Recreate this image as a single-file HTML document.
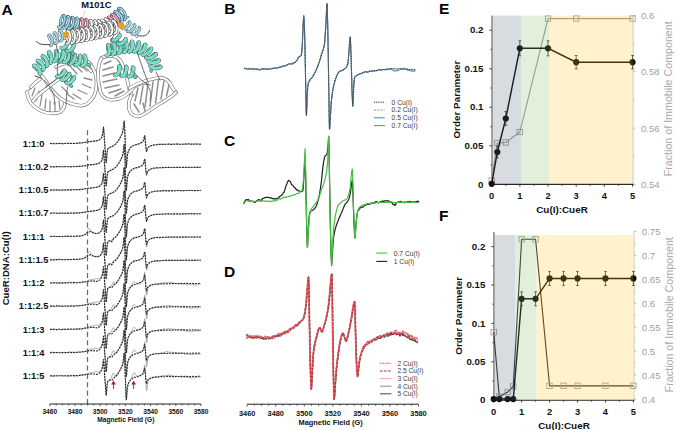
<!DOCTYPE html>
<html><head><meta charset="utf-8"><style>
html,body{margin:0;padding:0;background:#fff;width:676px;height:430px;overflow:hidden}
svg{display:block;font-family:"Liberation Sans", sans-serif}
</style></head><body>
<svg width="676" height="430" viewBox="0 0 676 430">
<rect width="676" height="430" fill="#fff"/>
<line x1="32.0" y1="96.0" x2="35.0" y2="88.0" stroke="#8e8e8e" stroke-width="1.30" stroke-linecap="round"/>
<line x1="36.0" y1="101.0" x2="39.0" y2="91.0" stroke="#8e8e8e" stroke-width="1.30" stroke-linecap="round"/>
<line x1="40.0" y1="106.0" x2="42.0" y2="95.0" stroke="#8e8e8e" stroke-width="1.30" stroke-linecap="round"/>
<line x1="45.0" y1="109.0" x2="46.0" y2="99.0" stroke="#8e8e8e" stroke-width="1.30" stroke-linecap="round"/>
<line x1="50.0" y1="111.0" x2="50.0" y2="101.0" stroke="#8e8e8e" stroke-width="1.30" stroke-linecap="round"/>
<line x1="55.0" y1="111.0" x2="55.0" y2="102.0" stroke="#8e8e8e" stroke-width="1.30" stroke-linecap="round"/>
<line x1="60.0" y1="109.0" x2="59.0" y2="101.0" stroke="#8e8e8e" stroke-width="1.30" stroke-linecap="round"/>
<line x1="29.0" y1="90.0" x2="35.0" y2="84.0" stroke="#8e8e8e" stroke-width="1.30" stroke-linecap="round"/>
<line x1="70.0" y1="66.0" x2="77.0" y2="74.0" stroke="#8e8e8e" stroke-width="1.30" stroke-linecap="round"/>
<line x1="75.0" y1="65.0" x2="82.0" y2="72.0" stroke="#8e8e8e" stroke-width="1.30" stroke-linecap="round"/>
<line x1="80.0" y1="64.0" x2="87.0" y2="71.0" stroke="#8e8e8e" stroke-width="1.30" stroke-linecap="round"/>
<line x1="85.0" y1="66.0" x2="91.0" y2="72.0" stroke="#8e8e8e" stroke-width="1.30" stroke-linecap="round"/>
<line x1="66.0" y1="71.0" x2="73.0" y2="78.0" stroke="#8e8e8e" stroke-width="1.30" stroke-linecap="round"/>
<line x1="84.0" y1="78.0" x2="92.0" y2="80.0" stroke="#8e8e8e" stroke-width="1.30" stroke-linecap="round"/>
<line x1="82.0" y1="84.0" x2="91.0" y2="88.0" stroke="#8e8e8e" stroke-width="1.30" stroke-linecap="round"/>
<line x1="78.0" y1="90.0" x2="87.0" y2="94.0" stroke="#8e8e8e" stroke-width="1.30" stroke-linecap="round"/>
<line x1="73.0" y1="94.0" x2="81.0" y2="99.0" stroke="#8e8e8e" stroke-width="1.30" stroke-linecap="round"/>
<line x1="67.0" y1="94.0" x2="74.0" y2="99.0" stroke="#8e8e8e" stroke-width="1.30" stroke-linecap="round"/>
<line x1="62.0" y1="87.0" x2="68.0" y2="93.0" stroke="#8e8e8e" stroke-width="1.30" stroke-linecap="round"/>
<path d="M26.8 92 C28 100 33 107 39.7 110.2 C45 113 53 114 59.3 112.5 C63 111 64.5 108 65.4 102" fill="none" stroke="#7c7c7c" stroke-width="3.60" stroke-linecap="round" stroke-linejoin="round"/><path d="M26.8 92 C28 100 33 107 39.7 110.2 C45 113 53 114 59.3 112.5 C63 111 64.5 108 65.4 102" fill="none" stroke="#ffffff" stroke-width="2.20" stroke-linecap="round" stroke-linejoin="round"/>
<path d="M35 67 C39 72 42 76 45 80 C50 88 55 94 60 98 C66 102 73 105 80.5 105.7 C86 106 91 101 94.1 95.8 C97 90 97 80 95.6 74.7 C94.5 70 91 64 88.1 61.8" fill="none" stroke="#7c7c7c" stroke-width="3.60" stroke-linecap="round" stroke-linejoin="round"/><path d="M35 67 C39 72 42 76 45 80 C50 88 55 94 60 98 C66 102 73 105 80.5 105.7 C86 106 91 101 94.1 95.8 C97 90 97 80 95.6 74.7 C94.5 70 91 64 88.1 61.8" fill="none" stroke="#ffffff" stroke-width="2.20" stroke-linecap="round" stroke-linejoin="round"/>
<path d="M33 101 C36 97 39 94 42 92 C47 88 53 83 58 80 C62 78 66 76.5 70 75.5" fill="none" stroke="#7c7c7c" stroke-width="3.60" stroke-linecap="round" stroke-linejoin="round"/><path d="M33 101 C36 97 39 94 42 92 C47 88 53 83 58 80 C62 78 66 76.5 70 75.5" fill="none" stroke="#ffffff" stroke-width="2.20" stroke-linecap="round" stroke-linejoin="round"/>
<path d="M31 87 C34 84 37 81 40 79" fill="none" stroke="#7c7c7c" stroke-width="3.60" stroke-linecap="round" stroke-linejoin="round"/><path d="M31 87 C34 84 37 81 40 79" fill="none" stroke="#ffffff" stroke-width="2.20" stroke-linecap="round" stroke-linejoin="round"/>
<path d="M56 67 C63 63 70 62 77 63 C83 64 88 67 91 71" fill="none" stroke="#7c7c7c" stroke-width="3.60" stroke-linecap="round" stroke-linejoin="round"/><path d="M56 67 C63 63 70 62 77 63 C83 64 88 67 91 71" fill="none" stroke="#ffffff" stroke-width="2.20" stroke-linecap="round" stroke-linejoin="round"/>
<path d="M35 76 L41 78" fill="none" stroke="#333" stroke-width="0.90" stroke-linecap="round"/>
<path d="M45.7 87.5 C50 84 56 80 59.3 76.2" fill="none" stroke="#444" stroke-width="0.80" stroke-linecap="round"/>
<path d="M44 80 C52 88 56 96 54 104" fill="none" stroke="#555" stroke-width="0.80" stroke-linecap="round"/>
<path d="M66 104 C67 98 66 92 68 86" fill="none" stroke="#555" stroke-width="0.80" stroke-linecap="round"/>
<line x1="104.0" y1="64.0" x2="111.0" y2="61.0" stroke="#8e8e8e" stroke-width="1.50" stroke-linecap="round"/>
<line x1="103.0" y1="70.0" x2="113.0" y2="67.0" stroke="#8e8e8e" stroke-width="1.50" stroke-linecap="round"/>
<line x1="103.0" y1="76.0" x2="115.0" y2="73.0" stroke="#8e8e8e" stroke-width="1.50" stroke-linecap="round"/>
<line x1="103.0" y1="82.0" x2="117.0" y2="79.0" stroke="#8e8e8e" stroke-width="1.50" stroke-linecap="round"/>
<line x1="105.0" y1="88.0" x2="119.0" y2="85.0" stroke="#8e8e8e" stroke-width="1.50" stroke-linecap="round"/>
<line x1="109.0" y1="93.0" x2="121.0" y2="89.0" stroke="#8e8e8e" stroke-width="1.50" stroke-linecap="round"/>
<line x1="115.0" y1="96.0" x2="124.0" y2="91.0" stroke="#8e8e8e" stroke-width="1.50" stroke-linecap="round"/>
<line x1="118.0" y1="60.0" x2="122.0" y2="66.0" stroke="#8e8e8e" stroke-width="1.50" stroke-linecap="round"/>
<line x1="138.0" y1="88.0" x2="135.0" y2="101.0" stroke="#8e8e8e" stroke-width="1.50" stroke-linecap="round"/>
<line x1="143.0" y1="86.0" x2="140.0" y2="104.0" stroke="#8e8e8e" stroke-width="1.50" stroke-linecap="round"/>
<line x1="148.0" y1="84.0" x2="145.0" y2="107.0" stroke="#8e8e8e" stroke-width="1.50" stroke-linecap="round"/>
<line x1="153.0" y1="82.0" x2="150.0" y2="106.0" stroke="#8e8e8e" stroke-width="1.50" stroke-linecap="round"/>
<line x1="158.5" y1="80.0" x2="155.5" y2="103.0" stroke="#8e8e8e" stroke-width="1.50" stroke-linecap="round"/>
<line x1="164.0" y1="81.0" x2="161.0" y2="99.0" stroke="#8e8e8e" stroke-width="1.50" stroke-linecap="round"/>
<line x1="169.0" y1="85.0" x2="166.5" y2="96.0" stroke="#8e8e8e" stroke-width="1.50" stroke-linecap="round"/>
<line x1="134.0" y1="104.0" x2="139.0" y2="112.0" stroke="#8e8e8e" stroke-width="1.50" stroke-linecap="round"/>
<line x1="143.0" y1="103.0" x2="145.0" y2="111.0" stroke="#8e8e8e" stroke-width="1.50" stroke-linecap="round"/>
<path d="M101.5 57.8 C108 55 116 55 120 60 C125 67 127 78 129 88 C130 92 131 94 132 95" fill="none" stroke="#7c7c7c" stroke-width="3.60" stroke-linecap="round" stroke-linejoin="round"/><path d="M101.5 57.8 C108 55 116 55 120 60 C125 67 127 78 129 88 C130 92 131 94 132 95" fill="none" stroke="#ffffff" stroke-width="2.20" stroke-linecap="round" stroke-linejoin="round"/>
<path d="M101.5 58 C97 66 97 80 100.5 92 C103 99 110 101 118 99 C126 97 131 91 134 87 C138 84 142 83 145 83" fill="none" stroke="#7c7c7c" stroke-width="3.60" stroke-linecap="round" stroke-linejoin="round"/><path d="M101.5 58 C97 66 97 80 100.5 92 C103 99 110 101 118 99 C126 97 131 91 134 87 C138 84 142 83 145 83" fill="none" stroke="#ffffff" stroke-width="2.20" stroke-linecap="round" stroke-linejoin="round"/>
<path d="M129.8 88 C136 84 146 80 159 77.7 C165 77 169 80 172.7 88 C174 91 176 92 176 92.4" fill="none" stroke="#7c7c7c" stroke-width="3.60" stroke-linecap="round" stroke-linejoin="round"/><path d="M129.8 88 C136 84 146 80 159 77.7 C165 77 169 80 172.7 88 C174 91 176 92 176 92.4" fill="none" stroke="#ffffff" stroke-width="2.20" stroke-linecap="round" stroke-linejoin="round"/>
<path d="M176 92.4 C172 97 165 101 156 106 C149 111 144 115 139 116.4 C133 117 129 113 128.7 106 C128.5 101 130 98 131 96" fill="none" stroke="#7c7c7c" stroke-width="3.60" stroke-linecap="round" stroke-linejoin="round"/><path d="M176 92.4 C172 97 165 101 156 106 C149 111 144 115 139 116.4 C133 117 129 113 128.7 106 C128.5 101 130 98 131 96" fill="none" stroke="#ffffff" stroke-width="2.20" stroke-linecap="round" stroke-linejoin="round"/>
<path d="M146 84 C150 88 152 94 150 100" fill="none" stroke="#555" stroke-width="0.80" stroke-linecap="round"/>
<polyline points="33.8,65.6 33.8,66.2 34.5,67.1 35.7,68.2 37.4,69.2 39.2,69.9 41.0,70.3 42.5,70.1 43.4,69.5" fill="none" stroke="#505050" stroke-width="3.23" stroke-linecap="round"/>
<polyline points="33.8,65.6 33.8,66.2 34.5,67.1 35.7,68.2 37.4,69.2 39.2,69.9 41.0,70.3 42.5,70.1 43.4,69.5" fill="none" stroke="#62cdb6" stroke-width="2.33" stroke-linecap="round"/>
<polyline points="37.7,60.8 37.7,61.4 38.3,62.4 39.5,63.5 41.0,64.6 42.8,65.5 44.5,66.0 46.0,66.1 47.0,65.6" fill="none" stroke="#505050" stroke-width="3.23" stroke-linecap="round"/>
<polyline points="37.7,60.8 37.7,61.4 38.3,62.4 39.5,63.5 41.0,64.6 42.8,65.5 44.5,66.0 46.0,66.1 47.0,65.6" fill="none" stroke="#62cdb6" stroke-width="2.33" stroke-linecap="round"/>
<polyline points="42.6,56.2 42.4,56.8 42.8,57.9 43.8,59.2 45.2,60.5 46.8,61.7 48.4,62.5 49.7,62.9 50.7,62.7" fill="none" stroke="#505050" stroke-width="3.23" stroke-linecap="round"/>
<polyline points="42.6,56.2 42.4,56.8 42.8,57.9 43.8,59.2 45.2,60.5 46.8,61.7 48.4,62.5 49.7,62.9 50.7,62.7" fill="none" stroke="#62cdb6" stroke-width="2.33" stroke-linecap="round"/>
<polyline points="48.9,52.4 48.5,53.0 48.6,54.2 49.1,55.7 50.1,57.4 51.3,58.9 52.5,60.2 53.5,61.1 54.3,61.3" fill="none" stroke="#505050" stroke-width="3.23" stroke-linecap="round"/>
<polyline points="48.9,52.4 48.5,53.0 48.6,54.2 49.1,55.7 50.1,57.4 51.3,58.9 52.5,60.2 53.5,61.1 54.3,61.3" fill="none" stroke="#62cdb6" stroke-width="2.33" stroke-linecap="round"/>
<polyline points="56.4,51.1 55.8,51.5 55.5,52.6 55.5,54.2 55.8,56.1 56.3,58.0 57.1,59.6 57.9,60.8 58.8,61.2" fill="none" stroke="#505050" stroke-width="3.23" stroke-linecap="round"/>
<polyline points="56.4,51.1 55.8,51.5 55.5,52.6 55.5,54.2 55.8,56.1 56.3,58.0 57.1,59.6 57.9,60.8 58.8,61.2" fill="none" stroke="#62cdb6" stroke-width="2.33" stroke-linecap="round"/>
<polyline points="63.1,51.7 62.6,52.0 62.1,53.0 61.7,54.6 61.6,56.6 61.8,58.5 62.2,60.3 63.0,61.5 63.9,62.1" fill="none" stroke="#505050" stroke-width="3.23" stroke-linecap="round"/>
<polyline points="63.1,51.7 62.6,52.0 62.1,53.0 61.7,54.6 61.6,56.6 61.8,58.5 62.2,60.3 63.0,61.5 63.9,62.1" fill="none" stroke="#62cdb6" stroke-width="2.33" stroke-linecap="round"/>
<polyline points="69.2,53.1 68.7,53.4 68.1,54.4 67.6,55.9 67.3,57.8 67.3,59.8 67.7,61.6 68.4,62.9 69.5,63.6" fill="none" stroke="#505050" stroke-width="3.23" stroke-linecap="round"/>
<polyline points="69.2,53.1 68.7,53.4 68.1,54.4 67.6,55.9 67.3,57.8 67.3,59.8 67.7,61.6 68.4,62.9 69.5,63.6" fill="none" stroke="#62cdb6" stroke-width="2.33" stroke-linecap="round"/>
<polyline points="74.8,54.6 74.3,54.9 73.7,55.8 73.2,57.4 73.0,59.3 73.0,61.3 73.5,63.1 74.3,64.4 75.5,65.0" fill="none" stroke="#505050" stroke-width="3.23" stroke-linecap="round"/>
<polyline points="74.8,54.6 74.3,54.9 73.7,55.8 73.2,57.4 73.0,59.3 73.0,61.3 73.5,63.1 74.3,64.4 75.5,65.0" fill="none" stroke="#62cdb6" stroke-width="2.33" stroke-linecap="round"/>
<polyline points="80.0,55.6 79.5,56.0 79.1,57.0 78.8,58.6 78.7,60.5 79.0,62.5 79.7,64.2 80.8,65.4 82.1,65.8" fill="none" stroke="#505050" stroke-width="3.23" stroke-linecap="round"/>
<polyline points="80.0,55.6 79.5,56.0 79.1,57.0 78.8,58.6 78.7,60.5 79.0,62.5 79.7,64.2 80.8,65.4 82.1,65.8" fill="none" stroke="#62cdb6" stroke-width="2.33" stroke-linecap="round"/>
<polyline points="84.5,55.7 84.2,56.1 84.1,57.2 84.2,58.9 84.5,60.7 85.3,62.6 86.5,64.0 88.0,64.8 89.6,64.8" fill="none" stroke="#505050" stroke-width="3.23" stroke-linecap="round"/>
<polyline points="84.5,55.7 84.2,56.1 84.1,57.2 84.2,58.9 84.5,60.7 85.3,62.6 86.5,64.0 88.0,64.8 89.6,64.8" fill="none" stroke="#62cdb6" stroke-width="2.33" stroke-linecap="round"/>
<polyline points="40.0,74.0 40.4,72.8 40.1,71.3 39.3,69.7 38.1,68.2 36.8,66.8 35.4,65.9 34.4,65.5 33.8,65.6" fill="none" stroke="#505050" stroke-width="4.00" stroke-linecap="round"/>
<polyline points="40.0,74.0 40.4,72.8 40.1,71.3 39.3,69.7 38.1,68.2 36.8,66.8 35.4,65.9 34.4,65.5 33.8,65.6" fill="none" stroke="#72e2cb" stroke-width="3.10" stroke-linecap="round"/>
<polyline points="43.4,69.5 43.8,68.4 43.6,67.0 42.9,65.3 41.9,63.7 40.6,62.2 39.4,61.2 38.3,60.7 37.7,60.8" fill="none" stroke="#505050" stroke-width="4.00" stroke-linecap="round"/>
<polyline points="43.4,69.5 43.8,68.4 43.6,67.0 42.9,65.3 41.9,63.7 40.6,62.2 39.4,61.2 38.3,60.7 37.7,60.8" fill="none" stroke="#72e2cb" stroke-width="3.10" stroke-linecap="round"/>
<polyline points="47.0,65.6 47.4,64.7 47.4,63.2 46.9,61.5 46.2,59.7 45.2,58.0 44.1,56.8 43.2,56.2 42.6,56.2" fill="none" stroke="#505050" stroke-width="4.00" stroke-linecap="round"/>
<polyline points="47.0,65.6 47.4,64.7 47.4,63.2 46.9,61.5 46.2,59.7 45.2,58.0 44.1,56.8 43.2,56.2 42.6,56.2" fill="none" stroke="#72e2cb" stroke-width="3.10" stroke-linecap="round"/>
<polyline points="50.7,62.7 51.2,61.9 51.5,60.6 51.5,58.9 51.3,56.9 50.9,55.0 50.3,53.5 49.6,52.6 48.9,52.4" fill="none" stroke="#505050" stroke-width="4.00" stroke-linecap="round"/>
<polyline points="50.7,62.7 51.2,61.9 51.5,60.6 51.5,58.9 51.3,56.9 50.9,55.0 50.3,53.5 49.6,52.6 48.9,52.4" fill="none" stroke="#72e2cb" stroke-width="3.10" stroke-linecap="round"/>
<polyline points="54.3,61.3 55.1,60.8 55.9,59.6 56.5,58.0 57.1,56.1 57.3,54.2 57.2,52.6 56.9,51.5 56.4,51.1" fill="none" stroke="#505050" stroke-width="4.00" stroke-linecap="round"/>
<polyline points="54.3,61.3 55.1,60.8 55.9,59.6 56.5,58.0 57.1,56.1 57.3,54.2 57.2,52.6 56.9,51.5 56.4,51.1" fill="none" stroke="#72e2cb" stroke-width="3.10" stroke-linecap="round"/>
<polyline points="58.8,61.2 59.9,61.0 60.9,60.0 62.0,58.6 62.9,56.8 63.4,55.0 63.7,53.3 63.5,52.2 63.1,51.7" fill="none" stroke="#505050" stroke-width="4.00" stroke-linecap="round"/>
<polyline points="58.8,61.2 59.9,61.0 60.9,60.0 62.0,58.6 62.9,56.8 63.4,55.0 63.7,53.3 63.5,52.2 63.1,51.7" fill="none" stroke="#72e2cb" stroke-width="3.10" stroke-linecap="round"/>
<polyline points="63.9,62.1 65.1,62.0 66.4,61.2 67.6,59.9 68.5,58.1 69.2,56.3 69.6,54.8 69.5,53.6 69.2,53.1" fill="none" stroke="#505050" stroke-width="4.00" stroke-linecap="round"/>
<polyline points="63.9,62.1 65.1,62.0 66.4,61.2 67.6,59.9 68.5,58.1 69.2,56.3 69.6,54.8 69.5,53.6 69.2,53.1" fill="none" stroke="#72e2cb" stroke-width="3.10" stroke-linecap="round"/>
<polyline points="69.5,63.6 70.7,63.5 72.0,62.7 73.2,61.3 74.2,59.6 74.8,57.8 75.1,56.2 75.1,55.1 74.8,54.6" fill="none" stroke="#505050" stroke-width="4.00" stroke-linecap="round"/>
<polyline points="69.5,63.6 70.7,63.5 72.0,62.7 73.2,61.3 74.2,59.6 74.8,57.8 75.1,56.2 75.1,55.1 74.8,54.6" fill="none" stroke="#72e2cb" stroke-width="3.10" stroke-linecap="round"/>
<polyline points="75.5,65.0 76.8,64.9 78.1,64.0 79.2,62.5 80.0,60.7 80.4,58.8 80.4,57.2 80.3,56.1 80.0,55.6" fill="none" stroke="#505050" stroke-width="4.00" stroke-linecap="round"/>
<polyline points="75.5,65.0 76.8,64.9 78.1,64.0 79.2,62.5 80.0,60.7 80.4,58.8 80.4,57.2 80.3,56.1 80.0,55.6" fill="none" stroke="#72e2cb" stroke-width="3.10" stroke-linecap="round"/>
<polyline points="82.1,65.8 83.6,65.4 84.8,64.3 85.5,62.5 85.8,60.6 85.6,58.7 85.3,57.1 84.9,56.0 84.5,55.7" fill="none" stroke="#505050" stroke-width="4.00" stroke-linecap="round"/>
<polyline points="82.1,65.8 83.6,65.4 84.8,64.3 85.5,62.5 85.8,60.6 85.6,58.7 85.3,57.1 84.9,56.0 84.5,55.7" fill="none" stroke="#72e2cb" stroke-width="3.10" stroke-linecap="round"/>
<polyline points="67.7,42.5 67.4,42.7 66.9,43.4 66.4,44.6 66.0,46.0 65.9,47.6 66.0,49.1 66.5,50.3 67.3,51.0" fill="none" stroke="#505050" stroke-width="3.23" stroke-linecap="round"/>
<polyline points="67.7,42.5 67.4,42.7 66.9,43.4 66.4,44.6 66.0,46.0 65.9,47.6 66.0,49.1 66.5,50.3 67.3,51.0" fill="none" stroke="#62cdb6" stroke-width="2.33" stroke-linecap="round"/>
<polyline points="73.7,45.5 73.4,45.7 72.9,46.4 72.4,47.6 72.0,49.0 71.9,50.6 72.0,52.1 72.5,53.3 73.3,54.0" fill="none" stroke="#505050" stroke-width="3.23" stroke-linecap="round"/>
<polyline points="73.7,45.5 73.4,45.7 72.9,46.4 72.4,47.6 72.0,49.0 71.9,50.6 72.0,52.1 72.5,53.3 73.3,54.0" fill="none" stroke="#62cdb6" stroke-width="2.33" stroke-linecap="round"/>
<polyline points="61.3,48.0 62.3,48.2 63.6,47.9 64.8,47.1 66.0,46.0 66.9,44.8 67.5,43.7 67.8,42.9 67.7,42.5" fill="none" stroke="#505050" stroke-width="4.00" stroke-linecap="round"/>
<polyline points="61.3,48.0 62.3,48.2 63.6,47.9 64.8,47.1 66.0,46.0 66.9,44.8 67.5,43.7 67.8,42.9 67.7,42.5" fill="none" stroke="#72e2cb" stroke-width="3.10" stroke-linecap="round"/>
<polyline points="67.3,51.0 68.3,51.2 69.6,50.9 70.8,50.1 72.0,49.0 72.9,47.8 73.5,46.7 73.8,45.9 73.7,45.5" fill="none" stroke="#505050" stroke-width="4.00" stroke-linecap="round"/>
<polyline points="67.3,51.0 68.3,51.2 69.6,50.9 70.8,50.1 72.0,49.0 72.9,47.8 73.5,46.7 73.8,45.9 73.7,45.5" fill="none" stroke="#72e2cb" stroke-width="3.10" stroke-linecap="round"/>
<polyline points="64.5,70.5 64.0,70.5 63.2,71.2 62.4,72.4 61.6,73.9 61.0,75.6 60.8,77.3 61.1,78.6 61.8,79.5" fill="none" stroke="#505050" stroke-width="3.23" stroke-linecap="round"/>
<polyline points="64.5,70.5 64.0,70.5 63.2,71.2 62.4,72.4 61.6,73.9 61.0,75.6 60.8,77.3 61.1,78.6 61.8,79.5" fill="none" stroke="#62cdb6" stroke-width="2.33" stroke-linecap="round"/>
<polyline points="69.3,73.8 68.8,73.9 68.1,74.5 67.2,75.7 66.4,77.3 65.8,79.0 65.7,80.6 65.9,82.0 66.6,82.9" fill="none" stroke="#505050" stroke-width="3.23" stroke-linecap="round"/>
<polyline points="69.3,73.8 68.8,73.9 68.1,74.5 67.2,75.7 66.4,77.3 65.8,79.0 65.7,80.6 65.9,82.0 66.6,82.9" fill="none" stroke="#62cdb6" stroke-width="2.33" stroke-linecap="round"/>
<polyline points="74.1,77.1 73.7,77.2 72.9,77.9 72.0,79.0 71.2,80.6 70.7,82.3 70.5,83.9 70.7,85.3 71.4,86.2" fill="none" stroke="#505050" stroke-width="3.23" stroke-linecap="round"/>
<polyline points="74.1,77.1 73.7,77.2 72.9,77.9 72.0,79.0 71.2,80.6 70.7,82.3 70.5,83.9 70.7,85.3 71.4,86.2" fill="none" stroke="#62cdb6" stroke-width="2.33" stroke-linecap="round"/>
<polyline points="56.9,76.2 58.0,76.5 59.4,76.3 60.9,75.5 62.3,74.4 63.4,73.1 64.2,71.9 64.6,70.9 64.5,70.5" fill="none" stroke="#505050" stroke-width="4.00" stroke-linecap="round"/>
<polyline points="56.9,76.2 58.0,76.5 59.4,76.3 60.9,75.5 62.3,74.4 63.4,73.1 64.2,71.9 64.6,70.9 64.5,70.5" fill="none" stroke="#72e2cb" stroke-width="3.10" stroke-linecap="round"/>
<polyline points="61.8,79.5 62.9,79.9 64.2,79.6 65.7,78.9 67.1,77.7 68.3,76.4 69.1,75.2 69.4,74.3 69.3,73.8" fill="none" stroke="#505050" stroke-width="4.00" stroke-linecap="round"/>
<polyline points="61.8,79.5 62.9,79.9 64.2,79.6 65.7,78.9 67.1,77.7 68.3,76.4 69.1,75.2 69.4,74.3 69.3,73.8" fill="none" stroke="#72e2cb" stroke-width="3.10" stroke-linecap="round"/>
<polyline points="66.6,82.9 67.7,83.2 69.1,83.0 70.5,82.2 71.9,81.1 73.1,79.8 73.9,78.6 74.2,77.6 74.1,77.1" fill="none" stroke="#505050" stroke-width="4.00" stroke-linecap="round"/>
<polyline points="66.6,82.9 67.7,83.2 69.1,83.0 70.5,82.2 71.9,81.1 73.1,79.8 73.9,78.6 74.2,77.6 74.1,77.1" fill="none" stroke="#72e2cb" stroke-width="3.10" stroke-linecap="round"/>
<path d="M58 75 C56 68 58 62 60 58" fill="none" stroke="#454545" stroke-width="0.80" stroke-linecap="round"/>
<path d="M70 52 C72 56 70 62 68 66" fill="none" stroke="#454545" stroke-width="0.80" stroke-linecap="round"/>
<polyline points="108.1,45.2 107.7,45.6 107.6,46.7 107.8,48.3 108.2,50.2 109.1,52.0 110.2,53.5 111.4,54.4 112.7,54.5" fill="none" stroke="#505050" stroke-width="3.23" stroke-linecap="round"/>
<polyline points="108.1,45.2 107.7,45.6 107.6,46.7 107.8,48.3 108.2,50.2 109.1,52.0 110.2,53.5 111.4,54.4 112.7,54.5" fill="none" stroke="#62cdb6" stroke-width="2.33" stroke-linecap="round"/>
<polyline points="113.6,44.1 113.2,44.6 113.1,45.7 113.4,47.3 114.0,49.2 114.9,50.9 116.0,52.3 117.3,53.2 118.5,53.3" fill="none" stroke="#505050" stroke-width="3.23" stroke-linecap="round"/>
<polyline points="113.6,44.1 113.2,44.6 113.1,45.7 113.4,47.3 114.0,49.2 114.9,50.9 116.0,52.3 117.3,53.2 118.5,53.3" fill="none" stroke="#62cdb6" stroke-width="2.33" stroke-linecap="round"/>
<polyline points="119.3,42.9 118.9,43.4 118.8,44.5 119.1,46.1 119.7,48.0 120.5,49.7 121.6,51.2 122.8,52.0 124.0,52.2" fill="none" stroke="#505050" stroke-width="3.23" stroke-linecap="round"/>
<polyline points="119.3,42.9 118.9,43.4 118.8,44.5 119.1,46.1 119.7,48.0 120.5,49.7 121.6,51.2 122.8,52.0 124.0,52.2" fill="none" stroke="#62cdb6" stroke-width="2.33" stroke-linecap="round"/>
<polyline points="125.4,41.9 125.0,42.3 124.8,43.5 124.9,45.1 125.4,47.0 126.1,48.8 127.1,50.3 128.2,51.3 129.2,51.6" fill="none" stroke="#505050" stroke-width="3.23" stroke-linecap="round"/>
<polyline points="125.4,41.9 125.0,42.3 124.8,43.5 124.9,45.1 125.4,47.0 126.1,48.8 127.1,50.3 128.2,51.3 129.2,51.6" fill="none" stroke="#62cdb6" stroke-width="2.33" stroke-linecap="round"/>
<polyline points="131.9,41.5 131.4,41.9 131.0,43.0 130.9,44.6 131.2,46.5 131.7,48.4 132.4,50.1 133.3,51.2 134.2,51.6" fill="none" stroke="#505050" stroke-width="3.23" stroke-linecap="round"/>
<polyline points="131.9,41.5 131.4,41.9 131.0,43.0 130.9,44.6 131.2,46.5 131.7,48.4 132.4,50.1 133.3,51.2 134.2,51.6" fill="none" stroke="#62cdb6" stroke-width="2.33" stroke-linecap="round"/>
<polyline points="138.7,42.3 138.1,42.5 137.5,43.5 137.1,45.1 137.0,47.0 137.1,49.0 137.4,50.7 137.9,52.0 138.7,52.7" fill="none" stroke="#505050" stroke-width="3.23" stroke-linecap="round"/>
<polyline points="138.7,42.3 138.1,42.5 137.5,43.5 137.1,45.1 137.0,47.0 137.1,49.0 137.4,50.7 137.9,52.0 138.7,52.7" fill="none" stroke="#62cdb6" stroke-width="2.33" stroke-linecap="round"/>
<polyline points="145.3,44.7 144.7,44.8 143.9,45.6 143.1,47.0 142.5,48.8 142.1,50.8 142.0,52.5 142.2,53.9 142.7,54.7" fill="none" stroke="#505050" stroke-width="3.23" stroke-linecap="round"/>
<polyline points="145.3,44.7 144.7,44.8 143.9,45.6 143.1,47.0 142.5,48.8 142.1,50.8 142.0,52.5 142.2,53.9 142.7,54.7" fill="none" stroke="#62cdb6" stroke-width="2.33" stroke-linecap="round"/>
<polyline points="151.2,48.6 150.5,48.6 149.5,49.1 148.4,50.3 147.4,51.9 146.5,53.7 145.9,55.4 145.8,56.8 146.1,57.7" fill="none" stroke="#505050" stroke-width="3.23" stroke-linecap="round"/>
<polyline points="151.2,48.6 150.5,48.6 149.5,49.1 148.4,50.3 147.4,51.9 146.5,53.7 145.9,55.4 145.8,56.8 146.1,57.7" fill="none" stroke="#62cdb6" stroke-width="2.33" stroke-linecap="round"/>
<polyline points="155.8,54.1 155.2,53.8 154.1,54.1 152.7,55.0 151.3,56.2 149.9,57.7 148.9,59.2 148.4,60.5 148.5,61.5" fill="none" stroke="#505050" stroke-width="3.23" stroke-linecap="round"/>
<polyline points="155.8,54.1 155.2,53.8 154.1,54.1 152.7,55.0 151.3,56.2 149.9,57.7 148.9,59.2 148.4,60.5 148.5,61.5" fill="none" stroke="#62cdb6" stroke-width="2.33" stroke-linecap="round"/>
<polyline points="158.9,60.3 158.3,59.9 157.2,60.0 155.6,60.5 153.9,61.4 152.3,62.5 151.0,63.8 150.3,65.0 150.2,66.0" fill="none" stroke="#505050" stroke-width="3.23" stroke-linecap="round"/>
<polyline points="158.9,60.3 158.3,59.9 157.2,60.0 155.6,60.5 153.9,61.4 152.3,62.5 151.0,63.8 150.3,65.0 150.2,66.0" fill="none" stroke="#62cdb6" stroke-width="2.33" stroke-linecap="round"/>
<polyline points="160.6,66.8 160.1,66.3 159.0,66.2 157.3,66.4 155.5,67.0 153.7,67.8 152.2,68.8 151.3,69.9 151.0,71.0" fill="none" stroke="#505050" stroke-width="3.23" stroke-linecap="round"/>
<polyline points="160.6,66.8 160.1,66.3 159.0,66.2 157.3,66.4 155.5,67.0 153.7,67.8 152.2,68.8 151.3,69.9 151.0,71.0" fill="none" stroke="#62cdb6" stroke-width="2.33" stroke-linecap="round"/>
<polyline points="106.5,55.5 107.8,54.9 108.7,53.7 109.3,52.0 109.5,50.0 109.4,48.1 109.0,46.5 108.6,45.5 108.1,45.2" fill="none" stroke="#505050" stroke-width="4.00" stroke-linecap="round"/>
<polyline points="106.5,55.5 107.8,54.9 108.7,53.7 109.3,52.0 109.5,50.0 109.4,48.1 109.0,46.5 108.6,45.5 108.1,45.2" fill="none" stroke="#72e2cb" stroke-width="3.10" stroke-linecap="round"/>
<polyline points="112.7,54.5 113.8,53.9 114.6,52.6 115.1,50.9 115.2,48.9 115.0,47.0 114.6,45.4 114.1,44.4 113.6,44.1" fill="none" stroke="#505050" stroke-width="4.00" stroke-linecap="round"/>
<polyline points="112.7,54.5 113.8,53.9 114.6,52.6 115.1,50.9 115.2,48.9 115.0,47.0 114.6,45.4 114.1,44.4 113.6,44.1" fill="none" stroke="#72e2cb" stroke-width="3.10" stroke-linecap="round"/>
<polyline points="118.5,53.3 119.5,52.7 120.3,51.4 120.8,49.7 120.9,47.7 120.8,45.8 120.4,44.2 119.8,43.2 119.3,42.9" fill="none" stroke="#505050" stroke-width="4.00" stroke-linecap="round"/>
<polyline points="118.5,53.3 119.5,52.7 120.3,51.4 120.8,49.7 120.9,47.7 120.8,45.8 120.4,44.2 119.8,43.2 119.3,42.9" fill="none" stroke="#72e2cb" stroke-width="3.10" stroke-linecap="round"/>
<polyline points="124.0,52.2 125.0,51.7 125.8,50.5 126.4,48.8 126.7,46.8 126.7,44.9 126.4,43.3 125.9,42.2 125.4,41.9" fill="none" stroke="#505050" stroke-width="4.00" stroke-linecap="round"/>
<polyline points="124.0,52.2 125.0,51.7 125.8,50.5 126.4,48.8 126.7,46.8 126.7,44.9 126.4,43.3 125.9,42.2 125.4,41.9" fill="none" stroke="#72e2cb" stroke-width="3.10" stroke-linecap="round"/>
<polyline points="129.2,51.6 130.3,51.1 131.2,50.0 131.9,48.4 132.5,46.5 132.7,44.6 132.7,43.0 132.4,41.9 131.9,41.5" fill="none" stroke="#505050" stroke-width="4.00" stroke-linecap="round"/>
<polyline points="129.2,51.6 130.3,51.1 131.2,50.0 131.9,48.4 132.5,46.5 132.7,44.6 132.7,43.0 132.4,41.9 131.9,41.5" fill="none" stroke="#72e2cb" stroke-width="3.10" stroke-linecap="round"/>
<polyline points="134.2,51.6 135.2,51.4 136.2,50.5 137.3,49.0 138.2,47.3 138.9,45.5 139.2,43.9 139.1,42.8 138.7,42.3" fill="none" stroke="#505050" stroke-width="4.00" stroke-linecap="round"/>
<polyline points="134.2,51.6 135.2,51.4 136.2,50.5 137.3,49.0 138.2,47.3 138.9,45.5 139.2,43.9 139.1,42.8 138.7,42.3" fill="none" stroke="#72e2cb" stroke-width="3.10" stroke-linecap="round"/>
<polyline points="138.7,52.7 139.7,52.6 140.9,52.0 142.3,50.9 143.6,49.4 144.7,47.8 145.4,46.4 145.6,45.2 145.3,44.7" fill="none" stroke="#505050" stroke-width="4.00" stroke-linecap="round"/>
<polyline points="138.7,52.7 139.7,52.6 140.9,52.0 142.3,50.9 143.6,49.4 144.7,47.8 145.4,46.4 145.6,45.2 145.3,44.7" fill="none" stroke="#72e2cb" stroke-width="3.10" stroke-linecap="round"/>
<polyline points="142.7,54.7 143.7,55.0 145.1,54.6 146.7,53.9 148.3,52.8 149.8,51.6 150.8,50.3 151.3,49.3 151.2,48.6" fill="none" stroke="#505050" stroke-width="4.00" stroke-linecap="round"/>
<polyline points="142.7,54.7 143.7,55.0 145.1,54.6 146.7,53.9 148.3,52.8 149.8,51.6 150.8,50.3 151.3,49.3 151.2,48.6" fill="none" stroke="#72e2cb" stroke-width="3.10" stroke-linecap="round"/>
<polyline points="146.1,57.7 146.9,58.1 148.3,58.2 150.1,57.9 152.0,57.3 153.7,56.5 155.0,55.6 155.8,54.7 155.8,54.1" fill="none" stroke="#505050" stroke-width="4.00" stroke-linecap="round"/>
<polyline points="146.1,57.7 146.9,58.1 148.3,58.2 150.1,57.9 152.0,57.3 153.7,56.5 155.0,55.6 155.8,54.7 155.8,54.1" fill="none" stroke="#72e2cb" stroke-width="3.10" stroke-linecap="round"/>
<polyline points="148.5,61.5 149.3,62.2 150.6,62.6 152.4,62.8 154.4,62.6 156.3,62.2 157.8,61.6 158.7,60.9 158.9,60.3" fill="none" stroke="#505050" stroke-width="4.00" stroke-linecap="round"/>
<polyline points="148.5,61.5 149.3,62.2 150.6,62.6 152.4,62.8 154.4,62.6 156.3,62.2 157.8,61.6 158.7,60.9 158.9,60.3" fill="none" stroke="#72e2cb" stroke-width="3.10" stroke-linecap="round"/>
<polyline points="150.2,66.0 150.8,66.9 152.0,67.6 153.8,68.1 155.7,68.3 157.6,68.2 159.2,67.8 160.3,67.3 160.6,66.8" fill="none" stroke="#505050" stroke-width="4.00" stroke-linecap="round"/>
<polyline points="150.2,66.0 150.8,66.9 152.0,67.6 153.8,68.1 155.7,68.3 157.6,68.2 159.2,67.8 160.3,67.3 160.6,66.8" fill="none" stroke="#72e2cb" stroke-width="3.10" stroke-linecap="round"/>
<polyline points="119.7,35.2 119.4,35.3 118.8,36.0 118.2,37.1 117.6,38.6 117.2,40.2 117.2,41.7 117.5,43.0 118.3,43.8" fill="none" stroke="#505050" stroke-width="3.23" stroke-linecap="round"/>
<polyline points="119.7,35.2 119.4,35.3 118.8,36.0 118.2,37.1 117.6,38.6 117.2,40.2 117.2,41.7 117.5,43.0 118.3,43.8" fill="none" stroke="#62cdb6" stroke-width="2.33" stroke-linecap="round"/>
<polyline points="125.7,39.2 125.4,39.3 124.8,40.0 124.2,41.1 123.6,42.6 123.2,44.2 123.2,45.7 123.5,47.0 124.3,47.8" fill="none" stroke="#505050" stroke-width="3.23" stroke-linecap="round"/>
<polyline points="125.7,39.2 125.4,39.3 124.8,40.0 124.2,41.1 123.6,42.6 123.2,44.2 123.2,45.7 123.5,47.0 124.3,47.8" fill="none" stroke="#62cdb6" stroke-width="2.33" stroke-linecap="round"/>
<polyline points="112.3,39.8 113.4,40.2 114.7,40.0 116.1,39.4 117.4,38.4 118.5,37.3 119.3,36.3 119.7,35.5 119.7,35.2" fill="none" stroke="#505050" stroke-width="4.00" stroke-linecap="round"/>
<polyline points="112.3,39.8 113.4,40.2 114.7,40.0 116.1,39.4 117.4,38.4 118.5,37.3 119.3,36.3 119.7,35.5 119.7,35.2" fill="none" stroke="#72e2cb" stroke-width="3.10" stroke-linecap="round"/>
<polyline points="118.3,43.8 119.4,44.2 120.7,44.0 122.1,43.4 123.4,42.4 124.5,41.3 125.3,40.3 125.7,39.5 125.7,39.2" fill="none" stroke="#505050" stroke-width="4.00" stroke-linecap="round"/>
<polyline points="118.3,43.8 119.4,44.2 120.7,44.0 122.1,43.4 123.4,42.4 124.5,41.3 125.3,40.3 125.7,39.5 125.7,39.2" fill="none" stroke="#72e2cb" stroke-width="3.10" stroke-linecap="round"/>
<polyline points="119.4,66.1 119.0,66.4 118.7,67.4 118.5,68.9 118.6,70.8 119.0,72.7 119.7,74.3 120.7,75.5 121.9,75.9" fill="none" stroke="#505050" stroke-width="3.23" stroke-linecap="round"/>
<polyline points="119.4,66.1 119.0,66.4 118.7,67.4 118.5,68.9 118.6,70.8 119.0,72.7 119.7,74.3 120.7,75.5 121.9,75.9" fill="none" stroke="#62cdb6" stroke-width="2.33" stroke-linecap="round"/>
<polyline points="126.2,66.7 125.8,67.1 125.5,68.1 125.4,69.6 125.5,71.5 125.9,73.4 126.6,75.0 127.5,76.1 128.7,76.6" fill="none" stroke="#505050" stroke-width="3.23" stroke-linecap="round"/>
<polyline points="126.2,66.7 125.8,67.1 125.5,68.1 125.4,69.6 125.5,71.5 125.9,73.4 126.6,75.0 127.5,76.1 128.7,76.6" fill="none" stroke="#62cdb6" stroke-width="2.33" stroke-linecap="round"/>
<polyline points="133.0,67.4 132.7,67.7 132.3,68.7 132.2,70.3 132.3,72.1 132.7,74.0 133.4,75.7 134.4,76.8 135.5,77.3" fill="none" stroke="#505050" stroke-width="3.23" stroke-linecap="round"/>
<polyline points="133.0,67.4 132.7,67.7 132.3,68.7 132.2,70.3 132.3,72.1 132.7,74.0 133.4,75.7 134.4,76.8 135.5,77.3" fill="none" stroke="#62cdb6" stroke-width="2.33" stroke-linecap="round"/>
<polyline points="115.0,75.3 116.3,75.0 117.4,74.1 118.5,72.6 119.2,70.9 119.7,69.1 119.8,67.5 119.7,66.5 119.4,66.1" fill="none" stroke="#505050" stroke-width="4.00" stroke-linecap="round"/>
<polyline points="115.0,75.3 116.3,75.0 117.4,74.1 118.5,72.6 119.2,70.9 119.7,69.1 119.8,67.5 119.7,66.5 119.4,66.1" fill="none" stroke="#72e2cb" stroke-width="3.10" stroke-linecap="round"/>
<polyline points="121.9,75.9 123.1,75.7 124.3,74.8 125.3,73.3 126.0,71.5 126.5,69.7 126.6,68.2 126.5,67.1 126.2,66.7" fill="none" stroke="#505050" stroke-width="4.00" stroke-linecap="round"/>
<polyline points="121.9,75.9 123.1,75.7 124.3,74.8 125.3,73.3 126.0,71.5 126.5,69.7 126.6,68.2 126.5,67.1 126.2,66.7" fill="none" stroke="#72e2cb" stroke-width="3.10" stroke-linecap="round"/>
<polyline points="128.7,76.6 129.9,76.4 131.1,75.4 132.1,74.0 132.9,72.2 133.3,70.4 133.5,68.8 133.4,67.8 133.0,67.4" fill="none" stroke="#505050" stroke-width="4.00" stroke-linecap="round"/>
<polyline points="128.7,76.6 129.9,76.4 131.1,75.4 132.1,74.0 132.9,72.2 133.3,70.4 133.5,68.8 133.4,67.8 133.0,67.4" fill="none" stroke="#72e2cb" stroke-width="3.10" stroke-linecap="round"/>
<path d="M134 72 C140 80 146 84 150 85" fill="none" stroke="#454545" stroke-width="0.80" stroke-linecap="round"/>
<path d="M137 52 C140 60 143 70 148 82" fill="none" stroke="#454545" stroke-width="0.80" stroke-linecap="round"/>
<path d="M114 35 C110 40 110 46 112 50" fill="none" stroke="#454545" stroke-width="0.80" stroke-linecap="round"/>
<path d="M156 72 L160 80" fill="none" stroke="#454545" stroke-width="0.80" stroke-linecap="round"/>
<path d="M36.3 41.4 C39 44 42 45.3 49.6 44.4" fill="none" stroke="#454545" stroke-width="1.00" stroke-linecap="round"/>
<path d="M137 35 C142 37.5 148 36 149.5 30.5" fill="none" stroke="#454545" stroke-width="1.00" stroke-linecap="round"/>
<path d="M56 44 C57 47 57 50 58 53" fill="none" stroke="#454545" stroke-width="0.80" stroke-linecap="round"/>
<polyline points="49.0,35.3 48.6,35.9 48.7,37.0 49.2,38.6 50.1,40.3 51.4,41.8 52.9,42.9 54.4,43.4 55.7,43.2" fill="none" stroke="#4a4a4a" stroke-width="2.12" stroke-linecap="round"/>
<polyline points="49.0,35.3 48.6,35.9 48.7,37.0 49.2,38.6 50.1,40.3 51.4,41.8 52.9,42.9 54.4,43.4 55.7,43.2" fill="none" stroke="#ffffff" stroke-width="1.32" stroke-linecap="round"/>
<polyline points="54.2,32.9 53.8,33.5 53.8,34.7 54.3,36.3 55.3,37.9 56.5,39.5 58.0,40.6 59.5,41.1 60.9,40.9" fill="none" stroke="#4a4a4a" stroke-width="2.12" stroke-linecap="round"/>
<polyline points="54.2,32.9 53.8,33.5 53.8,34.7 54.3,36.3 55.3,37.9 56.5,39.5 58.0,40.6 59.5,41.1 60.9,40.9" fill="none" stroke="#ffffff" stroke-width="1.32" stroke-linecap="round"/>
<polyline points="59.4,30.6 59.0,31.2 59.0,32.4 59.5,33.9 60.4,35.6 61.7,37.1 63.2,38.2 64.7,38.7 66.1,38.6" fill="none" stroke="#4a4a4a" stroke-width="2.12" stroke-linecap="round"/>
<polyline points="59.4,30.6 59.0,31.2 59.0,32.4 59.5,33.9 60.4,35.6 61.7,37.1 63.2,38.2 64.7,38.7 66.1,38.6" fill="none" stroke="#ffffff" stroke-width="1.32" stroke-linecap="round"/>
<polyline points="50.6,45.6 51.6,44.7 52.2,43.2 52.4,41.4 52.1,39.4 51.4,37.6 50.6,36.2 49.7,35.4 49.0,35.3" fill="none" stroke="#4a4a4a" stroke-width="3.00" stroke-linecap="round"/>
<polyline points="50.6,45.6 51.6,44.7 52.2,43.2 52.4,41.4 52.1,39.4 51.4,37.6 50.6,36.2 49.7,35.4 49.0,35.3" fill="none" stroke="#95d8ee" stroke-width="2.20" stroke-linecap="round"/>
<polyline points="55.7,43.2 56.8,42.3 57.4,40.9 57.5,39.0 57.2,37.1 56.6,35.2 55.8,33.8 54.9,33.0 54.2,32.9" fill="none" stroke="#4a4a4a" stroke-width="3.00" stroke-linecap="round"/>
<polyline points="55.7,43.2 56.8,42.3 57.4,40.9 57.5,39.0 57.2,37.1 56.6,35.2 55.8,33.8 54.9,33.0 54.2,32.9" fill="none" stroke="#95d8ee" stroke-width="2.20" stroke-linecap="round"/>
<polyline points="60.9,40.9 61.9,40.0 62.5,38.5 62.7,36.7 62.4,34.7 61.8,32.9 60.9,31.5 60.1,30.7 59.4,30.6" fill="none" stroke="#4a4a4a" stroke-width="3.00" stroke-linecap="round"/>
<polyline points="60.9,40.9 61.9,40.0 62.5,38.5 62.7,36.7 62.4,34.7 61.8,32.9 60.9,31.5 60.1,30.7 59.4,30.6" fill="none" stroke="#95d8ee" stroke-width="2.20" stroke-linecap="round"/>
<polyline points="129.7,21.9 129.1,22.0 128.3,22.6 127.4,23.9 126.6,25.5 126.2,27.2 126.2,29.0 126.6,30.4 127.5,31.3" fill="none" stroke="#4a4a4a" stroke-width="2.12" stroke-linecap="round"/>
<polyline points="129.7,21.9 129.1,22.0 128.3,22.6 127.4,23.9 126.6,25.5 126.2,27.2 126.2,29.0 126.6,30.4 127.5,31.3" fill="none" stroke="#ffffff" stroke-width="1.32" stroke-linecap="round"/>
<polyline points="134.6,24.8 133.9,24.8 133.1,25.5 132.2,26.7 131.5,28.3 131.0,30.1 131.0,31.8 131.5,33.2 132.3,34.1" fill="none" stroke="#4a4a4a" stroke-width="2.12" stroke-linecap="round"/>
<polyline points="134.6,24.8 133.9,24.8 133.1,25.5 132.2,26.7 131.5,28.3 131.0,30.1 131.0,31.8 131.5,33.2 132.3,34.1" fill="none" stroke="#ffffff" stroke-width="1.32" stroke-linecap="round"/>
<polyline points="139.4,27.6 138.8,27.6 137.9,28.3 137.0,29.5 136.3,31.1 135.9,32.9 135.8,34.6 136.3,36.0 137.2,37.0" fill="none" stroke="#4a4a4a" stroke-width="2.12" stroke-linecap="round"/>
<polyline points="139.4,27.6 138.8,27.6 137.9,28.3 137.0,29.5 136.3,31.1 135.9,32.9 135.8,34.6 136.3,36.0 137.2,37.0" fill="none" stroke="#ffffff" stroke-width="1.32" stroke-linecap="round"/>
<polyline points="122.7,28.5 123.9,28.8 125.4,28.5 126.8,27.6 128.2,26.4 129.2,24.9 129.9,23.6 130.0,22.5 129.7,21.9" fill="none" stroke="#4a4a4a" stroke-width="3.00" stroke-linecap="round"/>
<polyline points="122.7,28.5 123.9,28.8 125.4,28.5 126.8,27.6 128.2,26.4 129.2,24.9 129.9,23.6 130.0,22.5 129.7,21.9" fill="none" stroke="#95d8ee" stroke-width="2.20" stroke-linecap="round"/>
<polyline points="127.5,31.3 128.7,31.6 130.2,31.3 131.7,30.5 133.0,29.2 134.1,27.8 134.7,26.4 134.9,25.4 134.6,24.8" fill="none" stroke="#4a4a4a" stroke-width="3.00" stroke-linecap="round"/>
<polyline points="127.5,31.3 128.7,31.6 130.2,31.3 131.7,30.5 133.0,29.2 134.1,27.8 134.7,26.4 134.9,25.4 134.6,24.8" fill="none" stroke="#95d8ee" stroke-width="2.20" stroke-linecap="round"/>
<polyline points="132.3,34.1 133.6,34.5 135.0,34.1 136.5,33.3 137.9,32.0 138.9,30.6 139.5,29.2 139.7,28.2 139.4,27.6" fill="none" stroke="#4a4a4a" stroke-width="3.00" stroke-linecap="round"/>
<polyline points="132.3,34.1 133.6,34.5 135.0,34.1 136.5,33.3 137.9,32.0 138.9,30.6 139.5,29.2 139.7,28.2 139.4,27.6" fill="none" stroke="#95d8ee" stroke-width="2.20" stroke-linecap="round"/>
<polyline points="63.7,15.5 62.7,15.8 61.8,16.9 60.9,18.8 60.4,21.1 60.3,23.5 60.8,25.7 61.8,27.3 63.2,28.1" fill="none" stroke="#2a2a2a" stroke-width="2.40" stroke-linecap="round"/>
<polyline points="63.7,15.5 62.7,15.8 61.8,16.9 60.9,18.8 60.4,21.1 60.3,23.5 60.8,25.7 61.8,27.3 63.2,28.1" fill="none" stroke="#95d8ee" stroke-width="1.60" stroke-linecap="round"/>
<polyline points="68.0,16.5 67.1,16.8 66.1,17.9 65.3,19.8 64.9,22.1 64.9,24.6 65.5,26.7 66.5,28.3 67.9,29.1" fill="none" stroke="#2a2a2a" stroke-width="2.40" stroke-linecap="round"/>
<polyline points="68.0,16.5 67.1,16.8 66.1,17.9 65.3,19.8 64.9,22.1 64.9,24.6 65.5,26.7 66.5,28.3 67.9,29.1" fill="none" stroke="#95d8ee" stroke-width="1.60" stroke-linecap="round"/>
<polyline points="72.4,17.3 71.5,17.6 70.6,18.8 69.8,20.7 69.5,23.0 69.5,25.5 70.2,27.6 71.2,29.2 72.6,29.9" fill="none" stroke="#2a2a2a" stroke-width="2.40" stroke-linecap="round"/>
<polyline points="72.4,17.3 71.5,17.6 70.6,18.8 69.8,20.7 69.5,23.0 69.5,25.5 70.2,27.6 71.2,29.2 72.6,29.9" fill="none" stroke="#95d8ee" stroke-width="1.60" stroke-linecap="round"/>
<polyline points="76.9,18.0 76.0,18.4 75.1,19.6 74.4,21.5 74.0,23.8 74.2,26.3 74.8,28.4 75.9,29.9 77.2,30.7" fill="none" stroke="#2a2a2a" stroke-width="2.40" stroke-linecap="round"/>
<polyline points="76.9,18.0 76.0,18.4 75.1,19.6 74.4,21.5 74.0,23.8 74.2,26.3 74.8,28.4 75.9,29.9 77.2,30.7" fill="none" stroke="#95d8ee" stroke-width="1.60" stroke-linecap="round"/>
<polyline points="81.5,18.8 80.6,19.1 79.6,20.3 78.9,22.2 78.6,24.6 78.7,27.0 79.4,29.2 80.4,30.7 81.8,31.4" fill="none" stroke="#2a2a2a" stroke-width="2.40" stroke-linecap="round"/>
<polyline points="81.5,18.8 80.6,19.1 79.6,20.3 78.9,22.2 78.6,24.6 78.7,27.0 79.4,29.2 80.4,30.7 81.8,31.4" fill="none" stroke="#eea2b5" stroke-width="1.60" stroke-linecap="round"/>
<polyline points="86.2,19.6 85.2,19.9 84.3,21.1 83.5,23.0 83.2,25.4 83.3,27.8 83.9,29.9 84.9,31.5 86.3,32.2" fill="none" stroke="#2a2a2a" stroke-width="2.40" stroke-linecap="round"/>
<polyline points="86.2,19.6 85.2,19.9 84.3,21.1 83.5,23.0 83.2,25.4 83.3,27.8 83.9,29.9 84.9,31.5 86.3,32.2" fill="none" stroke="#eea2b5" stroke-width="1.60" stroke-linecap="round"/>
<polyline points="90.6,20.3 89.7,20.7 88.8,21.9 88.1,23.8 87.8,26.2 87.9,28.6 88.6,30.7 89.7,32.3 91.3,32.9" fill="none" stroke="#2a2a2a" stroke-width="2.40" stroke-linecap="round"/>
<polyline points="90.6,20.3 89.7,20.7 88.8,21.9 88.1,23.8 87.8,26.2 87.9,28.6 88.6,30.7 89.7,32.3 91.3,32.9" fill="none" stroke="#ffffff" stroke-width="1.60" stroke-linecap="round"/>
<polyline points="94.7,20.8 93.9,21.2 93.1,22.5 92.6,24.4 92.4,26.8 92.7,29.2 93.5,31.3 94.9,32.7 96.7,33.2" fill="none" stroke="#2a2a2a" stroke-width="2.40" stroke-linecap="round"/>
<polyline points="94.7,20.8 93.9,21.2 93.1,22.5 92.6,24.4 92.4,26.8 92.7,29.2 93.5,31.3 94.9,32.7 96.7,33.2" fill="none" stroke="#ffffff" stroke-width="1.60" stroke-linecap="round"/>
<polyline points="98.4,20.8 97.7,21.3 97.2,22.6 96.9,24.7 97.0,27.0 97.6,29.4 98.8,31.3 100.5,32.5 102.3,32.7" fill="none" stroke="#2a2a2a" stroke-width="2.40" stroke-linecap="round"/>
<polyline points="98.4,20.8 97.7,21.3 97.2,22.6 96.9,24.7 97.0,27.0 97.6,29.4 98.8,31.3 100.5,32.5 102.3,32.7" fill="none" stroke="#ffffff" stroke-width="1.60" stroke-linecap="round"/>
<polyline points="101.9,20.1 101.4,20.8 101.1,22.2 101.1,24.2 101.6,26.6 102.6,28.8 104.1,30.5 106.0,31.4 107.8,31.3" fill="none" stroke="#2a2a2a" stroke-width="2.40" stroke-linecap="round"/>
<polyline points="101.9,20.1 101.4,20.8 101.1,22.2 101.1,24.2 101.6,26.6 102.6,28.8 104.1,30.5 106.0,31.4 107.8,31.3" fill="none" stroke="#ffffff" stroke-width="1.60" stroke-linecap="round"/>
<polyline points="105.2,19.0 104.8,19.7 104.8,21.1 105.2,23.1 106.1,25.3 107.5,27.3 109.3,28.8 111.3,29.3 113.1,28.8" fill="none" stroke="#2a2a2a" stroke-width="2.40" stroke-linecap="round"/>
<polyline points="105.2,19.0 104.8,19.7 104.8,21.1 105.2,23.1 106.1,25.3 107.5,27.3 109.3,28.8 111.3,29.3 113.1,28.8" fill="none" stroke="#ffffff" stroke-width="1.60" stroke-linecap="round"/>
<polyline points="108.3,17.1 108.0,17.9 108.2,19.4 109.0,21.3 110.2,23.3 112.0,25.0 113.9,26.1 115.9,26.4 117.5,25.7" fill="none" stroke="#2a2a2a" stroke-width="2.40" stroke-linecap="round"/>
<polyline points="108.3,17.1 108.0,17.9 108.2,19.4 109.0,21.3 110.2,23.3 112.0,25.0 113.9,26.1 115.9,26.4 117.5,25.7" fill="none" stroke="#eea2b5" stroke-width="1.60" stroke-linecap="round"/>
<polyline points="111.6,14.6 111.2,15.5 111.6,17.0 112.5,18.8 114.0,20.6 115.9,22.1 118.0,23.1 119.9,23.2 121.4,22.6" fill="none" stroke="#2a2a2a" stroke-width="2.40" stroke-linecap="round"/>
<polyline points="111.6,14.6 111.2,15.5 111.6,17.0 112.5,18.8 114.0,20.6 115.9,22.1 118.0,23.1 119.9,23.2 121.4,22.6" fill="none" stroke="#eea2b5" stroke-width="1.60" stroke-linecap="round"/>
<polyline points="115.0,11.7 114.6,12.6 115.0,14.1 116.0,15.9 117.6,17.6 119.6,19.1 121.6,20.0 123.4,20.1 124.8,19.6" fill="none" stroke="#2a2a2a" stroke-width="2.40" stroke-linecap="round"/>
<polyline points="115.0,11.7 114.6,12.6 115.0,14.1 116.0,15.9 117.6,17.6 119.6,19.1 121.6,20.0 123.4,20.1 124.8,19.6" fill="none" stroke="#95d8ee" stroke-width="1.60" stroke-linecap="round"/>
<polyline points="118.8,8.5 118.3,9.5 118.6,11.0 119.6,12.8 121.1,14.6 123.0,16.1 125.0,17.1 126.7,17.4 128.1,17.1" fill="none" stroke="#2a2a2a" stroke-width="2.40" stroke-linecap="round"/>
<polyline points="118.8,8.5 118.3,9.5 118.6,11.0 119.6,12.8 121.1,14.6 123.0,16.1 125.0,17.1 126.7,17.4 128.1,17.1" fill="none" stroke="#95d8ee" stroke-width="1.60" stroke-linecap="round"/>
<polyline points="58.5,27.0 60.1,26.9 61.7,25.9 63.1,24.2 64.1,22.0 64.7,19.7 64.8,17.6 64.4,16.2 63.7,15.5" fill="none" stroke="#2a2a2a" stroke-width="2.80" stroke-linecap="round"/>
<polyline points="58.5,27.0 60.1,26.9 61.7,25.9 63.1,24.2 64.1,22.0 64.7,19.7 64.8,17.6 64.4,16.2 63.7,15.5" fill="none" stroke="#95d8ee" stroke-width="2.00" stroke-linecap="round"/>
<polyline points="63.2,28.1 64.8,28.0 66.4,26.9 67.7,25.1 68.7,22.9 69.2,20.6 69.2,18.5 68.8,17.1 68.0,16.5" fill="none" stroke="#2a2a2a" stroke-width="2.80" stroke-linecap="round"/>
<polyline points="63.2,28.1 64.8,28.0 66.4,26.9 67.7,25.1 68.7,22.9 69.2,20.6 69.2,18.5 68.8,17.1 68.0,16.5" fill="none" stroke="#95d8ee" stroke-width="2.00" stroke-linecap="round"/>
<polyline points="67.9,29.1 69.5,28.9 71.1,27.8 72.4,26.0 73.3,23.7 73.7,21.4 73.7,19.3 73.2,17.9 72.4,17.3" fill="none" stroke="#2a2a2a" stroke-width="2.80" stroke-linecap="round"/>
<polyline points="67.9,29.1 69.5,28.9 71.1,27.8 72.4,26.0 73.3,23.7 73.7,21.4 73.7,19.3 73.2,17.9 72.4,17.3" fill="none" stroke="#95d8ee" stroke-width="2.00" stroke-linecap="round"/>
<polyline points="72.6,29.9 74.2,29.7 75.7,28.6 77.0,26.7 77.9,24.5 78.3,22.1 78.2,20.1 77.7,18.7 76.9,18.0" fill="none" stroke="#2a2a2a" stroke-width="2.80" stroke-linecap="round"/>
<polyline points="72.6,29.9 74.2,29.7 75.7,28.6 77.0,26.7 77.9,24.5 78.3,22.1 78.2,20.1 77.7,18.7 76.9,18.0" fill="none" stroke="#95d8ee" stroke-width="2.00" stroke-linecap="round"/>
<polyline points="77.2,30.7 78.8,30.4 80.2,29.3 81.5,27.5 82.4,25.2 82.9,22.9 82.8,20.9 82.4,19.4 81.5,18.8" fill="none" stroke="#2a2a2a" stroke-width="2.80" stroke-linecap="round"/>
<polyline points="77.2,30.7 78.8,30.4 80.2,29.3 81.5,27.5 82.4,25.2 82.9,22.9 82.8,20.9 82.4,19.4 81.5,18.8" fill="none" stroke="#eea2b5" stroke-width="2.00" stroke-linecap="round"/>
<polyline points="81.8,31.4 83.3,31.2 84.8,30.1 86.1,28.3 87.0,26.0 87.5,23.7 87.4,21.7 87.0,20.2 86.2,19.6" fill="none" stroke="#2a2a2a" stroke-width="2.80" stroke-linecap="round"/>
<polyline points="81.8,31.4 83.3,31.2 84.8,30.1 86.1,28.3 87.0,26.0 87.5,23.7 87.4,21.7 87.0,20.2 86.2,19.6" fill="none" stroke="#eea2b5" stroke-width="2.00" stroke-linecap="round"/>
<polyline points="86.3,32.2 87.9,32.0 89.5,30.9 90.8,29.0 91.6,26.7 91.9,24.4 91.8,22.3 91.3,20.9 90.6,20.3" fill="none" stroke="#2a2a2a" stroke-width="2.80" stroke-linecap="round"/>
<polyline points="86.3,32.2 87.9,32.0 89.5,30.9 90.8,29.0 91.6,26.7 91.9,24.4 91.8,22.3 91.3,20.9 90.6,20.3" fill="none" stroke="#ffffff" stroke-width="2.00" stroke-linecap="round"/>
<polyline points="91.3,32.9 93.0,32.6 94.5,31.4 95.7,29.4 96.2,27.0 96.3,24.7 96.0,22.7 95.4,21.3 94.7,20.8" fill="none" stroke="#2a2a2a" stroke-width="2.80" stroke-linecap="round"/>
<polyline points="91.3,32.9 93.0,32.6 94.5,31.4 95.7,29.4 96.2,27.0 96.3,24.7 96.0,22.7 95.4,21.3 94.7,20.8" fill="none" stroke="#ffffff" stroke-width="2.00" stroke-linecap="round"/>
<polyline points="96.7,33.2 98.4,32.7 99.8,31.3 100.7,29.1 100.9,26.7 100.5,24.3 99.9,22.4 99.1,21.2 98.4,20.8" fill="none" stroke="#2a2a2a" stroke-width="2.80" stroke-linecap="round"/>
<polyline points="96.7,33.2 98.4,32.7 99.8,31.3 100.7,29.1 100.9,26.7 100.5,24.3 99.9,22.4 99.1,21.2 98.4,20.8" fill="none" stroke="#ffffff" stroke-width="2.00" stroke-linecap="round"/>
<polyline points="102.3,32.7 104.0,31.9 105.1,30.2 105.6,28.0 105.4,25.6 104.6,23.3 103.7,21.5 102.7,20.4 101.9,20.1" fill="none" stroke="#2a2a2a" stroke-width="2.80" stroke-linecap="round"/>
<polyline points="102.3,32.7 104.0,31.9 105.1,30.2 105.6,28.0 105.4,25.6 104.6,23.3 103.7,21.5 102.7,20.4 101.9,20.1" fill="none" stroke="#ffffff" stroke-width="2.00" stroke-linecap="round"/>
<polyline points="107.8,31.3 109.4,30.2 110.2,28.3 110.3,26.0 109.6,23.7 108.5,21.6 107.2,20.0 106.0,19.1 105.2,19.0" fill="none" stroke="#2a2a2a" stroke-width="2.80" stroke-linecap="round"/>
<polyline points="107.8,31.3 109.4,30.2 110.2,28.3 110.3,26.0 109.6,23.7 108.5,21.6 107.2,20.0 106.0,19.1 105.2,19.0" fill="none" stroke="#ffffff" stroke-width="2.00" stroke-linecap="round"/>
<polyline points="113.1,28.8 114.3,27.5 114.8,25.5 114.4,23.3 113.4,21.1 112.0,19.2 110.5,17.8 109.2,17.1 108.3,17.1" fill="none" stroke="#2a2a2a" stroke-width="2.80" stroke-linecap="round"/>
<polyline points="113.1,28.8 114.3,27.5 114.8,25.5 114.4,23.3 113.4,21.1 112.0,19.2 110.5,17.8 109.2,17.1 108.3,17.1" fill="none" stroke="#eea2b5" stroke-width="2.00" stroke-linecap="round"/>
<polyline points="117.5,25.7 118.5,24.4 118.7,22.4 118.2,20.3 117.0,18.1 115.5,16.3 113.9,15.0 112.5,14.4 111.6,14.6" fill="none" stroke="#2a2a2a" stroke-width="2.80" stroke-linecap="round"/>
<polyline points="117.5,25.7 118.5,24.4 118.7,22.4 118.2,20.3 117.0,18.1 115.5,16.3 113.9,15.0 112.5,14.4 111.6,14.6" fill="none" stroke="#eea2b5" stroke-width="2.00" stroke-linecap="round"/>
<polyline points="121.4,22.6 122.2,21.2 122.3,19.4 121.7,17.2 120.5,15.1 119.0,13.2 117.4,12.0 116.0,11.4 115.0,11.7" fill="none" stroke="#2a2a2a" stroke-width="2.80" stroke-linecap="round"/>
<polyline points="121.4,22.6 122.2,21.2 122.3,19.4 121.7,17.2 120.5,15.1 119.0,13.2 117.4,12.0 116.0,11.4 115.0,11.7" fill="none" stroke="#95d8ee" stroke-width="2.00" stroke-linecap="round"/>
<polyline points="124.8,19.6 125.6,18.4 125.7,16.6 125.2,14.4 124.2,12.2 122.9,10.3 121.4,8.9 119.9,8.3 118.8,8.5" fill="none" stroke="#2a2a2a" stroke-width="2.80" stroke-linecap="round"/>
<polyline points="124.8,19.6 125.6,18.4 125.7,16.6 125.2,14.4 124.2,12.2 122.9,10.3 121.4,8.9 119.9,8.3 118.8,8.5" fill="none" stroke="#95d8ee" stroke-width="2.00" stroke-linecap="round"/>
<polyline points="67.6,31.0 66.7,31.5 66.2,33.0 66.1,35.1 66.4,37.4 67.2,39.8 68.5,41.7 70.0,42.9 71.6,43.1" fill="none" stroke="#2a2a2a" stroke-width="2.40" stroke-linecap="round"/>
<polyline points="67.6,31.0 66.7,31.5 66.2,33.0 66.1,35.1 66.4,37.4 67.2,39.8 68.5,41.7 70.0,42.9 71.6,43.1" fill="none" stroke="#ffffff" stroke-width="1.60" stroke-linecap="round"/>
<polyline points="72.2,30.3 71.4,30.9 70.9,32.4 70.8,34.5 71.1,36.8 72.0,39.2 73.3,41.0 74.8,42.2 76.4,42.5" fill="none" stroke="#2a2a2a" stroke-width="2.40" stroke-linecap="round"/>
<polyline points="72.2,30.3 71.4,30.9 70.9,32.4 70.8,34.5 71.1,36.8 72.0,39.2 73.3,41.0 74.8,42.2 76.4,42.5" fill="none" stroke="#ffffff" stroke-width="1.60" stroke-linecap="round"/>
<polyline points="76.8,29.6 76.0,30.3 75.5,31.7 75.4,33.8 75.9,36.2 76.8,38.5 78.1,40.3 79.6,41.5 81.2,41.7" fill="none" stroke="#2a2a2a" stroke-width="2.40" stroke-linecap="round"/>
<polyline points="76.8,29.6 76.0,30.3 75.5,31.7 75.4,33.8 75.9,36.2 76.8,38.5 78.1,40.3 79.6,41.5 81.2,41.7" fill="none" stroke="#ffffff" stroke-width="1.60" stroke-linecap="round"/>
<polyline points="81.4,28.9 80.6,29.5 80.1,31.0 80.1,33.0 80.6,35.4 81.5,37.7 82.8,39.5 84.4,40.6 86.0,40.8" fill="none" stroke="#2a2a2a" stroke-width="2.40" stroke-linecap="round"/>
<polyline points="81.4,28.9 80.6,29.5 80.1,31.0 80.1,33.0 80.6,35.4 81.5,37.7 82.8,39.5 84.4,40.6 86.0,40.8" fill="none" stroke="#ffffff" stroke-width="1.60" stroke-linecap="round"/>
<polyline points="85.9,28.0 85.2,28.7 84.7,30.1 84.7,32.2 85.2,34.6 86.2,36.8 87.6,38.6 89.2,39.7 90.8,39.9" fill="none" stroke="#2a2a2a" stroke-width="2.40" stroke-linecap="round"/>
<polyline points="85.9,28.0 85.2,28.7 84.7,30.1 84.7,32.2 85.2,34.6 86.2,36.8 87.6,38.6 89.2,39.7 90.8,39.9" fill="none" stroke="#ffffff" stroke-width="1.60" stroke-linecap="round"/>
<polyline points="90.5,27.1 89.7,27.7 89.3,29.2 89.4,31.3 89.9,33.6 90.9,35.9 92.4,37.7 94.0,38.7 95.6,38.8" fill="none" stroke="#2a2a2a" stroke-width="2.40" stroke-linecap="round"/>
<polyline points="90.5,27.1 89.7,27.7 89.3,29.2 89.4,31.3 89.9,33.6 90.9,35.9 92.4,37.7 94.0,38.7 95.6,38.8" fill="none" stroke="#ffffff" stroke-width="1.60" stroke-linecap="round"/>
<polyline points="95.0,26.0 94.2,26.7 93.9,28.2 94.0,30.3 94.6,32.6 95.6,34.8 97.1,36.6 98.7,37.6 100.3,37.7" fill="none" stroke="#2a2a2a" stroke-width="2.40" stroke-linecap="round"/>
<polyline points="95.0,26.0 94.2,26.7 93.9,28.2 94.0,30.3 94.6,32.6 95.6,34.8 97.1,36.6 98.7,37.6 100.3,37.7" fill="none" stroke="#ffffff" stroke-width="1.60" stroke-linecap="round"/>
<polyline points="99.5,24.9 98.7,25.6 98.4,27.1 98.5,29.1 99.2,31.5 100.3,33.7 101.8,35.4 103.5,36.4 105.1,36.4" fill="none" stroke="#2a2a2a" stroke-width="2.40" stroke-linecap="round"/>
<polyline points="99.5,24.9 98.7,25.6 98.4,27.1 98.5,29.1 99.2,31.5 100.3,33.7 101.8,35.4 103.5,36.4 105.1,36.4" fill="none" stroke="#ffffff" stroke-width="1.60" stroke-linecap="round"/>
<polyline points="103.9,23.6 103.2,24.4 102.9,25.9 103.1,27.9 103.8,30.2 105.0,32.4 106.5,34.1 108.2,35.0 109.8,35.0" fill="none" stroke="#2a2a2a" stroke-width="2.40" stroke-linecap="round"/>
<polyline points="103.9,23.6 103.2,24.4 102.9,25.9 103.1,27.9 103.8,30.2 105.0,32.4 106.5,34.1 108.2,35.0 109.8,35.0" fill="none" stroke="#ffffff" stroke-width="1.60" stroke-linecap="round"/>
<polyline points="108.3,22.3 107.6,23.0 107.4,24.5 107.6,26.6 108.4,28.9 109.6,31.0 111.2,32.7 112.9,33.6 114.5,33.5" fill="none" stroke="#2a2a2a" stroke-width="2.40" stroke-linecap="round"/>
<polyline points="108.3,22.3 107.6,23.0 107.4,24.5 107.6,26.6 108.4,28.9 109.6,31.0 111.2,32.7 112.9,33.6 114.5,33.5" fill="none" stroke="#ffffff" stroke-width="1.60" stroke-linecap="round"/>
<polyline points="112.7,20.8 112.0,21.6 111.8,23.1 112.1,25.2 112.9,27.4 114.2,29.5 115.8,31.2 117.5,32.0 119.1,31.9" fill="none" stroke="#2a2a2a" stroke-width="2.40" stroke-linecap="round"/>
<polyline points="112.7,20.8 112.0,21.6 111.8,23.1 112.1,25.2 112.9,27.4 114.2,29.5 115.8,31.2 117.5,32.0 119.1,31.9" fill="none" stroke="#ffffff" stroke-width="1.60" stroke-linecap="round"/>
<polyline points="66.8,43.8 68.2,43.1 69.4,41.6 70.1,39.4 70.3,37.0 70.0,34.6 69.4,32.6 68.5,31.3 67.6,31.0" fill="none" stroke="#2a2a2a" stroke-width="2.80" stroke-linecap="round"/>
<polyline points="66.8,43.8 68.2,43.1 69.4,41.6 70.1,39.4 70.3,37.0 70.0,34.6 69.4,32.6 68.5,31.3 67.6,31.0" fill="none" stroke="#ffffff" stroke-width="2.00" stroke-linecap="round"/>
<polyline points="71.6,43.1 73.0,42.5 74.2,40.9 74.8,38.8 75.0,36.3 74.7,33.9 74.0,31.9 73.1,30.7 72.2,30.3" fill="none" stroke="#2a2a2a" stroke-width="2.80" stroke-linecap="round"/>
<polyline points="71.6,43.1 73.0,42.5 74.2,40.9 74.8,38.8 75.0,36.3 74.7,33.9 74.0,31.9 73.1,30.7 72.2,30.3" fill="none" stroke="#ffffff" stroke-width="2.00" stroke-linecap="round"/>
<polyline points="76.4,42.5 77.8,41.7 78.9,40.2 79.6,38.0 79.7,35.5 79.4,33.2 78.7,31.2 77.8,30.0 76.8,29.6" fill="none" stroke="#2a2a2a" stroke-width="2.80" stroke-linecap="round"/>
<polyline points="76.4,42.5 77.8,41.7 78.9,40.2 79.6,38.0 79.7,35.5 79.4,33.2 78.7,31.2 77.8,30.0 76.8,29.6" fill="none" stroke="#ffffff" stroke-width="2.00" stroke-linecap="round"/>
<polyline points="81.2,41.7 82.6,41.0 83.7,39.4 84.3,37.2 84.4,34.7 84.0,32.3 83.3,30.4 82.3,29.2 81.4,28.9" fill="none" stroke="#2a2a2a" stroke-width="2.80" stroke-linecap="round"/>
<polyline points="81.2,41.7 82.6,41.0 83.7,39.4 84.3,37.2 84.4,34.7 84.0,32.3 83.3,30.4 82.3,29.2 81.4,28.9" fill="none" stroke="#ffffff" stroke-width="2.00" stroke-linecap="round"/>
<polyline points="86.0,40.8 87.4,40.1 88.5,38.5 89.0,36.3 89.1,33.8 88.7,31.4 87.9,29.5 86.9,28.3 85.9,28.0" fill="none" stroke="#2a2a2a" stroke-width="2.80" stroke-linecap="round"/>
<polyline points="86.0,40.8 87.4,40.1 88.5,38.5 89.0,36.3 89.1,33.8 88.7,31.4 87.9,29.5 86.9,28.3 85.9,28.0" fill="none" stroke="#ffffff" stroke-width="2.00" stroke-linecap="round"/>
<polyline points="90.8,39.9 92.2,39.1 93.2,37.5 93.8,35.3 93.7,32.8 93.3,30.4 92.4,28.5 91.5,27.3 90.5,27.1" fill="none" stroke="#2a2a2a" stroke-width="2.80" stroke-linecap="round"/>
<polyline points="90.8,39.9 92.2,39.1 93.2,37.5 93.8,35.3 93.7,32.8 93.3,30.4 92.4,28.5 91.5,27.3 90.5,27.1" fill="none" stroke="#ffffff" stroke-width="2.00" stroke-linecap="round"/>
<polyline points="95.6,38.8 97.0,38.0 98.0,36.4 98.4,34.1 98.4,31.7 97.8,29.3 97.0,27.4 96.0,26.3 95.0,26.0" fill="none" stroke="#2a2a2a" stroke-width="2.80" stroke-linecap="round"/>
<polyline points="95.6,38.8 97.0,38.0 98.0,36.4 98.4,34.1 98.4,31.7 97.8,29.3 97.0,27.4 96.0,26.3 95.0,26.0" fill="none" stroke="#ffffff" stroke-width="2.00" stroke-linecap="round"/>
<polyline points="100.3,37.7 101.7,36.8 102.7,35.2 103.1,32.9 103.0,30.5 102.4,28.1 101.5,26.3 100.4,25.1 99.5,24.9" fill="none" stroke="#2a2a2a" stroke-width="2.80" stroke-linecap="round"/>
<polyline points="100.3,37.7 101.7,36.8 102.7,35.2 103.1,32.9 103.0,30.5 102.4,28.1 101.5,26.3 100.4,25.1 99.5,24.9" fill="none" stroke="#ffffff" stroke-width="2.00" stroke-linecap="round"/>
<polyline points="105.1,36.4 106.4,35.5 107.4,33.8 107.7,31.6 107.6,29.1 106.9,26.8 106.0,25.0 104.9,23.9 103.9,23.6" fill="none" stroke="#2a2a2a" stroke-width="2.80" stroke-linecap="round"/>
<polyline points="105.1,36.4 106.4,35.5 107.4,33.8 107.7,31.6 107.6,29.1 106.9,26.8 106.0,25.0 104.9,23.9 103.9,23.6" fill="none" stroke="#ffffff" stroke-width="2.00" stroke-linecap="round"/>
<polyline points="109.8,35.0 111.1,34.1 112.0,32.4 112.3,30.2 112.1,27.7 111.4,25.4 110.4,23.6 109.3,22.5 108.3,22.3" fill="none" stroke="#2a2a2a" stroke-width="2.80" stroke-linecap="round"/>
<polyline points="109.8,35.0 111.1,34.1 112.0,32.4 112.3,30.2 112.1,27.7 111.4,25.4 110.4,23.6 109.3,22.5 108.3,22.3" fill="none" stroke="#ffffff" stroke-width="2.00" stroke-linecap="round"/>
<polyline points="114.5,33.5 115.8,32.6 116.6,30.9 116.9,28.6 116.6,26.1 115.8,23.9 114.8,22.1 113.7,21.0 112.7,20.8" fill="none" stroke="#2a2a2a" stroke-width="2.80" stroke-linecap="round"/>
<polyline points="114.5,33.5 115.8,32.6 116.6,30.9 116.9,28.6 116.6,26.1 115.8,23.9 114.8,22.1 113.7,21.0 112.7,20.8" fill="none" stroke="#ffffff" stroke-width="2.00" stroke-linecap="round"/>
<circle cx="65.8" cy="34.8" r="3.1" fill="#e9a11b"/>
<circle cx="121.6" cy="25.9" r="3.1" fill="#e9a11b"/>
<path d="M85.1 11.1 L82.1 19.5 M108.8 11.1 L112.5 16.5" stroke="#e47d98" stroke-width="0.8" stroke-dasharray="1 1" fill="none"/>
<text x="96.40" y="8.00" font-size="9.40" font-weight="bold" fill="#111" text-anchor="middle">M101C</text>
<text x="1.60" y="14.90" font-size="15.50" font-weight="bold" fill="#000" text-anchor="start">A</text>
<line x1="87.5" y1="130.2" x2="87.5" y2="404" stroke="#3d70b8" stroke-width="1.25" stroke-dasharray="5.1 3.3"/>
<path d="M50.0 143.5L50.5 143.5 51.0 143.5 51.5 143.5 52.0 143.6 52.5 143.5 53.0 143.4 53.5 143.3 54.0 143.3 54.5 143.4 55.0 143.4 55.5 143.4 56.0 143.4 56.5 143.4 57.0 143.4 57.5 143.4 58.0 143.4 58.5 143.5 59.0 143.6 59.5 143.6 60.0 143.6 60.5 143.5 61.0 143.4 61.5 143.4 62.0 143.5 62.5 143.6 63.0 143.7 63.5 143.7 64.0 143.7 64.5 143.6 65.0 143.6 65.5 143.5 66.0 143.3 66.5 143.2 67.0 143.2 67.5 143.3 68.0 143.4 68.5 143.3 69.0 143.3 69.5 143.2 70.0 143.3 70.5 143.3 71.0 143.5 71.5 143.6 72.0 143.6 72.5 143.6 73.0 143.6 73.5 143.5 74.0 143.4 74.5 143.4 75.0 143.4 75.5 143.4 76.0 143.4 76.5 143.3 77.0 143.2 77.5 143.1 78.0 143.1 78.5 143.1 79.0 143.0 79.5 143.1 80.0 143.1 80.5 143.0 81.0 142.9 81.5 142.8 82.0 142.8 82.5 142.8 83.0 142.7 83.5 142.5 84.0 142.4 84.5 142.3 85.0 142.3 85.5 142.4 86.0 142.3 86.5 142.2 87.0 142.1 87.4 142.0 87.5 142.0 88.0 141.8 88.5 141.7 89.0 141.6 89.5 141.7 90.0 141.7 90.5 141.7 91.0 141.7 91.5 141.5 92.0 141.4 92.5 141.2 93.0 141.2 93.5 141.1 94.0 141.1 94.5 141.0 95.0 141.0 95.5 140.9 96.0 140.9 96.5 140.9 97.0 140.8 97.5 140.7 98.0 140.5 98.2 140.4 98.5 140.2 99.0 140.0 99.5 139.7 100.0 139.3 100.5 138.8 101.0 138.2 101.5 137.5 101.8 136.9 102.0 136.4 102.5 134.5 102.8 133.0 103.0 131.3 103.5 127.1 104.0 132.6 104.4 139.4 104.5 140.7 105.0 147.4 105.3 151.4 105.5 154.4 106.0 161.7 106.2 162.7 106.5 160.3 107.0 153.5 107.5 150.2 107.8 149.1 108.0 148.8 108.5 148.3 109.0 147.9 109.5 147.6 110.0 147.4 110.5 147.1 111.0 146.9 111.5 146.6 112.0 146.4 112.5 146.2 113.0 146.0 113.5 145.7 114.0 145.4 114.5 145.0 115.0 144.6 115.5 144.2 116.0 143.6 116.5 143.0 117.0 142.4 117.5 141.7 118.0 141.0 118.5 140.2 119.0 139.4 119.5 138.6 120.0 137.8 120.5 136.9 121.0 135.9 121.5 134.8 122.0 133.7 122.5 132.5 123.0 130.7 123.5 126.3 124.0 121.7 124.2 121.1 124.5 124.1 125.0 136.5 125.2 141.5 125.5 149.7 126.0 164.0 126.3 167.3 126.5 166.4 127.0 159.6 127.4 155.1 127.5 154.5 128.0 152.4 128.5 150.9 129.0 149.8 129.2 149.5 129.5 149.0 130.0 148.3 130.5 147.7 131.0 147.3 131.5 146.9 132.0 146.5 132.5 146.1 133.0 145.8 133.5 145.5 134.0 145.3 134.5 145.1 135.0 144.9 135.5 144.8 136.0 144.6 136.5 144.4 137.0 144.3 137.5 144.2 138.0 144.1 138.5 143.9 138.9 143.8 139.0 143.8 139.5 143.6 140.0 143.4 140.5 143.2 141.0 142.9 141.5 142.6 142.0 142.3 142.1 142.2 142.5 141.8 143.0 141.2 143.5 140.3 143.7 139.8 144.0 138.6 144.5 136.0 144.7 135.7 145.0 137.3 145.5 143.0 145.6 144.0 146.0 148.2 146.5 151.5 147.0 150.2 147.5 148.5 148.0 147.7 148.5 147.2 148.6 147.1 149.0 146.8 149.5 146.5 150.0 146.2 150.5 146.0 151.0 145.8 151.5 145.6 151.9 145.5 152.0 145.4 152.5 145.3 153.0 145.2 153.5 145.1 154.0 145.0 154.5 145.0 155.0 145.0 155.5 144.9 156.0 144.8 156.5 144.7 157.0 144.5 157.5 144.4 158.0 144.4 158.5 144.4 159.0 144.4 159.5 144.4 160.0 144.4 160.5 144.3 161.0 144.3 161.5 144.3 162.0 144.3 162.5 144.3 163.0 144.4 163.5 144.5 164.0 144.5 164.5 144.4 165.0 144.3 165.5 144.3 166.0 144.3 166.5 144.3 167.0 144.3 167.5 144.3 168.0 144.2 168.5 144.2 169.0 144.1 169.5 144.1 170.0 144.2 170.5 144.3 171.0 144.3 171.5 144.3 172.0 144.3 172.5 144.2 173.0 144.1 173.5 144.0 174.0 144.0 174.5 144.0 175.0 144.1 175.5 144.1 176.0 144.1 176.5 144.1 177.0 144.0 177.5 143.9 178.0 143.9 178.5 144.0 179.0 144.2 179.5 144.3 180.0 144.3 180.5 144.2 181.0 144.2 181.5 144.1 182.0 144.2 182.5 144.3 183.0 144.4 183.5 144.3 184.0 144.3 184.5 144.2 185.0 144.1 185.5 144.0 186.0 143.9 186.5 143.9 187.0 144.0 187.5 144.1 188.0 144.1 188.5 144.1 189.0 144.1 189.5 144.1 190.0 144.2 190.5 144.3 191.0 144.2 191.5 144.1 192.0 144.0 192.5 144.0 193.0 144.1 193.5 144.1 194.0 144.1 194.5 144.1 195.0 144.1 195.5 144.1 196.0 144.1 196.5 144.1 197.0 144.0 197.5 144.1 198.0 144.2 198.5 144.2 199.0 144.2 199.5 144.1 200.0 144.1 200.5 144.2 200.8 144.2" fill="none" stroke="#a5a5a5" stroke-width="1.0" stroke-linejoin="round"/>
<path d="M50.0 143.5L50.5 143.5 51.0 143.5 51.5 143.6 52.0 143.5 52.5 143.6 53.0 143.6 53.5 143.7 54.0 143.7 54.5 143.7 55.0 143.7 55.5 143.6 56.0 143.6 56.5 143.6 57.0 143.5 57.5 143.5 58.0 143.5 58.5 143.5 59.0 143.4 59.5 143.3 60.0 143.3 60.5 143.3 61.0 143.4 61.5 143.5 62.0 143.6 62.5 143.6 63.0 143.6 63.5 143.5 64.0 143.5 64.5 143.5 65.0 143.4 65.5 143.4 66.0 143.5 66.5 143.5 67.0 143.5 67.5 143.5 68.0 143.4 68.5 143.3 69.0 143.3 69.5 143.3 70.0 143.3 70.5 143.4 71.0 143.5 71.5 143.5 72.0 143.5 72.5 143.5 73.0 143.5 73.5 143.5 74.0 143.5 74.5 143.5 75.0 143.4 75.5 143.3 76.0 143.2 76.5 143.2 77.0 143.3 77.5 143.3 78.0 143.3 78.5 143.1 79.0 143.0 79.5 142.9 80.0 142.9 80.5 143.0 81.0 143.0 81.5 143.0 82.0 142.9 82.5 142.8 83.0 142.7 83.5 142.7 84.0 142.6 84.5 142.5 85.0 142.4 85.5 142.3 86.0 142.2 86.5 142.1 87.0 142.1 87.4 142.0 87.5 142.0 88.0 141.9 88.5 141.8 89.0 141.7 89.5 141.6 90.0 141.6 90.5 141.6 91.0 141.5 91.5 141.5 92.0 141.3 92.5 141.3 93.0 141.2 93.5 141.2 94.0 141.1 94.5 141.1 95.0 141.0 95.5 140.9 96.0 140.8 96.5 140.7 97.0 140.7 97.5 140.6 98.0 140.5 98.2 140.4 98.5 140.3 99.0 140.1 99.5 139.8 100.0 139.4 100.5 138.9 101.0 138.4 101.5 137.6 101.8 136.9 102.0 136.4 102.5 134.5 102.8 133.0 103.0 131.3 103.5 127.1 104.0 132.7 104.4 139.5 104.5 140.9 105.0 147.6 105.3 151.6 105.5 154.5 106.0 161.9 106.2 162.9 106.5 160.4 107.0 153.5 107.5 150.1 107.8 149.1 108.0 148.8 108.5 148.2 109.0 147.9 109.5 147.7 110.0 147.4 110.5 147.1 111.0 146.9 111.5 146.7 112.0 146.5 112.5 146.3 113.0 146.0 113.5 145.8 114.0 145.5 114.5 145.1 115.0 144.7 115.5 144.2 116.0 143.7 116.5 143.1 117.0 142.5 117.5 141.8 118.0 141.1 118.5 140.4 119.0 139.6 119.5 138.8 120.0 137.9 120.5 137.0 121.0 136.0 121.5 134.9 122.0 133.8 122.5 132.5 123.0 130.7 123.5 126.3 124.0 121.6 124.2 121.1 124.5 124.2 125.0 136.6 125.2 141.5 125.5 149.7 126.0 163.9 126.3 167.3 126.5 166.4 127.0 159.5 127.4 155.0 127.5 154.5 128.0 152.5 128.5 151.0 129.0 149.9 129.2 149.5 129.5 149.0 130.0 148.3 130.5 147.7 131.0 147.3 131.5 146.8 132.0 146.5 132.5 146.1 133.0 145.8 133.5 145.6 134.0 145.3 134.5 145.1 135.0 144.9 135.5 144.8 136.0 144.7 136.5 144.6 137.0 144.5 137.5 144.4 138.0 144.2 138.5 144.0 138.9 143.8 139.0 143.8 139.5 143.6 140.0 143.4 140.5 143.1 141.0 142.9 141.5 142.6 142.0 142.3 142.1 142.1 142.5 141.8 143.0 141.2 143.5 140.3 143.7 139.9 144.0 138.7 144.5 136.1 144.7 135.7 145.0 137.3 145.5 143.0 145.6 144.0 146.0 148.2 146.5 151.5 147.0 150.2 147.5 148.5 148.0 147.7 148.5 147.2 148.6 147.1 149.0 146.9 149.5 146.6 150.0 146.3 150.5 146.0 151.0 145.8 151.5 145.6 151.9 145.5 152.0 145.5 152.5 145.3 153.0 145.2 153.5 145.1 154.0 145.0 154.5 144.9 155.0 144.8 155.5 144.7 156.0 144.7 156.5 144.7 157.0 144.6 157.5 144.5 158.0 144.4 158.5 144.3 159.0 144.3 159.5 144.4 160.0 144.3 160.5 144.3 161.0 144.3 161.5 144.4 162.0 144.4 162.5 144.3 163.0 144.3 163.5 144.3 164.0 144.3 164.5 144.4 165.0 144.4 165.5 144.3 166.0 144.2 166.5 144.2 167.0 144.2 167.5 144.2 168.0 144.1 168.5 144.1 169.0 144.1 169.5 144.2 170.0 144.3 170.5 144.3 171.0 144.3 171.5 144.3 172.0 144.3 172.5 144.1 173.0 144.1 173.5 144.1 174.0 144.2 174.5 144.2 175.0 144.2 175.5 144.2 176.0 144.2 176.5 144.1 177.0 144.1 177.5 144.1 178.0 144.1 178.5 144.1 179.0 144.2 179.5 144.2 180.0 144.3 180.5 144.2 181.0 144.1 181.5 144.2 182.0 144.2 182.5 144.2 183.0 144.2 183.5 144.1 184.0 144.1 184.5 144.1 185.0 144.1 185.5 144.1 186.0 144.1 186.5 144.1 187.0 144.2 187.5 144.1 188.0 144.0 188.5 143.9 189.0 143.9 189.5 144.0 190.0 144.0 190.5 144.1 191.0 144.1 191.5 144.1 192.0 144.1 192.5 144.1 193.0 144.2 193.5 144.2 194.0 144.1 194.5 144.1 195.0 144.0 195.5 144.1 196.0 144.1 196.5 144.1 197.0 144.0 197.5 144.0 198.0 144.1 198.5 144.1 199.0 144.2 199.5 144.2 200.0 144.1 200.5 144.1 200.8 144.0" fill="none" stroke="#262626" stroke-width="1.15" stroke-dasharray="1.9 1.0" stroke-linejoin="round"/>
<text x="33.60" y="146.80" font-size="9.30" font-weight="bold" fill="#111" text-anchor="middle">1:1:0</text>
<path d="M50.0 166.8L50.5 166.7 51.0 166.6 51.5 166.6 52.0 166.8 52.5 166.8 53.0 166.8 53.5 166.8 54.0 166.8 54.5 166.9 55.0 166.9 55.5 166.8 56.0 166.7 56.5 166.7 57.0 166.7 57.5 166.8 58.0 166.8 58.5 166.6 59.0 166.6 59.5 166.6 60.0 166.7 60.5 166.7 61.0 166.7 61.5 166.6 62.0 166.5 62.5 166.5 63.0 166.6 63.5 166.7 64.0 166.7 64.5 166.8 65.0 166.8 65.5 166.8 66.0 166.8 66.5 166.7 67.0 166.7 67.5 166.5 68.0 166.5 68.5 166.5 69.0 166.6 69.5 166.7 70.0 166.7 70.5 166.6 71.0 166.7 71.5 166.8 72.0 166.8 72.5 166.8 73.0 166.6 73.5 166.5 74.0 166.4 74.5 166.4 75.0 166.4 75.5 166.5 76.0 166.5 76.5 166.5 77.0 166.5 77.5 166.5 78.0 166.5 78.5 166.5 79.0 166.6 79.5 166.5 80.0 166.5 80.5 166.4 81.0 166.4 81.5 166.3 82.0 166.2 82.5 166.0 83.0 165.9 83.5 165.9 84.0 165.8 84.5 165.9 85.0 165.9 85.5 165.8 86.0 165.7 86.5 165.5 87.0 165.3 87.4 165.2 87.5 165.1 88.0 165.1 88.5 165.1 89.0 165.0 89.5 165.0 90.0 164.9 90.5 164.8 91.0 164.8 91.5 164.8 92.0 164.7 92.5 164.7 93.0 164.6 93.5 164.5 94.0 164.4 94.5 164.4 95.0 164.4 95.5 164.2 96.0 164.2 96.5 164.1 97.0 164.0 97.5 163.9 98.0 163.8 98.2 163.6 98.5 163.5 99.0 163.2 99.5 162.9 100.0 162.5 100.5 162.2 101.0 161.6 101.5 160.8 101.8 160.2 102.0 159.6 102.5 157.7 102.8 156.2 103.0 154.5 103.5 150.3 104.0 155.9 104.4 162.8 104.5 164.1 105.0 170.8 105.3 174.8 105.5 177.7 106.0 185.1 106.2 186.0 106.5 183.6 107.0 176.8 107.5 173.4 107.8 172.3 108.0 172.0 108.5 171.5 109.0 171.2 109.5 170.9 110.0 170.6 110.5 170.4 111.0 170.2 111.5 170.0 112.0 169.7 112.5 169.5 113.0 169.2 113.5 168.9 114.0 168.5 114.5 168.1 115.0 167.7 115.5 167.3 116.0 166.9 116.5 166.4 117.0 165.7 117.5 165.0 118.0 164.3 118.5 163.6 119.0 162.8 119.5 161.9 120.0 161.0 120.5 160.1 121.0 159.2 121.5 158.2 122.0 157.1 122.5 155.8 123.0 154.0 123.5 149.7 124.0 145.0 124.2 144.4 124.5 147.4 125.0 159.9 125.2 164.8 125.5 173.0 126.0 187.2 126.3 190.6 126.5 189.6 127.0 182.7 127.4 178.2 127.5 177.7 128.0 175.7 128.5 174.2 129.0 173.1 129.2 172.7 129.5 172.2 130.0 171.5 130.5 171.0 131.0 170.5 131.5 170.1 132.0 169.7 132.5 169.4 133.0 169.0 133.5 168.7 134.0 168.4 134.5 168.2 135.0 168.0 135.5 167.9 136.0 167.8 136.5 167.8 137.0 167.7 137.5 167.5 138.0 167.3 138.5 167.1 138.9 167.0 139.0 167.0 139.5 166.8 140.0 166.6 140.5 166.4 141.0 166.2 141.5 166.0 142.0 165.6 142.1 165.5 142.5 165.1 143.0 164.4 143.5 163.5 143.7 163.1 144.0 161.8 144.5 159.3 144.7 158.9 145.0 160.5 145.5 166.2 145.6 167.2 146.0 171.4 146.5 174.8 147.0 173.5 147.5 171.8 148.0 171.0 148.5 170.4 148.6 170.4 149.0 170.1 149.5 169.8 150.0 169.5 150.5 169.2 151.0 169.0 151.5 168.8 151.9 168.7 152.0 168.7 152.5 168.5 153.0 168.4 153.5 168.2 154.0 168.1 154.5 168.1 155.0 168.0 155.5 168.0 156.0 167.9 156.5 167.8 157.0 167.8 157.5 167.9 158.0 167.9 158.5 167.8 159.0 167.6 159.5 167.6 160.0 167.6 160.5 167.7 161.0 167.8 161.5 167.8 162.0 167.7 162.5 167.6 163.0 167.6 163.5 167.6 164.0 167.7 164.5 167.6 165.0 167.5 165.5 167.5 166.0 167.5 166.5 167.5 167.0 167.5 167.5 167.4 168.0 167.3 168.5 167.3 169.0 167.4 169.5 167.6 170.0 167.7 170.5 167.7 171.0 167.6 171.5 167.5 172.0 167.4 172.5 167.3 173.0 167.4 173.5 167.5 174.0 167.6 174.5 167.7 175.0 167.6 175.5 167.6 176.0 167.6 176.5 167.5 177.0 167.4 177.5 167.3 178.0 167.4 178.5 167.5 179.0 167.6 179.5 167.6 180.0 167.6 180.5 167.6 181.0 167.5 181.5 167.4 182.0 167.4 182.5 167.5 183.0 167.5 183.5 167.5 184.0 167.4 184.5 167.4 185.0 167.4 185.5 167.6 186.0 167.7 186.5 167.7 187.0 167.5 187.5 167.3 188.0 167.2 188.5 167.3 189.0 167.4 189.5 167.5 190.0 167.5 190.5 167.4 191.0 167.4 191.5 167.4 192.0 167.5 192.5 167.5 193.0 167.5 193.5 167.4 194.0 167.4 194.5 167.4 195.0 167.4 195.5 167.3 196.0 167.4 196.5 167.4 197.0 167.4 197.5 167.4 198.0 167.3 198.5 167.2 199.0 167.2 199.5 167.2 200.0 167.3 200.5 167.4 200.8 167.4" fill="none" stroke="#a5a5a5" stroke-width="1.0" stroke-linejoin="round"/>
<path d="M50.0 166.6L50.5 166.6 51.0 166.7 51.5 166.8 52.0 166.8 52.5 166.9 53.0 166.9 53.5 166.9 54.0 166.9 54.5 166.8 55.0 166.7 55.5 166.7 56.0 166.6 56.5 166.6 57.0 166.6 57.5 166.6 58.0 166.7 58.5 166.8 59.0 166.7 59.5 166.7 60.0 166.7 60.5 166.8 61.0 166.7 61.5 166.7 62.0 166.7 62.5 166.7 63.0 166.8 63.5 166.9 64.0 166.9 64.5 166.7 65.0 166.6 65.5 166.5 66.0 166.5 66.5 166.6 67.0 166.7 67.5 166.7 68.0 166.7 68.5 166.8 69.0 166.7 69.5 166.7 70.0 166.7 70.5 166.8 71.0 166.8 71.5 166.7 72.0 166.5 72.5 166.4 73.0 166.4 73.5 166.5 74.0 166.6 74.5 166.7 75.0 166.8 75.5 166.8 76.0 166.7 76.5 166.6 77.0 166.4 77.5 166.4 78.0 166.4 78.5 166.4 79.0 166.4 79.5 166.3 80.0 166.3 80.5 166.3 81.0 166.3 81.5 166.2 82.0 166.1 82.5 166.0 83.0 165.9 83.5 165.8 84.0 165.7 84.5 165.7 85.0 165.7 85.5 165.6 86.0 165.5 86.5 165.4 87.0 165.2 87.4 165.1 87.5 165.0 88.0 164.9 88.5 164.9 89.0 165.0 89.5 165.0 90.0 164.9 90.5 164.9 91.0 164.8 91.5 164.6 92.0 164.4 92.5 164.4 93.0 164.5 93.5 164.6 94.0 164.4 94.5 164.3 95.0 164.1 95.5 164.1 96.0 164.0 96.5 163.9 97.0 163.9 97.5 163.8 98.0 163.7 98.2 163.6 98.5 163.5 99.0 163.2 99.5 162.9 100.0 162.6 100.5 162.1 101.0 161.6 101.5 160.8 101.8 160.1 102.0 159.6 102.5 157.7 102.8 156.2 103.0 154.5 103.5 150.4 104.0 155.9 104.4 162.8 104.5 164.1 105.0 170.8 105.3 174.7 105.5 177.6 106.0 185.0 106.2 186.0 106.5 183.6 107.0 176.7 107.5 173.4 107.8 172.3 108.0 172.0 108.5 171.5 109.0 171.2 109.5 170.9 110.0 170.7 110.5 170.4 111.0 170.1 111.5 169.9 112.0 169.7 112.5 169.5 113.0 169.2 113.5 168.9 114.0 168.6 114.5 168.3 115.0 167.9 115.5 167.4 116.0 166.9 116.5 166.4 117.0 165.7 117.5 165.0 118.0 164.3 118.5 163.6 119.0 162.8 119.5 162.0 120.0 161.1 120.5 160.2 121.0 159.2 121.5 158.1 122.0 156.9 122.5 155.6 123.0 153.8 123.5 149.5 124.0 144.9 124.2 144.4 124.5 147.4 125.0 159.8 125.2 164.7 125.5 172.9 126.0 187.1 126.3 190.5 126.5 189.6 127.0 182.7 127.4 178.2 127.5 177.7 128.0 175.7 128.5 174.2 129.0 173.1 129.2 172.7 129.5 172.2 130.0 171.6 130.5 171.0 131.0 170.6 131.5 170.1 132.0 169.7 132.5 169.3 133.0 169.0 133.5 168.7 134.0 168.5 134.5 168.4 135.0 168.2 135.5 168.0 136.0 167.9 136.5 167.8 137.0 167.6 137.5 167.5 138.0 167.3 138.5 167.1 138.9 167.0 139.0 167.0 139.5 166.8 140.0 166.6 140.5 166.4 141.0 166.1 141.5 165.8 142.0 165.5 142.1 165.4 142.5 165.1 143.0 164.4 143.5 163.6 143.7 163.1 144.0 161.9 144.5 159.2 144.7 158.9 145.0 160.5 145.5 166.2 145.6 167.2 146.0 171.5 146.5 174.8 147.0 173.5 147.5 171.8 148.0 171.0 148.5 170.4 148.6 170.3 149.0 170.0 149.5 169.7 150.0 169.5 150.5 169.3 151.0 169.0 151.5 168.8 151.9 168.7 152.0 168.7 152.5 168.5 153.0 168.4 153.5 168.2 154.0 168.1 154.5 168.1 155.0 168.0 155.5 167.9 156.0 167.9 156.5 167.9 157.0 167.9 157.5 167.9 158.0 167.9 158.5 167.8 159.0 167.8 159.5 167.7 160.0 167.7 160.5 167.7 161.0 167.6 161.5 167.5 162.0 167.5 162.5 167.5 163.0 167.6 163.5 167.6 164.0 167.6 164.5 167.6 165.0 167.5 165.5 167.5 166.0 167.4 166.5 167.4 167.0 167.3 167.5 167.3 168.0 167.3 168.5 167.3 169.0 167.3 169.5 167.4 170.0 167.4 170.5 167.5 171.0 167.5 171.5 167.5 172.0 167.5 172.5 167.4 173.0 167.3 173.5 167.3 174.0 167.4 174.5 167.5 175.0 167.5 175.5 167.5 176.0 167.5 176.5 167.4 177.0 167.4 177.5 167.3 178.0 167.3 178.5 167.4 179.0 167.4 179.5 167.4 180.0 167.3 180.5 167.2 181.0 167.3 181.5 167.4 182.0 167.5 182.5 167.5 183.0 167.4 183.5 167.3 184.0 167.3 184.5 167.4 185.0 167.4 185.5 167.4 186.0 167.4 186.5 167.4 187.0 167.4 187.5 167.3 188.0 167.3 188.5 167.4 189.0 167.4 189.5 167.5 190.0 167.5 190.5 167.4 191.0 167.3 191.5 167.2 192.0 167.2 192.5 167.2 193.0 167.2 193.5 167.3 194.0 167.4 194.5 167.4 195.0 167.4 195.5 167.3 196.0 167.4 196.5 167.4 197.0 167.4 197.5 167.4 198.0 167.3 198.5 167.3 199.0 167.3 199.5 167.3 200.0 167.3 200.5 167.2 200.8 167.2" fill="none" stroke="#262626" stroke-width="1.15" stroke-dasharray="1.9 1.0" stroke-linejoin="round"/>
<text x="33.60" y="170.03" font-size="9.30" font-weight="bold" fill="#111" text-anchor="middle">1:1:0.2</text>
<path d="M50.0 190.0L50.5 189.9 51.0 189.8 51.5 189.8 52.0 189.9 52.5 190.1 53.0 190.2 53.5 190.2 54.0 190.1 54.5 189.9 55.0 189.9 55.5 189.9 56.0 189.9 56.5 190.0 57.0 190.0 57.5 190.1 58.0 190.0 58.5 190.0 59.0 190.0 59.5 190.1 60.0 190.1 60.5 190.1 61.0 190.1 61.5 190.0 62.0 189.9 62.5 189.9 63.0 189.9 63.5 189.9 64.0 189.9 64.5 189.9 65.0 190.0 65.5 190.0 66.0 189.9 66.5 189.8 67.0 189.7 67.5 189.8 68.0 190.0 68.5 190.1 69.0 190.1 69.5 190.0 70.0 189.9 70.5 189.8 71.0 189.8 71.5 189.8 72.0 189.7 72.5 189.7 73.0 189.7 73.5 189.8 74.0 189.8 74.5 189.9 75.0 189.8 75.5 189.8 76.0 189.7 76.5 189.8 77.0 189.8 77.5 189.9 78.0 189.9 78.5 189.8 79.0 189.7 79.5 189.5 80.0 189.3 80.5 189.2 81.0 189.3 81.5 189.3 82.0 189.3 82.5 189.2 83.0 189.1 83.5 188.9 84.0 188.8 84.5 188.8 85.0 188.8 85.5 188.8 86.0 188.7 86.5 188.7 87.0 188.6 87.4 188.5 87.5 188.4 88.0 188.4 88.5 188.4 89.0 188.3 89.5 188.2 90.0 188.1 90.5 188.1 91.0 188.1 91.5 188.0 92.0 188.0 92.5 187.9 93.0 187.8 93.5 187.7 94.0 187.6 94.5 187.4 95.0 187.3 95.5 187.3 96.0 187.2 96.5 187.1 97.0 187.1 97.5 187.1 98.0 186.9 98.2 186.8 98.5 186.6 99.0 186.4 99.5 186.2 100.0 185.8 100.5 185.4 101.0 184.8 101.5 184.0 101.8 183.3 102.0 182.8 102.5 180.9 102.8 179.5 103.0 177.7 103.5 173.5 104.0 179.1 104.4 186.0 104.5 187.3 105.0 194.1 105.3 198.0 105.5 201.0 106.0 208.3 106.2 209.3 106.5 206.9 107.0 200.0 107.5 196.6 107.8 195.5 108.0 195.2 108.5 194.7 109.0 194.4 109.5 194.1 110.0 193.9 110.5 193.6 111.0 193.3 111.5 193.1 112.0 192.9 112.5 192.7 113.0 192.5 113.5 192.2 114.0 191.8 114.5 191.4 115.0 191.0 115.5 190.6 116.0 190.2 116.5 189.7 117.0 189.0 117.5 188.3 118.0 187.7 118.5 187.0 119.0 186.2 119.5 185.4 120.0 184.5 120.5 183.5 121.0 182.5 121.5 181.4 122.0 180.2 122.5 178.9 123.0 177.1 123.5 172.8 124.0 168.2 124.2 167.6 124.5 170.6 125.0 183.0 125.2 187.9 125.5 196.1 126.0 210.3 126.3 213.8 126.5 212.8 127.0 205.9 127.4 201.4 127.5 200.9 128.0 198.9 128.5 197.4 129.0 196.3 129.2 196.0 129.5 195.5 130.0 194.8 130.5 194.2 131.0 193.7 131.5 193.2 132.0 192.9 132.5 192.6 133.0 192.4 133.5 192.1 134.0 191.9 134.5 191.6 135.0 191.4 135.5 191.2 136.0 191.1 136.5 190.9 137.0 190.7 137.5 190.6 138.0 190.5 138.5 190.4 138.9 190.2 139.0 190.2 139.5 190.0 140.0 189.8 140.5 189.6 141.0 189.3 141.5 189.1 142.0 188.7 142.1 188.7 142.5 188.3 143.0 187.7 143.5 186.9 143.7 186.5 144.0 185.2 144.5 182.6 144.7 182.2 145.0 183.7 145.5 189.5 145.6 190.5 146.0 194.8 146.5 198.1 147.0 196.8 147.5 195.0 148.0 194.2 148.5 193.6 148.6 193.5 149.0 193.2 149.5 192.9 150.0 192.7 150.5 192.5 151.0 192.3 151.5 192.0 151.9 191.9 152.0 191.9 152.5 191.7 153.0 191.7 153.5 191.6 154.0 191.5 154.5 191.5 155.0 191.3 155.5 191.1 156.0 191.0 156.5 191.1 157.0 191.2 157.5 191.2 158.0 191.2 158.5 191.3 159.0 191.1 159.5 191.0 160.0 190.9 160.5 190.9 161.0 191.0 161.5 191.0 162.0 191.0 162.5 190.9 163.0 190.9 163.5 190.9 164.0 190.9 164.5 190.7 165.0 190.6 165.5 190.5 166.0 190.5 166.5 190.5 167.0 190.4 167.5 190.5 168.0 190.7 168.5 190.8 169.0 190.8 169.5 190.7 170.0 190.6 170.5 190.4 171.0 190.4 171.5 190.5 172.0 190.6 172.5 190.7 173.0 190.7 173.5 190.7 174.0 190.7 174.5 190.8 175.0 190.7 175.5 190.7 176.0 190.6 176.5 190.6 177.0 190.4 177.5 190.5 178.0 190.4 178.5 190.4 179.0 190.3 179.5 190.4 180.0 190.5 180.5 190.6 181.0 190.6 181.5 190.5 182.0 190.5 182.5 190.5 183.0 190.6 183.5 190.7 184.0 190.8 184.5 190.7 185.0 190.7 185.5 190.6 186.0 190.5 186.5 190.5 187.0 190.4 187.5 190.4 188.0 190.5 188.5 190.7 189.0 190.7 189.5 190.5 190.0 190.3 190.5 190.2 191.0 190.3 191.5 190.4 192.0 190.5 192.5 190.6 193.0 190.5 193.5 190.5 194.0 190.5 194.5 190.6 195.0 190.8 195.5 190.8 196.0 190.7 196.5 190.7 197.0 190.6 197.5 190.5 198.0 190.5 198.5 190.5 199.0 190.6 199.5 190.5 200.0 190.5 200.5 190.4 200.8 190.5" fill="none" stroke="#a5a5a5" stroke-width="1.0" stroke-linejoin="round"/>
<path d="M50.0 190.1L50.5 190.1 51.0 190.1 51.5 190.0 52.0 189.9 52.5 190.0 53.0 190.0 53.5 190.0 54.0 190.0 54.5 190.1 55.0 190.1 55.5 190.0 56.0 189.9 56.5 189.9 57.0 189.9 57.5 190.0 58.0 189.9 58.5 190.0 59.0 190.0 59.5 190.1 60.0 190.0 60.5 190.0 61.0 190.0 61.5 190.1 62.0 190.2 62.5 190.1 63.0 189.9 63.5 189.8 64.0 189.8 64.5 189.8 65.0 190.0 65.5 190.1 66.0 190.1 66.5 190.0 67.0 190.0 67.5 189.9 68.0 189.9 68.5 189.8 69.0 189.8 69.5 189.7 70.0 189.8 70.5 189.8 71.0 189.9 71.5 189.8 72.0 189.8 72.5 189.8 73.0 189.7 73.5 189.7 74.0 189.7 74.5 189.7 75.0 189.6 75.5 189.6 76.0 189.6 76.5 189.5 77.0 189.5 77.5 189.5 78.0 189.5 78.5 189.5 79.0 189.6 79.5 189.6 80.0 189.6 80.5 189.6 81.0 189.5 81.5 189.4 82.0 189.3 82.5 189.3 83.0 189.2 83.5 189.2 84.0 189.0 84.5 188.8 85.0 188.7 85.5 188.6 86.0 188.5 86.5 188.5 87.0 188.5 87.4 188.5 87.5 188.4 88.0 188.3 88.5 188.2 89.0 188.2 89.5 188.2 90.0 188.2 90.5 188.1 91.0 188.0 91.5 187.9 92.0 187.8 92.5 187.7 93.0 187.7 93.5 187.7 94.0 187.6 94.5 187.5 95.0 187.5 95.5 187.4 96.0 187.3 96.5 187.2 97.0 187.1 97.5 187.0 98.0 186.9 98.2 186.8 98.5 186.7 99.0 186.5 99.5 186.2 100.0 185.8 100.5 185.3 101.0 184.8 101.5 183.9 101.8 183.3 102.0 182.8 102.5 181.0 102.8 179.5 103.0 177.7 103.5 173.6 104.0 179.2 104.4 186.1 104.5 187.4 105.0 194.1 105.3 198.0 105.5 200.9 106.0 208.2 106.2 209.2 106.5 206.8 107.0 199.9 107.5 196.6 107.8 195.6 108.0 195.3 108.5 194.8 109.0 194.4 109.5 194.1 110.0 193.8 110.5 193.6 111.0 193.3 111.5 193.1 112.0 192.9 112.5 192.7 113.0 192.5 113.5 192.2 114.0 191.8 114.5 191.5 115.0 191.1 115.5 190.7 116.0 190.2 116.5 189.6 117.0 189.0 117.5 188.2 118.0 187.5 118.5 186.8 119.0 186.1 119.5 185.2 120.0 184.4 120.5 183.4 121.0 182.5 121.5 181.3 122.0 180.2 122.5 178.9 123.0 177.1 123.5 172.8 124.0 168.2 124.2 167.6 124.5 170.6 125.0 183.1 125.2 188.0 125.5 196.1 126.0 210.3 126.3 213.7 126.5 212.9 127.0 206.0 127.4 201.5 127.5 201.0 128.0 198.9 128.5 197.4 129.0 196.3 129.2 196.0 129.5 195.5 130.0 194.8 130.5 194.2 131.0 193.7 131.5 193.2 132.0 192.9 132.5 192.5 133.0 192.3 133.5 192.0 134.0 191.7 134.5 191.5 135.0 191.4 135.5 191.2 136.0 191.1 136.5 191.0 137.0 190.9 137.5 190.7 138.0 190.5 138.5 190.3 138.9 190.2 139.0 190.2 139.5 190.0 140.0 189.8 140.5 189.6 141.0 189.4 141.5 189.1 142.0 188.7 142.1 188.6 142.5 188.3 143.0 187.7 143.5 186.8 143.7 186.4 144.0 185.2 144.5 182.6 144.7 182.2 145.0 183.7 145.5 189.4 145.6 190.3 146.0 194.6 146.5 197.9 147.0 196.7 147.5 194.9 148.0 194.2 148.5 193.6 148.6 193.6 149.0 193.3 149.5 193.0 150.0 192.7 150.5 192.4 151.0 192.2 151.5 192.0 151.9 191.9 152.0 191.9 152.5 191.8 153.0 191.7 153.5 191.5 154.0 191.4 154.5 191.3 155.0 191.2 155.5 191.2 156.0 191.2 156.5 191.1 157.0 191.1 157.5 191.0 158.0 191.0 158.5 190.9 159.0 190.8 159.5 190.8 160.0 190.9 160.5 191.0 161.0 190.9 161.5 190.8 162.0 190.7 162.5 190.7 163.0 190.6 163.5 190.6 164.0 190.6 164.5 190.7 165.0 190.7 165.5 190.8 166.0 190.8 166.5 190.9 167.0 190.8 167.5 190.8 168.0 190.8 168.5 190.8 169.0 190.8 169.5 190.9 170.0 190.9 170.5 190.9 171.0 190.9 171.5 190.8 172.0 190.8 172.5 190.8 173.0 190.8 173.5 190.8 174.0 190.7 174.5 190.7 175.0 190.7 175.5 190.7 176.0 190.7 176.5 190.6 177.0 190.5 177.5 190.5 178.0 190.5 178.5 190.6 179.0 190.6 179.5 190.6 180.0 190.6 180.5 190.6 181.0 190.5 181.5 190.6 182.0 190.6 182.5 190.7 183.0 190.7 183.5 190.8 184.0 190.8 184.5 190.7 185.0 190.6 185.5 190.5 186.0 190.5 186.5 190.5 187.0 190.5 187.5 190.5 188.0 190.5 188.5 190.5 189.0 190.5 189.5 190.5 190.0 190.5 190.5 190.5 191.0 190.5 191.5 190.5 192.0 190.5 192.5 190.5 193.0 190.5 193.5 190.6 194.0 190.6 194.5 190.6 195.0 190.5 195.5 190.5 196.0 190.5 196.5 190.5 197.0 190.5 197.5 190.6 198.0 190.5 198.5 190.5 199.0 190.5 199.5 190.4 200.0 190.4 200.5 190.5 200.8 190.6" fill="none" stroke="#262626" stroke-width="1.15" stroke-dasharray="1.9 1.0" stroke-linejoin="round"/>
<text x="33.60" y="193.26" font-size="9.30" font-weight="bold" fill="#111" text-anchor="middle">1:1:0.5</text>
<path d="M50.0 213.2L50.5 213.2 51.0 213.3 51.5 213.4 52.0 213.4 52.5 213.4 53.0 213.3 53.5 213.2 54.0 213.1 54.5 213.0 55.0 213.0 55.5 212.9 56.0 212.9 56.5 213.1 57.0 213.2 57.5 213.4 58.0 213.4 58.5 213.4 59.0 213.4 59.5 213.3 60.0 213.3 60.5 213.2 61.0 213.1 61.5 213.1 62.0 213.1 62.5 213.2 63.0 213.2 63.5 213.2 64.0 213.2 64.5 213.3 65.0 213.2 65.5 213.1 66.0 213.0 66.5 213.1 67.0 213.2 67.5 213.2 68.0 213.3 68.5 213.4 69.0 213.3 69.5 213.2 70.0 213.1 70.5 213.0 71.0 213.1 71.5 213.1 72.0 213.1 72.5 213.1 73.0 213.1 73.5 213.1 74.0 213.1 74.5 213.0 75.0 213.0 75.5 213.0 76.0 213.0 76.5 212.9 77.0 212.8 77.5 212.8 78.0 212.8 78.5 212.8 79.0 212.8 79.5 212.8 80.0 212.7 80.5 212.7 81.0 212.6 81.5 212.6 82.0 212.5 82.5 212.4 83.0 212.3 83.5 212.4 84.0 212.4 84.5 212.3 85.0 212.2 85.5 212.0 86.0 211.8 86.5 211.7 87.0 211.6 87.4 211.7 87.5 211.6 88.0 211.6 88.5 211.5 89.0 211.3 89.5 211.1 90.0 211.1 90.5 211.1 91.0 211.1 91.5 211.0 92.0 210.9 92.5 210.9 93.0 211.0 93.5 210.9 94.0 211.0 94.5 210.9 95.0 210.9 95.5 210.7 96.0 210.5 96.5 210.5 97.0 210.4 97.5 210.3 98.0 210.2 98.2 210.2 98.5 210.0 99.0 209.8 99.5 209.4 100.0 208.9 100.5 208.5 101.0 208.0 101.5 207.2 101.8 206.6 102.0 206.1 102.5 204.2 102.8 202.7 103.0 201.1 103.5 196.9 104.0 202.4 104.4 209.2 104.5 210.6 105.0 217.3 105.3 221.3 105.5 224.3 106.0 231.6 106.2 232.5 106.5 230.1 107.0 223.2 107.5 219.8 107.8 218.8 108.0 218.5 108.5 218.0 109.0 217.6 109.5 217.4 110.0 217.0 110.5 216.7 111.0 216.5 111.5 216.4 112.0 216.2 112.5 216.0 113.0 215.7 113.5 215.4 114.0 215.1 114.5 214.7 115.0 214.3 115.5 213.8 116.0 213.4 116.5 212.8 117.0 212.2 117.5 211.5 118.0 210.8 118.5 210.1 119.0 209.3 119.5 208.5 120.0 207.6 120.5 206.7 121.0 205.7 121.5 204.6 122.0 203.5 122.5 202.3 123.0 200.5 123.5 196.2 124.0 191.5 124.2 190.9 124.5 193.9 125.0 206.3 125.2 211.3 125.5 219.4 126.0 233.6 126.3 237.0 126.5 236.1 127.0 229.2 127.4 224.7 127.5 224.2 128.0 222.1 128.5 220.6 129.0 219.5 129.2 219.2 129.5 218.7 130.0 218.0 130.5 217.4 131.0 217.0 131.5 216.6 132.0 216.2 132.5 215.9 133.0 215.5 133.5 215.2 134.0 215.0 134.5 214.8 135.0 214.7 135.5 214.6 136.0 214.4 136.5 214.2 137.0 214.0 137.5 213.9 138.0 213.7 138.5 213.6 138.9 213.4 139.0 213.4 139.5 213.3 140.0 213.1 140.5 212.9 141.0 212.7 141.5 212.4 142.0 212.1 142.1 212.0 142.5 211.6 143.0 210.9 143.5 210.0 143.7 209.5 144.0 208.3 144.5 205.7 144.7 205.3 145.0 206.9 145.5 212.7 145.6 213.7 146.0 218.0 146.5 221.3 147.0 220.0 147.5 218.3 148.0 217.4 148.5 216.9 148.6 216.8 149.0 216.5 149.5 216.1 150.0 215.8 150.5 215.6 151.0 215.4 151.5 215.2 151.9 215.1 152.0 215.1 152.5 215.0 153.0 214.8 153.5 214.7 154.0 214.6 154.5 214.5 155.0 214.3 155.5 214.3 156.0 214.4 156.5 214.4 157.0 214.4 157.5 214.3 158.0 214.2 158.5 214.1 159.0 214.0 159.5 214.0 160.0 214.2 160.5 214.2 161.0 214.2 161.5 214.2 162.0 214.2 162.5 214.3 163.0 214.3 163.5 214.2 164.0 214.0 164.5 214.0 165.0 214.0 165.5 214.0 166.0 214.0 166.5 213.9 167.0 213.9 167.5 214.0 168.0 214.1 168.5 214.1 169.0 214.0 169.5 213.9 170.0 213.9 170.5 213.8 171.0 213.9 171.5 214.0 172.0 214.1 172.5 214.1 173.0 214.1 173.5 214.0 174.0 214.0 174.5 214.0 175.0 214.2 175.5 214.2 176.0 214.1 176.5 214.0 177.0 213.9 177.5 213.9 178.0 214.0 178.5 214.1 179.0 214.0 179.5 214.0 180.0 213.9 180.5 213.9 181.0 214.0 181.5 214.0 182.0 214.0 182.5 214.0 183.0 213.9 183.5 213.8 184.0 213.7 184.5 213.6 185.0 213.6 185.5 213.7 186.0 213.9 186.5 214.1 187.0 214.1 187.5 213.9 188.0 213.8 188.5 213.7 189.0 213.8 189.5 213.9 190.0 213.8 190.5 213.8 191.0 213.7 191.5 213.8 192.0 213.8 192.5 213.9 193.0 214.0 193.5 214.0 194.0 214.0 194.5 213.8 195.0 213.7 195.5 213.6 196.0 213.6 196.5 213.5 197.0 213.6 197.5 213.8 198.0 213.8 198.5 213.9 199.0 213.8 199.5 213.7 200.0 213.7 200.5 213.8 200.8 213.8" fill="none" stroke="#a5a5a5" stroke-width="1.0" stroke-linejoin="round"/>
<path d="M50.0 213.2L50.5 213.2 51.0 213.2 51.5 213.1 52.0 213.1 52.5 213.1 53.0 213.0 53.5 213.0 54.0 213.0 54.5 213.0 55.0 213.0 55.5 213.1 56.0 213.1 56.5 213.2 57.0 213.2 57.5 213.3 58.0 213.3 58.5 213.2 59.0 213.2 59.5 213.1 60.0 213.1 60.5 213.1 61.0 213.2 61.5 213.3 62.0 213.2 62.5 213.2 63.0 213.0 63.5 213.1 64.0 213.2 64.5 213.3 65.0 213.4 65.5 213.3 66.0 213.2 66.5 213.1 67.0 213.1 67.5 213.1 68.0 213.1 68.5 213.1 69.0 213.2 69.5 213.1 70.0 213.1 70.5 213.1 71.0 213.0 71.5 213.0 72.0 213.0 72.5 213.1 73.0 213.1 73.5 213.2 74.0 213.1 74.5 213.1 75.0 213.0 75.5 212.9 76.0 212.9 76.5 212.9 77.0 212.9 77.5 212.9 78.0 212.9 78.5 212.8 79.0 212.9 79.5 212.9 80.0 212.8 80.5 212.7 81.0 212.7 81.5 212.7 82.0 212.6 82.5 212.5 83.0 212.4 83.5 212.3 84.0 212.2 84.5 212.1 85.0 212.1 85.5 212.2 86.0 212.1 86.5 211.9 87.0 211.8 87.4 211.7 87.5 211.7 88.0 211.6 88.5 211.6 89.0 211.5 89.5 211.5 90.0 211.4 90.5 211.4 91.0 211.3 91.5 211.1 92.0 211.0 92.5 210.9 93.0 210.9 93.5 210.8 94.0 210.8 94.5 210.8 95.0 210.8 95.5 210.6 96.0 210.5 96.5 210.4 97.0 210.3 97.5 210.3 98.0 210.1 98.2 210.1 98.5 209.9 99.0 209.7 99.5 209.4 100.0 209.0 100.5 208.6 101.0 208.0 101.5 207.2 101.8 206.6 102.0 206.1 102.5 204.2 102.8 202.7 103.0 200.9 103.5 196.8 104.0 202.4 104.4 209.3 104.5 210.6 105.0 217.3 105.3 221.2 105.5 224.2 106.0 231.5 106.2 232.5 106.5 230.1 107.0 223.3 107.5 219.9 107.8 218.8 108.0 218.5 108.5 218.0 109.0 217.6 109.5 217.3 110.0 217.1 110.5 216.8 111.0 216.6 111.5 216.4 112.0 216.2 112.5 216.0 113.0 215.7 113.5 215.4 114.0 215.1 114.5 214.7 115.0 214.3 115.5 213.9 116.0 213.4 116.5 212.9 117.0 212.2 117.5 211.5 118.0 210.8 118.5 210.0 119.0 209.2 119.5 208.4 120.0 207.6 120.5 206.7 121.0 205.7 121.5 204.6 122.0 203.4 122.5 202.1 123.0 200.4 123.5 196.1 124.0 191.4 124.2 190.8 124.5 193.9 125.0 206.4 125.2 211.2 125.5 219.4 126.0 233.6 126.3 237.0 126.5 236.0 127.0 229.2 127.4 224.7 127.5 224.2 128.0 222.2 128.5 220.6 129.0 219.5 129.2 219.2 129.5 218.7 130.0 218.0 130.5 217.4 131.0 217.0 131.5 216.5 132.0 216.2 132.5 215.8 133.0 215.5 133.5 215.2 134.0 215.0 134.5 214.8 135.0 214.6 135.5 214.4 136.0 214.3 136.5 214.2 137.0 214.1 137.5 214.0 138.0 213.8 138.5 213.7 138.9 213.5 139.0 213.5 139.5 213.3 140.0 213.1 140.5 212.9 141.0 212.6 141.5 212.3 142.0 211.9 142.1 211.8 142.5 211.5 143.0 210.9 143.5 210.0 143.7 209.5 144.0 208.3 144.5 205.7 144.7 205.4 145.0 206.9 145.5 212.7 145.6 213.7 146.0 217.9 146.5 221.3 147.0 220.0 147.5 218.3 148.0 217.5 148.5 216.9 148.6 216.8 149.0 216.5 149.5 216.2 150.0 215.9 150.5 215.7 151.0 215.5 151.5 215.3 151.9 215.2 152.0 215.1 152.5 215.0 153.0 214.9 153.5 214.8 154.0 214.7 154.5 214.6 155.0 214.4 155.5 214.3 156.0 214.3 156.5 214.4 157.0 214.3 157.5 214.2 158.0 214.2 158.5 214.3 159.0 214.3 159.5 214.3 160.0 214.2 160.5 214.2 161.0 214.2 161.5 214.2 162.0 214.1 162.5 214.1 163.0 214.0 163.5 214.0 164.0 214.0 164.5 214.0 165.0 214.0 165.5 214.0 166.0 213.9 166.5 214.0 167.0 214.0 167.5 214.0 168.0 213.9 168.5 213.9 169.0 213.8 169.5 213.9 170.0 213.9 170.5 214.0 171.0 214.0 171.5 214.0 172.0 214.0 172.5 214.0 173.0 213.9 173.5 213.9 174.0 213.8 174.5 213.8 175.0 213.8 175.5 213.9 176.0 214.0 176.5 214.0 177.0 213.9 177.5 213.9 178.0 214.0 178.5 214.1 179.0 214.1 179.5 214.1 180.0 214.0 180.5 213.9 181.0 213.9 181.5 213.9 182.0 213.9 182.5 213.9 183.0 213.9 183.5 213.8 184.0 213.8 184.5 213.8 185.0 213.8 185.5 213.8 186.0 213.8 186.5 213.8 187.0 213.8 187.5 213.8 188.0 213.7 188.5 213.6 189.0 213.5 189.5 213.5 190.0 213.6 190.5 213.6 191.0 213.7 191.5 213.8 192.0 213.8 192.5 213.9 193.0 213.9 193.5 213.9 194.0 213.8 194.5 213.8 195.0 213.8 195.5 213.8 196.0 213.7 196.5 213.7 197.0 213.7 197.5 213.7 198.0 213.7 198.5 213.7 199.0 213.7 199.5 213.7 200.0 213.7 200.5 213.7 200.8 213.7" fill="none" stroke="#262626" stroke-width="1.15" stroke-dasharray="1.9 1.0" stroke-linejoin="round"/>
<text x="33.60" y="216.49" font-size="9.30" font-weight="bold" fill="#111" text-anchor="middle">1:1:0.7</text>
<path d="M50.0 236.6L50.5 236.6 51.0 236.7 51.5 236.6 52.0 236.5 52.5 236.4 53.0 236.3 53.5 236.3 54.0 236.2 54.5 236.2 55.0 236.2 55.5 236.3 56.0 236.4 56.5 236.5 57.0 236.6 57.5 236.6 58.0 236.6 58.5 236.5 59.0 236.4 59.5 236.5 60.0 236.5 60.5 236.4 61.0 236.4 61.5 236.4 62.0 236.5 62.5 236.6 63.0 236.6 63.5 236.6 64.0 236.5 64.5 236.4 65.0 236.3 65.5 236.2 66.0 236.2 66.5 236.2 67.0 236.1 67.5 236.2 68.0 236.2 68.5 236.3 69.0 236.3 69.5 236.3 70.0 236.4 70.5 236.4 71.0 236.3 71.5 236.3 72.0 236.2 72.5 236.3 73.0 236.3 73.5 236.4 74.0 236.4 74.5 236.3 75.0 236.2 75.5 236.3 76.0 236.3 76.5 236.4 77.0 236.2 77.5 236.1 78.0 236.1 78.5 236.2 79.0 236.3 79.5 236.2 80.0 236.1 80.5 235.9 81.0 235.8 81.5 235.7 82.0 235.6 82.5 235.5 83.0 235.3 83.5 235.1 84.0 234.9 84.5 234.7 85.0 234.5 85.5 234.1 86.0 233.6 86.5 233.0 87.0 232.1 87.4 231.4 87.5 231.3 88.0 230.2 88.5 229.1 89.0 228.4 89.5 228.3 90.0 228.8 90.5 229.6 91.0 230.5 91.5 231.2 92.0 231.8 92.5 232.3 93.0 232.7 93.5 233.1 94.0 233.3 94.5 233.4 95.0 233.4 95.5 233.5 96.0 233.5 96.5 233.5 97.0 233.5 97.5 233.3 98.0 233.3 98.2 233.2 98.5 233.2 99.0 233.0 99.5 232.8 100.0 232.3 100.5 231.8 101.0 231.2 101.5 230.4 101.8 229.7 102.0 229.2 102.5 227.3 102.8 225.9 103.0 224.2 103.5 220.1 104.0 225.7 104.4 232.5 104.5 233.9 105.0 240.6 105.3 244.6 105.5 247.5 106.0 254.8 106.2 255.7 106.5 253.3 107.0 246.4 107.5 243.1 107.8 242.0 108.0 241.7 108.5 241.1 109.0 240.8 109.5 240.7 110.0 240.8 110.5 241.0 111.0 241.1 111.5 240.9 112.0 240.3 112.5 239.2 113.0 238.2 113.5 237.5 114.0 237.2 114.5 237.2 115.0 237.1 115.5 236.9 116.0 236.5 116.5 235.9 117.0 235.3 117.5 234.7 118.0 233.9 118.5 233.2 119.0 232.4 119.5 231.5 120.0 230.7 120.5 229.7 121.0 228.8 121.5 227.8 122.0 226.7 122.5 225.4 123.0 223.6 123.5 219.2 124.0 214.5 124.2 213.9 124.5 217.0 125.0 229.5 125.2 234.5 125.5 242.7 126.0 256.9 126.3 260.3 126.5 259.3 127.0 252.4 127.4 247.9 127.5 247.3 128.0 245.3 128.5 243.8 129.0 242.8 129.2 242.5 129.5 242.0 130.0 241.3 130.5 240.7 131.0 240.1 131.5 239.5 132.0 239.0 132.5 238.4 133.0 237.8 133.5 237.3 134.0 237.1 134.5 236.9 135.0 237.0 135.5 237.1 136.0 237.2 136.5 237.3 137.0 237.3 137.5 237.2 138.0 237.1 138.5 237.0 138.9 236.8 139.0 236.7 139.5 236.5 140.0 236.3 140.5 236.1 141.0 235.9 141.5 235.5 142.0 235.2 142.1 235.0 142.5 234.6 143.0 234.0 143.5 233.2 143.7 232.8 144.0 231.6 144.5 229.0 144.7 228.6 145.0 230.3 145.5 236.4 145.6 237.5 146.0 242.6 146.5 247.2 147.0 246.1 147.5 243.4 148.0 241.5 148.5 240.4 148.6 240.2 149.0 239.8 149.5 239.4 150.0 239.1 150.5 238.8 151.0 238.6 151.5 238.4 151.9 238.3 152.0 238.3 152.5 238.2 153.0 238.2 153.5 238.1 154.0 237.9 154.5 237.8 155.0 237.6 155.5 237.5 156.0 237.5 156.5 237.6 157.0 237.6 157.5 237.5 158.0 237.5 158.5 237.4 159.0 237.3 159.5 237.3 160.0 237.4 160.5 237.5 161.0 237.5 161.5 237.5 162.0 237.3 162.5 237.3 163.0 237.3 163.5 237.4 164.0 237.4 164.5 237.3 165.0 237.2 165.5 237.1 166.0 237.1 166.5 237.1 167.0 237.2 167.5 237.2 168.0 237.2 168.5 237.3 169.0 237.3 169.5 237.4 170.0 237.3 170.5 237.2 171.0 237.1 171.5 237.1 172.0 237.0 172.5 237.0 173.0 237.0 173.5 237.0 174.0 237.1 174.5 237.2 175.0 237.1 175.5 237.1 176.0 237.1 176.5 237.2 177.0 237.2 177.5 237.2 178.0 237.3 178.5 237.3 179.0 237.2 179.5 237.2 180.0 237.1 180.5 237.1 181.0 237.1 181.5 237.0 182.0 237.1 182.5 237.1 183.0 237.1 183.5 237.0 184.0 237.1 184.5 237.2 185.0 237.2 185.5 237.1 186.0 237.0 186.5 236.9 187.0 237.0 187.5 237.0 188.0 237.0 188.5 236.9 189.0 236.9 189.5 237.0 190.0 237.2 190.5 237.2 191.0 237.2 191.5 237.1 192.0 236.9 192.5 236.9 193.0 236.8 193.5 236.9 194.0 237.0 194.5 237.0 195.0 237.0 195.5 237.0 196.0 237.0 196.5 237.1 197.0 237.1 197.5 237.1 198.0 237.0 198.5 237.0 199.0 236.9 199.5 237.0 200.0 237.0 200.5 237.0 200.8 237.0" fill="none" stroke="#a5a5a5" stroke-width="1.0" stroke-linejoin="round"/>
<path d="M50.0 236.5L50.5 236.5 51.0 236.4 51.5 236.4 52.0 236.5 52.5 236.5 53.0 236.5 53.5 236.5 54.0 236.4 54.5 236.4 55.0 236.4 55.5 236.4 56.0 236.5 56.5 236.5 57.0 236.5 57.5 236.5 58.0 236.5 58.5 236.5 59.0 236.6 59.5 236.6 60.0 236.5 60.5 236.5 61.0 236.4 61.5 236.5 62.0 236.5 62.5 236.6 63.0 236.5 63.5 236.5 64.0 236.5 64.5 236.5 65.0 236.5 65.5 236.4 66.0 236.4 66.5 236.4 67.0 236.4 67.5 236.4 68.0 236.4 68.5 236.4 69.0 236.3 69.5 236.3 70.0 236.3 70.5 236.3 71.0 236.3 71.5 236.2 72.0 236.2 72.5 236.2 73.0 236.2 73.5 236.2 74.0 236.3 74.5 236.4 75.0 236.5 75.5 236.4 76.0 236.2 76.5 236.1 77.0 236.1 77.5 236.1 78.0 236.1 78.5 236.1 79.0 236.1 79.5 236.2 80.0 236.1 80.5 236.0 81.0 235.9 81.5 235.8 82.0 235.7 82.5 235.5 83.0 235.3 83.5 235.2 84.0 235.0 84.5 234.8 85.0 234.5 85.5 234.1 86.0 233.6 86.5 233.2 87.0 232.9 87.4 232.6 87.5 232.6 88.0 232.3 88.5 232.1 89.0 231.9 89.5 231.8 90.0 231.7 90.5 231.6 91.0 231.6 91.5 231.8 92.0 232.1 92.5 232.4 93.0 232.7 93.5 232.9 94.0 233.1 94.5 233.1 95.0 233.2 95.5 233.4 96.0 233.5 96.5 233.5 97.0 233.5 97.5 233.4 98.0 233.3 98.2 233.2 98.5 233.1 99.0 232.9 99.5 232.6 100.0 232.3 100.5 231.8 101.0 231.3 101.5 230.4 101.8 229.8 102.0 229.3 102.5 227.4 102.8 225.9 103.0 224.2 103.5 220.0 104.0 225.5 104.4 232.3 104.5 233.7 105.0 240.5 105.3 244.4 105.5 247.5 106.0 254.8 106.2 255.8 106.5 253.3 107.0 246.4 107.5 243.1 107.8 242.0 108.0 241.7 108.5 241.2 109.0 240.9 109.5 240.8 110.0 240.9 110.5 241.2 111.0 241.5 111.5 241.7 112.0 241.3 112.5 240.6 113.0 239.7 113.5 239.0 114.0 238.4 114.5 238.0 115.0 237.6 115.5 237.2 116.0 236.7 116.5 236.1 117.0 235.4 117.5 234.7 118.0 234.0 118.5 233.3 119.0 232.5 119.5 231.6 120.0 230.7 120.5 229.9 121.0 228.9 121.5 227.8 122.0 226.7 122.5 225.4 123.0 223.6 123.5 219.3 124.0 214.6 124.2 214.1 124.5 217.1 125.0 229.5 125.2 234.4 125.5 242.6 126.0 256.8 126.3 260.3 126.5 259.3 127.0 252.5 127.4 248.0 127.5 247.5 128.0 245.4 128.5 243.8 129.0 242.7 129.2 242.4 129.5 241.9 130.0 241.2 130.5 240.7 131.0 240.2 131.5 239.7 132.0 239.3 132.5 239.0 133.0 238.7 133.5 238.4 134.0 238.2 134.5 238.0 135.0 237.9 135.5 237.7 136.0 237.6 136.5 237.4 137.0 237.3 137.5 237.1 138.0 237.0 138.5 236.8 138.9 236.7 139.0 236.7 139.5 236.5 140.0 236.3 140.5 236.0 141.0 235.8 141.5 235.5 142.0 235.2 142.1 235.1 142.5 234.7 143.0 234.1 143.5 233.2 143.7 232.9 144.0 231.6 144.5 229.0 144.7 228.6 145.0 230.2 145.5 236.0 145.6 236.9 146.0 241.2 146.5 244.5 147.0 243.3 147.5 241.5 148.0 240.7 148.5 240.0 148.6 240.0 149.0 239.7 149.5 239.4 150.0 239.1 150.5 238.9 151.0 238.7 151.5 238.5 151.9 238.4 152.0 238.4 152.5 238.2 153.0 238.1 153.5 238.0 154.0 237.9 154.5 237.8 155.0 237.8 155.5 237.7 156.0 237.6 156.5 237.5 157.0 237.4 157.5 237.4 158.0 237.5 158.5 237.6 159.0 237.6 159.5 237.6 160.0 237.5 160.5 237.4 161.0 237.3 161.5 237.3 162.0 237.3 162.5 237.3 163.0 237.2 163.5 237.2 164.0 237.2 164.5 237.2 165.0 237.2 165.5 237.2 166.0 237.3 166.5 237.3 167.0 237.4 167.5 237.3 168.0 237.2 168.5 237.1 169.0 237.1 169.5 237.0 170.0 237.1 170.5 237.1 171.0 237.1 171.5 237.0 172.0 237.0 172.5 237.1 173.0 237.2 173.5 237.3 174.0 237.2 174.5 237.1 175.0 236.9 175.5 236.8 176.0 236.9 176.5 237.0 177.0 237.1 177.5 237.1 178.0 237.1 178.5 237.0 179.0 237.0 179.5 237.0 180.0 237.1 180.5 237.2 181.0 237.2 181.5 237.2 182.0 237.2 182.5 237.1 183.0 237.1 183.5 237.0 184.0 236.9 184.5 236.9 185.0 236.9 185.5 237.1 186.0 237.1 186.5 237.1 187.0 237.0 187.5 237.0 188.0 237.0 188.5 237.0 189.0 237.0 189.5 237.0 190.0 237.1 190.5 237.1 191.0 237.0 191.5 237.0 192.0 237.0 192.5 237.1 193.0 237.2 193.5 237.2 194.0 237.2 194.5 237.1 195.0 237.0 195.5 237.0 196.0 237.0 196.5 237.0 197.0 237.0 197.5 237.0 198.0 237.0 198.5 237.1 199.0 237.2 199.5 237.2 200.0 237.1 200.5 237.0 200.8 236.9" fill="none" stroke="#262626" stroke-width="1.15" stroke-dasharray="1.9 1.0" stroke-linejoin="round"/>
<text x="33.60" y="239.72" font-size="9.30" font-weight="bold" fill="#111" text-anchor="middle">1:1:1</text>
<path d="M50.0 259.8L50.5 259.9 51.0 259.9 51.5 259.9 52.0 259.8 52.5 259.7 53.0 259.8 53.5 259.8 54.0 259.8 54.5 259.8 55.0 259.8 55.5 259.7 56.0 259.7 56.5 259.7 57.0 259.7 57.5 259.8 58.0 259.7 58.5 259.7 59.0 259.6 59.5 259.5 60.0 259.4 60.5 259.5 61.0 259.6 61.5 259.6 62.0 259.5 62.5 259.4 63.0 259.4 63.5 259.4 64.0 259.5 64.5 259.5 65.0 259.5 65.5 259.5 66.0 259.5 66.5 259.6 67.0 259.5 67.5 259.5 68.0 259.6 68.5 259.6 69.0 259.6 69.5 259.5 70.0 259.6 70.5 259.6 71.0 259.5 71.5 259.4 72.0 259.3 72.5 259.3 73.0 259.4 73.5 259.4 74.0 259.5 74.5 259.5 75.0 259.5 75.5 259.4 76.0 259.4 76.5 259.4 77.0 259.3 77.5 259.4 78.0 259.4 78.5 259.4 79.0 259.4 79.5 259.3 80.0 259.1 80.5 259.1 81.0 259.0 81.5 258.9 82.0 258.9 82.5 258.8 83.0 258.7 83.5 258.5 84.0 258.3 84.5 257.9 85.0 257.6 85.5 257.1 86.0 256.6 86.5 256.0 87.0 255.2 87.4 254.5 87.5 254.4 88.0 253.4 88.5 252.4 89.0 251.7 89.5 251.5 90.0 251.9 90.5 252.7 91.0 253.6 91.5 254.4 92.0 255.0 92.5 255.5 93.0 255.7 93.5 256.0 94.0 256.2 94.5 256.4 95.0 256.6 95.5 256.6 96.0 256.7 96.5 256.7 97.0 256.7 97.5 256.6 98.0 256.5 98.2 256.5 98.5 256.4 99.0 256.2 99.5 255.9 100.0 255.5 100.5 255.1 101.0 254.6 101.5 253.8 101.8 253.2 102.0 252.6 102.5 250.7 102.8 249.1 103.0 247.4 103.5 243.3 104.0 248.8 104.4 255.6 104.5 257.0 105.0 263.7 105.3 267.6 105.5 270.6 106.0 278.0 106.2 278.9 106.5 276.5 107.0 269.6 107.5 266.3 107.8 265.3 108.0 265.0 108.5 264.4 109.0 264.1 109.5 263.9 110.0 263.9 110.5 264.1 111.0 264.2 111.5 264.0 112.0 263.4 112.5 262.4 113.0 261.5 113.5 260.9 114.0 260.6 114.5 260.4 115.0 260.3 115.5 260.1 116.0 259.7 116.5 259.3 117.0 258.7 117.5 258.0 118.0 257.2 118.5 256.5 119.0 255.7 119.5 254.8 120.0 253.9 120.5 253.1 121.0 252.2 121.5 251.1 122.0 249.9 122.5 248.6 123.0 246.8 123.5 242.5 124.0 237.9 124.2 237.2 124.5 240.2 125.0 252.6 125.2 257.6 125.5 265.8 126.0 280.1 126.3 283.5 126.5 282.6 127.0 275.7 127.4 271.2 127.5 270.7 128.0 268.7 128.5 267.2 129.0 266.1 129.2 265.7 129.5 265.2 130.0 264.4 130.5 263.8 131.0 263.3 131.5 262.8 132.0 262.3 132.5 261.7 133.0 261.1 133.5 260.6 134.0 260.3 134.5 260.2 135.0 260.3 135.5 260.3 136.0 260.4 136.5 260.5 137.0 260.5 137.5 260.4 138.0 260.3 138.5 260.3 138.9 260.1 139.0 260.0 139.5 259.8 140.0 259.5 140.5 259.3 141.0 259.0 141.5 258.8 142.0 258.5 142.1 258.5 142.5 258.1 143.0 257.4 143.5 256.5 143.7 256.1 144.0 254.8 144.5 252.2 144.7 251.9 145.0 253.5 145.5 259.7 145.6 260.8 146.0 265.8 146.5 270.3 147.0 269.2 147.5 266.5 148.0 264.6 148.5 263.6 148.6 263.4 149.0 263.0 149.5 262.6 150.0 262.4 150.5 262.2 151.0 262.0 151.5 261.8 151.9 261.7 152.0 261.7 152.5 261.5 153.0 261.4 153.5 261.2 154.0 261.2 154.5 261.1 155.0 261.1 155.5 260.9 156.0 260.9 156.5 260.9 157.0 260.9 157.5 261.0 158.0 260.9 158.5 260.9 159.0 260.9 159.5 260.8 160.0 260.7 160.5 260.7 161.0 260.6 161.5 260.6 162.0 260.6 162.5 260.6 163.0 260.6 163.5 260.6 164.0 260.5 164.5 260.4 165.0 260.4 165.5 260.4 166.0 260.4 166.5 260.3 167.0 260.2 167.5 260.3 168.0 260.3 168.5 260.4 169.0 260.4 169.5 260.3 170.0 260.3 170.5 260.3 171.0 260.3 171.5 260.3 172.0 260.4 172.5 260.3 173.0 260.2 173.5 260.2 174.0 260.2 174.5 260.3 175.0 260.4 175.5 260.4 176.0 260.4 176.5 260.4 177.0 260.3 177.5 260.4 178.0 260.4 178.5 260.4 179.0 260.3 179.5 260.3 180.0 260.3 180.5 260.3 181.0 260.2 181.5 260.2 182.0 260.3 182.5 260.3 183.0 260.3 183.5 260.3 184.0 260.4 184.5 260.5 185.0 260.6 185.5 260.5 186.0 260.3 186.5 260.2 187.0 260.1 187.5 260.1 188.0 260.3 188.5 260.3 189.0 260.3 189.5 260.2 190.0 260.2 190.5 260.1 191.0 260.1 191.5 260.2 192.0 260.2 192.5 260.2 193.0 260.3 193.5 260.2 194.0 260.3 194.5 260.2 195.0 260.2 195.5 260.1 196.0 260.2 196.5 260.2 197.0 260.2 197.5 260.3 198.0 260.3 198.5 260.3 199.0 260.2 199.5 260.1 200.0 260.1 200.5 260.1 200.8 260.2" fill="none" stroke="#a5a5a5" stroke-width="1.0" stroke-linejoin="round"/>
<path d="M50.0 259.7L50.5 259.8 51.0 259.8 51.5 259.8 52.0 259.7 52.5 259.7 53.0 259.8 53.5 259.8 54.0 259.8 54.5 259.8 55.0 259.7 55.5 259.6 56.0 259.6 56.5 259.6 57.0 259.6 57.5 259.5 58.0 259.5 58.5 259.4 59.0 259.4 59.5 259.4 60.0 259.5 60.5 259.6 61.0 259.6 61.5 259.6 62.0 259.6 62.5 259.7 63.0 259.7 63.5 259.7 64.0 259.6 64.5 259.6 65.0 259.6 65.5 259.7 66.0 259.7 66.5 259.6 67.0 259.6 67.5 259.6 68.0 259.6 68.5 259.5 69.0 259.5 69.5 259.5 70.0 259.6 70.5 259.6 71.0 259.5 71.5 259.5 72.0 259.5 72.5 259.5 73.0 259.5 73.5 259.4 74.0 259.4 74.5 259.3 75.0 259.3 75.5 259.3 76.0 259.4 76.5 259.4 77.0 259.5 77.5 259.4 78.0 259.4 78.5 259.3 79.0 259.2 79.5 259.1 80.0 259.0 80.5 259.0 81.0 259.0 81.5 258.9 82.0 258.8 82.5 258.7 83.0 258.6 83.5 258.4 84.0 258.2 84.5 257.9 85.0 257.7 85.5 257.4 86.0 257.0 86.5 256.7 87.0 256.3 87.4 256.0 87.5 255.8 88.0 255.5 88.5 255.2 89.0 254.9 89.5 254.8 90.0 254.8 90.5 254.8 91.0 254.9 91.5 255.1 92.0 255.4 92.5 255.7 93.0 256.1 93.5 256.2 94.0 256.3 94.5 256.3 95.0 256.4 95.5 256.6 96.0 256.6 96.5 256.6 97.0 256.6 97.5 256.7 98.0 256.6 98.2 256.6 98.5 256.5 99.0 256.2 99.5 255.9 100.0 255.5 100.5 255.0 101.0 254.5 101.5 253.7 101.8 253.1 102.0 252.5 102.5 250.7 102.8 249.2 103.0 247.4 103.5 243.2 104.0 248.7 104.4 255.6 104.5 257.0 105.0 263.7 105.3 267.7 105.5 270.7 106.0 278.0 106.2 279.0 106.5 276.6 107.0 269.7 107.5 266.4 107.8 265.3 108.0 265.0 108.5 264.5 109.0 264.1 109.5 264.0 110.0 264.1 110.5 264.3 111.0 264.7 111.5 264.9 112.0 264.5 112.5 263.8 113.0 262.9 113.5 262.2 114.0 261.6 114.5 261.1 115.0 260.7 115.5 260.3 116.0 259.8 116.5 259.3 117.0 258.7 117.5 258.0 118.0 257.2 118.5 256.5 119.0 255.7 119.5 254.9 120.0 254.1 120.5 253.1 121.0 252.1 121.5 251.0 122.0 249.9 122.5 248.6 123.0 246.9 123.5 242.6 124.0 237.9 124.2 237.3 124.5 240.3 125.0 252.8 125.2 257.7 125.5 265.8 126.0 280.0 126.3 283.4 126.5 282.5 127.0 275.6 127.4 271.1 127.5 270.7 128.0 268.6 128.5 267.1 129.0 266.1 129.2 265.7 129.5 265.2 130.0 264.5 130.5 263.9 131.0 263.4 131.5 263.0 132.0 262.6 132.5 262.3 133.0 262.0 133.5 261.7 134.0 261.4 134.5 261.2 135.0 261.0 135.5 260.9 136.0 260.7 136.5 260.6 137.0 260.5 137.5 260.4 138.0 260.2 138.5 260.1 138.9 259.9 139.0 259.9 139.5 259.8 140.0 259.6 140.5 259.4 141.0 259.1 141.5 258.8 142.0 258.4 142.1 258.4 142.5 258.0 143.0 257.3 143.5 256.4 143.7 255.9 144.0 254.7 144.5 252.2 144.7 251.8 145.0 253.4 145.5 259.1 145.6 260.1 146.0 264.3 146.5 267.6 147.0 266.4 147.5 264.7 148.0 263.9 148.5 263.4 148.6 263.3 149.0 263.0 149.5 262.6 150.0 262.4 150.5 262.2 151.0 262.0 151.5 261.8 151.9 261.6 152.0 261.6 152.5 261.5 153.0 261.4 153.5 261.3 154.0 261.2 154.5 261.0 155.0 260.9 155.5 260.8 156.0 260.7 156.5 260.8 157.0 260.8 157.5 260.9 158.0 260.9 158.5 260.8 159.0 260.7 159.5 260.6 160.0 260.7 160.5 260.7 161.0 260.8 161.5 260.7 162.0 260.7 162.5 260.5 163.0 260.5 163.5 260.5 164.0 260.5 164.5 260.4 165.0 260.4 165.5 260.3 166.0 260.3 166.5 260.3 167.0 260.4 167.5 260.4 168.0 260.5 168.5 260.4 169.0 260.4 169.5 260.4 170.0 260.5 170.5 260.5 171.0 260.4 171.5 260.4 172.0 260.4 172.5 260.4 173.0 260.4 173.5 260.5 174.0 260.5 174.5 260.4 175.0 260.4 175.5 260.5 176.0 260.5 176.5 260.5 177.0 260.4 177.5 260.4 178.0 260.4 178.5 260.5 179.0 260.4 179.5 260.4 180.0 260.4 180.5 260.4 181.0 260.4 181.5 260.4 182.0 260.4 182.5 260.4 183.0 260.3 183.5 260.2 184.0 260.2 184.5 260.2 185.0 260.1 185.5 260.1 186.0 260.1 186.5 260.1 187.0 260.2 187.5 260.3 188.0 260.3 188.5 260.3 189.0 260.2 189.5 260.2 190.0 260.2 190.5 260.2 191.0 260.2 191.5 260.3 192.0 260.3 192.5 260.3 193.0 260.3 193.5 260.3 194.0 260.4 194.5 260.4 195.0 260.3 195.5 260.3 196.0 260.2 196.5 260.2 197.0 260.2 197.5 260.2 198.0 260.2 198.5 260.2 199.0 260.3 199.5 260.3 200.0 260.2 200.5 260.2 200.8 260.2" fill="none" stroke="#262626" stroke-width="1.15" stroke-dasharray="1.9 1.0" stroke-linejoin="round"/>
<text x="33.60" y="262.95" font-size="9.30" font-weight="bold" fill="#111" text-anchor="middle">1:1:1.5</text>
<path d="M50.0 283.1L50.5 283.1 51.0 283.2 51.5 283.1 52.0 282.9 52.5 282.6 53.0 282.4 53.5 282.5 54.0 282.7 54.5 282.9 55.0 282.8 55.5 282.7 56.0 282.8 56.5 283.1 57.0 283.3 57.5 283.4 58.0 283.2 58.5 283.1 59.0 283.0 59.5 283.0 60.0 283.0 60.5 283.0 61.0 282.9 61.5 282.9 62.0 282.9 62.5 283.0 63.0 283.0 63.5 282.9 64.0 282.8 64.5 282.8 65.0 282.9 65.5 282.8 66.0 282.8 66.5 282.9 67.0 282.9 67.5 282.7 68.0 282.3 68.5 282.1 69.0 282.0 69.5 282.2 70.0 282.4 70.5 282.6 71.0 282.6 71.5 282.7 72.0 282.8 72.5 282.9 73.0 282.9 73.5 282.9 74.0 282.8 74.5 282.7 75.0 282.6 75.5 282.7 76.0 282.8 76.5 282.8 77.0 282.6 77.5 282.4 78.0 282.3 78.5 282.3 79.0 282.6 79.5 282.8 80.0 282.9 80.5 282.9 81.0 282.7 81.5 282.5 82.0 282.3 82.5 282.1 83.0 282.0 83.5 282.0 84.0 282.1 84.5 282.1 85.0 282.0 85.5 281.8 86.0 281.7 86.5 281.3 87.0 280.9 87.4 280.5 87.5 280.5 88.0 280.3 88.5 280.3 89.0 280.1 89.5 279.9 90.0 279.6 90.5 279.6 91.0 279.7 91.5 279.9 92.0 279.8 92.5 279.7 93.0 279.5 93.5 279.5 94.0 279.3 94.5 279.0 95.0 278.8 95.5 278.8 96.0 278.8 96.5 278.8 97.0 278.8 97.5 278.8 98.0 278.7 98.2 278.7 98.5 278.7 99.0 278.7 99.5 278.5 100.0 278.2 100.5 277.8 101.0 277.3 101.5 276.5 101.8 275.9 102.0 275.3 102.5 273.5 102.8 272.1 103.0 270.5 103.5 266.3 104.0 271.9 104.4 278.8 104.5 280.2 105.0 286.9 105.3 290.8 105.5 293.8 106.0 301.1 106.2 302.0 106.5 299.6 107.0 292.7 107.5 289.4 107.8 288.5 108.0 288.3 108.5 287.7 109.0 287.3 109.5 287.0 110.0 286.8 110.5 286.6 111.0 286.2 111.5 285.6 112.0 284.4 112.5 283.2 113.0 282.3 113.5 282.0 114.0 282.4 114.5 283.1 115.0 283.8 115.5 284.2 116.0 284.2 116.5 283.8 117.0 283.0 117.5 281.9 118.0 280.9 118.5 279.9 119.0 279.1 119.5 278.2 120.0 277.2 120.5 276.3 121.0 275.3 121.5 274.2 122.0 273.1 122.5 271.8 123.0 270.1 123.5 265.7 124.0 261.0 124.2 260.5 124.5 263.6 125.0 276.0 125.2 280.9 125.5 289.0 126.0 303.2 126.3 306.6 126.5 305.7 127.0 298.8 127.4 294.3 127.5 293.8 128.0 291.7 128.5 290.3 129.0 289.2 129.2 288.8 129.5 288.3 130.0 287.6 130.5 286.9 131.0 286.3 131.5 285.6 132.0 284.7 132.5 283.8 133.0 282.8 133.5 282.1 134.0 281.7 134.5 281.7 135.0 282.0 135.5 282.4 136.0 282.9 136.5 283.3 137.0 283.6 137.5 283.6 138.0 283.5 138.5 283.3 138.9 283.1 139.0 283.1 139.5 283.0 140.0 282.8 140.5 282.7 141.0 282.4 141.5 282.1 142.0 281.7 142.1 281.6 142.5 281.2 143.0 280.5 143.5 279.2 143.7 278.3 144.0 276.2 144.5 272.5 144.7 272.1 145.0 274.4 145.5 282.4 145.6 284.0 146.0 290.2 146.5 295.2 147.0 293.7 147.5 290.2 148.0 287.9 148.5 286.7 148.6 286.5 149.0 286.2 149.5 285.8 150.0 285.5 150.5 285.2 151.0 285.1 151.5 285.0 151.9 284.9 152.0 284.8 152.5 284.6 153.0 284.5 153.5 284.4 154.0 284.3 154.5 284.2 155.0 284.1 155.5 284.0 156.0 283.9 156.5 283.8 157.0 283.7 157.5 283.6 158.0 283.6 158.5 283.4 159.0 283.4 159.5 283.4 160.0 283.4 160.5 283.3 161.0 283.2 161.5 283.2 162.0 283.3 162.5 283.2 163.0 282.8 163.5 282.5 164.0 282.5 164.5 282.7 165.0 282.7 165.5 282.6 166.0 282.5 166.5 282.5 167.0 282.5 167.5 282.6 168.0 282.7 168.5 282.6 169.0 282.4 169.5 282.2 170.0 282.4 170.5 282.6 171.0 282.6 171.5 282.5 172.0 282.5 172.5 282.5 173.0 282.5 173.5 282.7 174.0 283.1 174.5 283.5 175.0 283.7 175.5 283.6 176.0 283.5 176.5 283.6 177.0 283.6 177.5 283.6 178.0 283.5 178.5 283.6 179.0 283.6 179.5 283.6 180.0 283.4 180.5 283.4 181.0 283.6 181.5 283.8 182.0 284.2 182.5 284.2 183.0 284.1 183.5 283.9 184.0 284.0 184.5 284.0 185.0 284.1 185.5 284.2 186.0 284.3 186.5 284.7 187.0 284.8 187.5 284.9 188.0 284.8 188.5 284.7 189.0 284.6 189.5 284.4 190.0 284.4 190.5 284.4 191.0 284.7 191.5 284.8 192.0 284.8 192.5 284.8 193.0 284.8 193.5 285.0 194.0 285.1 194.5 285.1 195.0 285.1 195.5 285.1 196.0 285.1 196.5 285.0 197.0 284.8 197.5 284.7 198.0 284.5 198.5 284.2 199.0 284.0 199.5 283.9 200.0 283.9 200.5 283.9 200.8 283.9" fill="none" stroke="#a5a5a5" stroke-width="1.0" stroke-linejoin="round"/>
<path d="M50.0 283.0L50.5 283.0 51.0 283.0 51.5 282.9 52.0 282.9 52.5 282.9 53.0 282.9 53.5 282.8 54.0 282.8 54.5 282.7 55.0 282.7 55.5 282.8 56.0 282.9 56.5 283.0 57.0 283.0 57.5 282.9 58.0 282.9 58.5 282.8 59.0 282.8 59.5 282.8 60.0 282.9 60.5 282.9 61.0 282.9 61.5 282.9 62.0 282.9 62.5 282.9 63.0 282.9 63.5 282.9 64.0 282.9 64.5 282.9 65.0 282.8 65.5 282.9 66.0 282.9 66.5 282.9 67.0 282.8 67.5 282.7 68.0 282.7 68.5 282.7 69.0 282.7 69.5 282.7 70.0 282.8 70.5 282.8 71.0 282.7 71.5 282.7 72.0 282.7 72.5 282.7 73.0 282.7 73.5 282.6 74.0 282.5 74.5 282.6 75.0 282.7 75.5 282.7 76.0 282.7 76.5 282.7 77.0 282.7 77.5 282.7 78.0 282.7 78.5 282.6 79.0 282.5 79.5 282.5 80.0 282.4 80.5 282.4 81.0 282.3 81.5 282.3 82.0 282.2 82.5 282.1 83.0 281.9 83.5 281.9 84.0 281.9 84.5 281.9 85.0 281.8 85.5 281.7 86.0 281.7 86.5 281.5 87.0 281.4 87.4 281.3 87.5 281.3 88.0 281.4 88.5 281.3 89.0 281.2 89.5 281.1 90.0 281.1 90.5 281.0 91.0 281.0 91.5 280.9 92.0 280.9 92.5 280.9 93.0 281.0 93.5 281.0 94.0 281.1 94.5 281.1 95.0 281.1 95.5 281.2 96.0 281.3 96.5 281.4 97.0 281.3 97.5 281.2 98.0 281.1 98.2 281.0 98.5 280.9 99.0 280.5 99.5 280.1 100.0 279.6 100.5 278.9 101.0 278.2 101.5 277.2 101.8 276.6 102.0 276.0 102.5 274.1 102.8 272.5 103.0 270.8 103.5 266.5 104.0 272.1 104.4 278.9 104.5 280.3 105.0 287.0 105.3 290.9 105.5 293.9 106.0 301.3 106.2 302.2 106.5 299.8 107.0 292.9 107.5 289.6 107.8 288.5 108.0 288.3 108.5 287.7 109.0 287.4 109.5 287.2 110.0 287.1 110.5 287.3 111.0 287.5 111.5 287.6 112.0 287.3 112.5 286.6 113.0 285.9 113.5 285.3 114.0 284.8 114.5 284.4 115.0 284.0 115.5 283.5 116.0 283.1 116.5 282.5 117.0 281.9 117.5 281.2 118.0 280.5 118.5 279.7 119.0 279.0 119.5 278.2 120.0 277.3 120.5 276.4 121.0 275.4 121.5 274.3 122.0 273.2 122.5 271.9 123.0 270.1 123.5 265.7 124.0 261.1 124.2 260.5 124.5 263.5 125.0 276.0 125.2 280.9 125.5 289.1 126.0 303.3 126.3 306.7 126.5 305.8 127.0 298.9 127.4 294.4 127.5 293.9 128.0 291.9 128.5 290.4 129.0 289.3 129.2 288.9 129.5 288.4 130.0 287.7 130.5 287.1 131.0 286.7 131.5 286.2 132.0 285.9 132.5 285.5 133.0 285.2 133.5 284.9 134.0 284.7 134.5 284.5 135.0 284.4 135.5 284.3 136.0 284.1 136.5 284.0 137.0 283.8 137.5 283.6 138.0 283.5 138.5 283.3 138.9 283.1 139.0 283.1 139.5 282.9 140.0 282.7 140.5 282.6 141.0 282.3 141.5 282.0 142.0 281.6 142.1 281.5 142.5 281.1 143.0 280.5 143.5 279.7 143.7 279.3 144.0 278.0 144.5 275.4 144.7 275.1 145.0 276.7 145.5 282.5 145.6 283.4 146.0 287.6 146.5 290.9 147.0 289.6 147.5 287.9 148.0 287.1 148.5 286.6 148.6 286.5 149.0 286.2 149.5 285.9 150.0 285.6 150.5 285.4 151.0 285.2 151.5 285.0 151.9 284.9 152.0 284.8 152.5 284.7 153.0 284.6 153.5 284.5 154.0 284.4 154.5 284.3 155.0 284.3 155.5 284.2 156.0 284.2 156.5 284.2 157.0 284.1 157.5 284.1 158.0 284.1 158.5 284.1 159.0 284.1 159.5 284.0 160.0 284.0 160.5 283.8 161.0 283.8 161.5 283.8 162.0 283.9 162.5 283.9 163.0 283.8 163.5 283.8 164.0 283.8 164.5 283.8 165.0 283.7 165.5 283.7 166.0 283.7 166.5 283.8 167.0 283.8 167.5 283.7 168.0 283.6 168.5 283.6 169.0 283.6 169.5 283.6 170.0 283.6 170.5 283.5 171.0 283.5 171.5 283.6 172.0 283.6 172.5 283.6 173.0 283.6 173.5 283.6 174.0 283.6 174.5 283.5 175.0 283.5 175.5 283.5 176.0 283.5 176.5 283.5 177.0 283.5 177.5 283.5 178.0 283.5 178.5 283.6 179.0 283.6 179.5 283.6 180.0 283.6 180.5 283.5 181.0 283.5 181.5 283.4 182.0 283.5 182.5 283.6 183.0 283.6 183.5 283.6 184.0 283.5 184.5 283.4 185.0 283.4 185.5 283.3 186.0 283.4 186.5 283.4 187.0 283.4 187.5 283.4 188.0 283.5 188.5 283.5 189.0 283.5 189.5 283.5 190.0 283.5 190.5 283.5 191.0 283.5 191.5 283.5 192.0 283.5 192.5 283.5 193.0 283.5 193.5 283.6 194.0 283.6 194.5 283.6 195.0 283.6 195.5 283.5 196.0 283.5 196.5 283.5 197.0 283.5 197.5 283.5 198.0 283.5 198.5 283.5 199.0 283.5 199.5 283.5 200.0 283.5 200.5 283.4 200.8 283.5" fill="none" stroke="#262626" stroke-width="1.15" stroke-dasharray="1.9 1.0" stroke-linejoin="round"/>
<text x="33.60" y="286.18" font-size="9.30" font-weight="bold" fill="#111" text-anchor="middle">1:1:2</text>
<path d="M50.0 306.0L50.5 305.9 51.0 305.9 51.5 305.8 52.0 305.9 52.5 306.0 53.0 306.1 53.5 306.3 54.0 306.4 54.5 306.7 55.0 306.8 55.5 306.7 56.0 306.5 56.5 306.2 57.0 306.1 57.5 305.9 58.0 305.8 58.5 305.8 59.0 305.9 59.5 305.9 60.0 306.0 60.5 306.2 61.0 306.4 61.5 306.6 62.0 306.7 62.5 306.7 63.0 306.5 63.5 306.4 64.0 306.2 64.5 306.1 65.0 306.1 65.5 306.0 66.0 306.0 66.5 305.9 67.0 306.0 67.5 306.0 68.0 306.2 68.5 306.3 69.0 306.3 69.5 306.3 70.0 306.1 70.5 305.9 71.0 305.8 71.5 305.7 72.0 305.8 72.5 305.8 73.0 306.0 73.5 306.1 74.0 306.2 74.5 306.2 75.0 306.0 75.5 305.7 76.0 305.6 76.5 305.7 77.0 305.9 77.5 306.2 78.0 306.3 78.5 306.3 79.0 306.0 79.5 305.6 80.0 305.3 80.5 305.2 81.0 305.3 81.5 305.3 82.0 305.1 82.5 305.0 83.0 304.9 83.5 305.0 84.0 305.0 84.5 305.1 85.0 305.1 85.5 305.0 86.0 305.0 86.5 304.8 87.0 304.6 87.4 304.3 87.5 304.1 88.0 303.7 88.5 303.5 89.0 303.4 89.5 303.4 90.0 303.3 90.5 303.2 91.0 303.1 91.5 303.1 92.0 303.0 92.5 302.7 93.0 302.5 93.5 302.3 94.0 302.3 94.5 302.4 95.0 302.5 95.5 302.1 96.0 302.0 96.5 302.0 97.0 302.0 97.5 302.1 98.0 302.1 98.2 302.0 98.5 301.9 99.0 301.8 99.5 301.6 100.0 301.2 100.5 300.8 101.0 300.3 101.5 299.6 101.8 299.0 102.0 298.6 102.5 296.8 102.8 295.4 103.0 293.7 103.5 289.6 104.0 295.2 104.4 302.1 104.5 303.5 105.0 310.2 105.3 314.2 105.5 317.2 106.0 324.5 106.2 325.4 106.5 323.0 107.0 316.2 107.5 312.8 107.8 311.8 108.0 311.4 108.5 310.9 109.0 310.4 109.5 310.1 110.0 309.9 110.5 309.6 111.0 309.2 111.5 308.4 112.0 307.3 112.5 306.1 113.0 305.2 113.5 304.9 114.0 305.2 114.5 305.9 115.0 306.7 115.5 307.3 116.0 307.4 116.5 307.0 117.0 306.1 117.5 305.1 118.0 304.0 118.5 303.1 119.0 302.2 119.5 301.3 120.0 300.4 120.5 299.6 121.0 298.6 121.5 297.5 122.0 296.3 122.5 295.0 123.0 293.2 123.5 288.9 124.0 284.2 124.2 283.6 124.5 286.7 125.0 299.2 125.2 304.1 125.5 312.3 126.0 326.5 126.3 329.9 126.5 329.0 127.0 322.2 127.4 317.6 127.5 317.0 128.0 315.0 128.5 313.5 129.0 312.5 129.2 312.1 129.5 311.6 130.0 310.9 130.5 310.3 131.0 309.6 131.5 308.8 132.0 307.8 132.5 306.8 133.0 305.8 133.5 305.0 134.0 304.6 134.5 304.6 135.0 304.9 135.5 305.4 136.0 306.0 136.5 306.4 137.0 306.7 137.5 306.8 138.0 306.7 138.5 306.6 138.9 306.5 139.0 306.4 139.5 306.3 140.0 306.0 140.5 305.8 141.0 305.5 141.5 305.2 142.0 304.8 142.1 304.7 142.5 304.3 143.0 303.6 143.5 302.3 143.7 301.6 144.0 299.5 144.5 295.7 144.7 295.3 145.0 297.7 145.5 305.8 145.6 307.3 146.0 313.7 146.5 319.0 147.0 317.4 147.5 313.6 148.0 311.1 148.5 309.9 148.6 309.8 149.0 309.5 149.5 309.2 150.0 308.8 150.5 308.5 151.0 308.4 151.5 308.2 151.9 308.1 152.0 308.1 152.5 308.0 153.0 307.9 153.5 307.8 154.0 307.6 154.5 307.5 155.0 307.3 155.5 307.0 156.0 307.0 156.5 306.9 157.0 306.9 157.5 306.7 158.0 306.8 158.5 306.8 159.0 306.8 159.5 306.8 160.0 306.8 160.5 306.8 161.0 306.6 161.5 306.2 162.0 305.9 162.5 305.8 163.0 305.9 163.5 306.0 164.0 306.1 164.5 306.1 165.0 306.1 165.5 305.9 166.0 305.6 166.5 305.5 167.0 305.3 167.5 305.4 168.0 305.5 168.5 305.6 169.0 305.7 169.5 305.6 170.0 305.6 170.5 305.7 171.0 305.9 171.5 306.0 172.0 305.9 172.5 306.1 173.0 306.4 173.5 306.7 174.0 306.7 174.5 306.4 175.0 306.2 175.5 306.1 176.0 306.1 176.5 306.1 177.0 306.0 177.5 306.1 178.0 306.4 178.5 306.5 179.0 306.7 179.5 306.8 180.0 306.9 180.5 306.9 181.0 306.8 181.5 306.9 182.0 306.9 182.5 307.0 183.0 306.9 183.5 306.9 184.0 307.0 184.5 307.2 185.0 307.4 185.5 307.3 186.0 307.3 186.5 307.4 187.0 307.6 187.5 307.8 188.0 307.8 188.5 307.8 189.0 307.8 189.5 307.9 190.0 308.0 190.5 308.2 191.0 308.3 191.5 308.4 192.0 308.3 192.5 308.1 193.0 307.8 193.5 307.7 194.0 307.7 194.5 307.7 195.0 307.7 195.5 307.7 196.0 307.8 196.5 308.0 197.0 308.1 197.5 307.9 198.0 307.6 198.5 307.4 199.0 307.4 199.5 307.3 200.0 307.3 200.5 307.2 200.8 307.2" fill="none" stroke="#a5a5a5" stroke-width="1.0" stroke-linejoin="round"/>
<path d="M50.0 306.1L50.5 306.0 51.0 306.1 51.5 306.1 52.0 306.1 52.5 306.1 53.0 306.1 53.5 306.2 54.0 306.1 54.5 306.2 55.0 306.2 55.5 306.2 56.0 306.1 56.5 305.9 57.0 305.9 57.5 306.0 58.0 306.1 58.5 306.1 59.0 306.2 59.5 306.1 60.0 306.1 60.5 306.1 61.0 306.1 61.5 306.1 62.0 306.1 62.5 306.1 63.0 306.1 63.5 306.1 64.0 306.1 64.5 306.0 65.0 306.0 65.5 306.0 66.0 306.0 66.5 306.0 67.0 306.1 67.5 306.1 68.0 306.2 68.5 306.1 69.0 306.0 69.5 306.0 70.0 306.0 70.5 306.1 71.0 306.0 71.5 306.0 72.0 306.0 72.5 306.1 73.0 306.2 73.5 306.1 74.0 306.1 74.5 306.1 75.0 306.0 75.5 305.9 76.0 305.7 76.5 305.7 77.0 305.7 77.5 305.6 78.0 305.7 78.5 305.8 79.0 305.9 79.5 305.8 80.0 305.7 80.5 305.5 81.0 305.5 81.5 305.5 82.0 305.5 82.5 305.5 83.0 305.5 83.5 305.4 84.0 305.2 84.5 305.0 85.0 304.9 85.5 304.8 86.0 304.7 86.5 304.7 87.0 304.7 87.4 304.6 87.5 304.5 88.0 304.5 88.5 304.4 89.0 304.4 89.5 304.3 90.0 304.3 90.5 304.3 91.0 304.2 91.5 304.2 92.0 304.2 92.5 304.1 93.0 304.1 93.5 304.1 94.0 304.2 94.5 304.3 95.0 304.4 95.5 304.5 96.0 304.5 96.5 304.5 97.0 304.6 97.5 304.5 98.0 304.3 98.2 304.3 98.5 304.1 99.0 303.8 99.5 303.3 100.0 302.7 100.5 302.1 101.0 301.4 101.5 300.4 101.8 299.7 102.0 299.2 102.5 297.3 102.8 295.8 103.0 294.0 103.5 289.8 104.0 295.3 104.4 302.1 104.5 303.5 105.0 310.2 105.3 314.2 105.5 317.1 106.0 324.4 106.2 325.4 106.5 323.0 107.0 316.1 107.5 312.7 107.8 311.7 108.0 311.4 108.5 310.9 109.0 310.5 109.5 310.4 110.0 310.4 110.5 310.5 111.0 310.7 111.5 310.8 112.0 310.5 112.5 309.9 113.0 309.2 113.5 308.5 114.0 308.1 114.5 307.6 115.0 307.2 115.5 306.8 116.0 306.3 116.5 305.8 117.0 305.1 117.5 304.4 118.0 303.7 118.5 303.0 119.0 302.2 119.5 301.4 120.0 300.5 120.5 299.6 121.0 298.7 121.5 297.6 122.0 296.4 122.5 295.1 123.0 293.3 123.5 288.9 124.0 284.3 124.2 283.7 124.5 286.7 125.0 299.2 125.2 304.1 125.5 312.3 126.0 326.5 126.3 329.9 126.5 329.0 127.0 322.2 127.4 317.7 127.5 317.2 128.0 315.1 128.5 313.6 129.0 312.5 129.2 312.2 129.5 311.7 130.0 311.0 130.5 310.4 131.0 309.8 131.5 309.4 132.0 309.1 132.5 308.8 133.0 308.5 133.5 308.2 134.0 307.9 134.5 307.7 135.0 307.5 135.5 307.4 136.0 307.3 136.5 307.1 137.0 307.0 137.5 306.8 138.0 306.7 138.5 306.6 138.9 306.4 139.0 306.4 139.5 306.2 140.0 306.0 140.5 305.8 141.0 305.5 141.5 305.2 142.0 304.9 142.1 304.8 142.5 304.5 143.0 303.8 143.5 302.9 143.7 302.5 144.0 301.2 144.5 298.6 144.7 298.2 145.0 299.8 145.5 305.6 145.6 306.6 146.0 310.8 146.5 314.1 147.0 312.8 147.5 311.1 148.0 310.4 148.5 309.8 148.6 309.7 149.0 309.4 149.5 309.1 150.0 308.8 150.5 308.6 151.0 308.4 151.5 308.2 151.9 308.1 152.0 308.1 152.5 307.9 153.0 307.8 153.5 307.7 154.0 307.6 154.5 307.5 155.0 307.4 155.5 307.4 156.0 307.4 156.5 307.4 157.0 307.2 157.5 307.2 158.0 307.1 158.5 307.1 159.0 307.1 159.5 307.1 160.0 307.1 160.5 307.1 161.0 306.9 161.5 306.9 162.0 306.9 162.5 307.0 163.0 307.0 163.5 307.0 164.0 307.0 164.5 306.9 165.0 306.9 165.5 307.0 166.0 307.1 166.5 307.2 167.0 307.1 167.5 307.0 168.0 306.9 168.5 306.9 169.0 306.9 169.5 306.9 170.0 306.9 170.5 306.8 171.0 306.7 171.5 306.7 172.0 306.7 172.5 306.8 173.0 306.7 173.5 306.7 174.0 306.6 174.5 306.7 175.0 306.8 175.5 306.9 176.0 307.0 176.5 307.0 177.0 306.9 177.5 306.8 178.0 306.8 178.5 306.7 179.0 306.7 179.5 306.7 180.0 306.7 180.5 306.8 181.0 306.8 181.5 306.8 182.0 306.7 182.5 306.8 183.0 306.8 183.5 306.8 184.0 306.6 184.5 306.6 185.0 306.6 185.5 306.7 186.0 306.8 186.5 306.8 187.0 306.8 187.5 306.7 188.0 306.7 188.5 306.7 189.0 306.7 189.5 306.6 190.0 306.7 190.5 306.7 191.0 306.8 191.5 306.8 192.0 306.8 192.5 306.8 193.0 306.7 193.5 306.7 194.0 306.7 194.5 306.6 195.0 306.6 195.5 306.6 196.0 306.6 196.5 306.6 197.0 306.6 197.5 306.6 198.0 306.6 198.5 306.6 199.0 306.6 199.5 306.6 200.0 306.6 200.5 306.7 200.8 306.7" fill="none" stroke="#262626" stroke-width="1.15" stroke-dasharray="1.9 1.0" stroke-linejoin="round"/>
<text x="33.60" y="309.41" font-size="9.30" font-weight="bold" fill="#111" text-anchor="middle">1:1:2.5</text>
<path d="M50.0 329.1L50.5 329.0 51.0 329.0 51.5 329.1 52.0 329.2 52.5 329.2 53.0 329.2 53.5 329.1 54.0 329.3 54.5 329.4 55.0 329.6 55.5 329.6 56.0 329.7 56.5 329.9 57.0 329.9 57.5 329.7 58.0 329.4 58.5 329.4 59.0 329.6 59.5 329.7 60.0 329.7 60.5 329.7 61.0 329.8 61.5 329.8 62.0 329.6 62.5 329.2 63.0 329.0 63.5 329.0 64.0 329.2 64.5 329.3 65.0 329.3 65.5 329.2 66.0 329.2 66.5 329.2 67.0 329.3 67.5 329.2 68.0 329.1 68.5 329.1 69.0 329.2 69.5 329.1 70.0 328.9 70.5 328.7 71.0 328.6 71.5 328.8 72.0 329.0 72.5 329.2 73.0 329.3 73.5 329.2 74.0 329.1 74.5 329.0 75.0 329.0 75.5 329.1 76.0 329.1 76.5 329.1 77.0 329.0 77.5 329.0 78.0 329.0 78.5 329.1 79.0 329.2 79.5 329.1 80.0 329.0 80.5 328.8 81.0 328.8 81.5 328.8 82.0 328.9 82.5 328.9 83.0 328.8 83.5 328.5 84.0 328.2 84.5 328.0 85.0 328.1 85.5 328.1 86.0 327.9 86.5 327.7 87.0 327.6 87.4 327.6 87.5 327.5 88.0 327.0 88.5 326.8 89.0 326.6 89.5 326.5 90.0 326.3 90.5 326.1 91.0 326.0 91.5 326.2 92.0 326.3 92.5 326.2 93.0 326.1 93.5 326.0 94.0 325.9 94.5 325.7 95.0 325.4 95.5 325.2 96.0 325.2 96.5 325.2 97.0 325.3 97.5 325.3 98.0 325.3 98.2 325.3 98.5 325.2 99.0 325.0 99.5 324.8 100.0 324.6 100.5 324.2 101.0 323.7 101.5 323.0 101.8 322.5 102.0 321.9 102.5 320.1 102.8 318.6 103.0 316.9 103.5 312.8 104.0 318.4 104.4 325.3 104.5 326.6 105.0 333.3 105.3 337.2 105.5 340.3 106.0 347.6 106.2 348.6 106.5 346.2 107.0 339.3 107.5 335.9 107.8 334.9 108.0 334.6 108.5 334.1 109.0 333.7 109.5 333.5 110.0 333.2 110.5 332.8 111.0 332.3 111.5 331.4 112.0 330.2 112.5 328.9 113.0 328.0 113.5 327.7 114.0 328.1 114.5 329.0 115.0 329.9 115.5 330.5 116.0 330.5 116.5 330.2 117.0 329.3 117.5 328.3 118.0 327.3 118.5 326.4 119.0 325.6 119.5 324.8 120.0 323.9 120.5 322.9 121.0 321.9 121.5 320.8 122.0 319.7 122.5 318.4 123.0 316.6 123.5 312.3 124.0 307.5 124.2 306.9 124.5 309.9 125.0 322.4 125.2 327.3 125.5 335.5 126.0 349.7 126.3 353.1 126.5 352.2 127.0 345.4 127.4 340.9 127.5 340.4 128.0 338.2 128.5 336.7 129.0 335.5 129.2 335.2 129.5 334.7 130.0 334.1 130.5 333.5 131.0 332.8 131.5 332.0 132.0 331.0 132.5 329.8 133.0 328.7 133.5 327.7 134.0 327.2 134.5 327.2 135.0 327.7 135.5 328.4 136.0 329.1 136.5 329.5 137.0 329.8 137.5 329.9 138.0 329.9 138.5 329.8 138.9 329.7 139.0 329.7 139.5 329.5 140.0 329.3 140.5 329.1 141.0 328.8 141.5 328.4 142.0 328.0 142.1 327.9 142.5 327.6 143.0 326.9 143.5 325.7 143.7 324.9 144.0 322.8 144.5 319.1 144.7 318.8 145.0 321.1 145.5 329.2 145.6 330.8 146.0 337.5 146.5 343.0 147.0 341.5 147.5 337.5 148.0 334.7 148.5 333.3 148.6 333.1 149.0 332.7 149.5 332.3 150.0 332.0 150.5 331.8 151.0 331.6 151.5 331.4 151.9 331.3 152.0 331.3 152.5 331.2 153.0 331.1 153.5 330.9 154.0 330.8 154.5 330.7 155.0 330.8 155.5 330.8 156.0 330.6 156.5 330.4 157.0 330.1 157.5 330.0 158.0 329.9 158.5 329.8 159.0 329.8 159.5 329.8 160.0 329.8 160.5 329.6 161.0 329.5 161.5 329.4 162.0 329.4 162.5 329.4 163.0 329.2 163.5 329.0 164.0 328.7 164.5 328.9 165.0 329.1 165.5 329.4 166.0 329.4 166.5 329.1 167.0 328.9 167.5 328.8 168.0 328.7 168.5 328.8 169.0 328.9 169.5 328.9 170.0 328.9 170.5 328.9 171.0 328.9 171.5 329.0 172.0 329.1 172.5 329.2 173.0 329.2 173.5 329.2 174.0 329.2 174.5 329.2 175.0 329.3 175.5 329.5 176.0 329.6 176.5 329.5 177.0 329.5 177.5 329.5 178.0 329.7 178.5 329.8 179.0 329.7 179.5 329.7 180.0 329.7 180.5 329.8 181.0 329.9 181.5 329.9 182.0 329.9 182.5 329.8 183.0 329.8 183.5 329.9 184.0 330.0 184.5 330.4 185.0 330.6 185.5 330.9 186.0 330.9 186.5 331.0 187.0 331.0 187.5 331.1 188.0 331.0 188.5 331.0 189.0 330.9 189.5 331.1 190.0 331.4 190.5 331.8 191.0 331.8 191.5 331.7 192.0 331.4 192.5 331.2 193.0 331.2 193.5 331.3 194.0 331.3 194.5 331.2 195.0 331.0 195.5 330.8 196.0 330.6 196.5 330.6 197.0 330.6 197.5 330.6 198.0 330.7 198.5 330.7 199.0 330.7 199.5 330.7 200.0 330.6 200.5 330.5 200.8 330.5" fill="none" stroke="#a5a5a5" stroke-width="1.0" stroke-linejoin="round"/>
<path d="M50.0 329.6L50.5 329.5 51.0 329.5 51.5 329.4 52.0 329.4 52.5 329.3 53.0 329.3 53.5 329.3 54.0 329.4 54.5 329.5 55.0 329.5 55.5 329.4 56.0 329.4 56.5 329.5 57.0 329.6 57.5 329.5 58.0 329.3 58.5 329.2 59.0 329.1 59.5 329.2 60.0 329.3 60.5 329.5 61.0 329.5 61.5 329.6 62.0 329.5 62.5 329.4 63.0 329.4 63.5 329.4 64.0 329.4 64.5 329.3 65.0 329.3 65.5 329.3 66.0 329.3 66.5 329.4 67.0 329.4 67.5 329.3 68.0 329.3 68.5 329.2 69.0 329.1 69.5 329.1 70.0 329.2 70.5 329.3 71.0 329.2 71.5 329.2 72.0 329.1 72.5 329.1 73.0 329.2 73.5 329.2 74.0 329.2 74.5 329.1 75.0 329.1 75.5 329.0 76.0 329.1 76.5 329.1 77.0 329.2 77.5 329.1 78.0 329.1 78.5 329.0 79.0 328.9 79.5 328.9 80.0 329.0 80.5 329.0 81.0 329.1 81.5 329.0 82.0 328.9 82.5 328.7 83.0 328.5 83.5 328.3 84.0 328.3 84.5 328.2 85.0 328.1 85.5 328.1 86.0 328.0 86.5 327.9 87.0 327.8 87.4 327.8 87.5 328.0 88.0 327.9 88.5 327.8 89.0 327.6 89.5 327.5 90.0 327.4 90.5 327.4 91.0 327.3 91.5 327.3 92.0 327.3 92.5 327.4 93.0 327.4 93.5 327.5 94.0 327.5 94.5 327.5 95.0 327.5 95.5 327.7 96.0 327.7 96.5 327.8 97.0 327.8 97.5 327.7 98.0 327.6 98.2 327.5 98.5 327.3 99.0 327.0 99.5 326.5 100.0 326.0 100.5 325.4 101.0 324.6 101.5 323.7 101.8 323.0 102.0 322.5 102.5 320.5 102.8 319.0 103.0 317.2 103.5 313.0 104.0 318.5 104.4 325.3 104.5 326.7 105.0 333.4 105.3 337.4 105.5 340.4 106.0 347.7 106.2 348.7 106.5 346.2 107.0 339.4 107.5 336.0 107.8 335.0 108.0 334.7 108.5 334.2 109.0 333.8 109.5 333.7 110.0 333.6 110.5 333.8 111.0 334.0 111.5 334.0 112.0 333.6 112.5 333.0 113.0 332.3 113.5 331.7 114.0 331.2 114.5 330.9 115.0 330.5 115.5 330.1 116.0 329.6 116.5 329.0 117.0 328.4 117.5 327.7 118.0 327.0 118.5 326.2 119.0 325.5 119.5 324.6 120.0 323.8 120.5 322.8 121.0 321.9 121.5 320.8 122.0 319.6 122.5 318.3 123.0 316.5 123.5 312.2 124.0 307.5 124.2 307.0 124.5 310.0 125.0 322.5 125.2 327.4 125.5 335.5 126.0 349.8 126.3 353.2 126.5 352.2 127.0 345.4 127.4 340.9 127.5 340.4 128.0 338.4 128.5 336.9 129.0 335.7 129.2 335.4 129.5 334.8 130.0 334.2 130.5 333.6 131.0 333.2 131.5 332.7 132.0 332.3 132.5 331.9 133.0 331.6 133.5 331.3 134.0 331.1 134.5 330.9 135.0 330.7 135.5 330.6 136.0 330.5 136.5 330.4 137.0 330.2 137.5 330.0 138.0 329.9 138.5 329.8 138.9 329.7 139.0 329.7 139.5 329.5 140.0 329.2 140.5 329.0 141.0 328.8 141.5 328.5 142.0 328.2 142.1 328.1 142.5 327.8 143.0 327.1 143.5 326.3 143.7 325.8 144.0 324.6 144.5 321.9 144.7 321.6 145.0 323.1 145.5 328.9 145.6 329.8 146.0 334.0 146.5 337.3 147.0 336.0 147.5 334.3 148.0 333.6 148.5 333.0 148.6 332.9 149.0 332.7 149.5 332.4 150.0 332.1 150.5 331.8 151.0 331.7 151.5 331.5 151.9 331.3 152.0 331.3 152.5 331.2 153.0 331.1 153.5 331.0 154.0 330.9 154.5 330.8 155.0 330.7 155.5 330.6 156.0 330.5 156.5 330.6 157.0 330.7 157.5 330.8 158.0 330.7 158.5 330.6 159.0 330.5 159.5 330.5 160.0 330.4 160.5 330.3 161.0 330.3 161.5 330.3 162.0 330.3 162.5 330.2 163.0 330.1 163.5 330.1 164.0 330.0 164.5 330.0 165.0 330.1 165.5 330.1 166.0 330.2 166.5 330.2 167.0 330.1 167.5 330.0 168.0 329.9 168.5 330.0 169.0 330.0 169.5 330.1 170.0 330.2 170.5 330.3 171.0 330.2 171.5 330.2 172.0 330.2 172.5 330.1 173.0 330.1 173.5 330.0 174.0 330.1 174.5 330.0 175.0 330.0 175.5 330.0 176.0 330.0 176.5 330.1 177.0 330.1 177.5 330.1 178.0 330.0 178.5 330.0 179.0 330.0 179.5 330.0 180.0 330.0 180.5 330.0 181.0 330.0 181.5 329.9 182.0 329.9 182.5 329.9 183.0 329.9 183.5 329.9 184.0 329.9 184.5 329.9 185.0 329.9 185.5 329.9 186.0 330.0 186.5 330.1 187.0 330.1 187.5 330.1 188.0 330.1 188.5 330.1 189.0 330.0 189.5 330.0 190.0 329.9 190.5 329.8 191.0 329.8 191.5 329.9 192.0 330.0 192.5 330.0 193.0 329.9 193.5 329.8 194.0 329.8 194.5 329.8 195.0 329.8 195.5 329.8 196.0 329.8 196.5 329.9 197.0 329.9 197.5 330.0 198.0 330.0 198.5 330.0 199.0 330.1 199.5 330.1 200.0 330.0 200.5 329.9 200.8 329.9" fill="none" stroke="#262626" stroke-width="1.15" stroke-dasharray="1.9 1.0" stroke-linejoin="round"/>
<text x="33.60" y="332.64" font-size="9.30" font-weight="bold" fill="#111" text-anchor="middle">1:1:3</text>
<path d="M50.0 352.4L50.5 352.3 51.0 352.3 51.5 352.2 52.0 352.2 52.5 352.1 53.0 352.2 53.5 352.3 54.0 352.3 54.5 352.3 55.0 352.4 55.5 352.7 56.0 352.9 56.5 352.8 57.0 352.7 57.5 352.4 58.0 352.4 58.5 352.3 59.0 352.5 59.5 352.6 60.0 352.6 60.5 352.5 61.0 352.4 61.5 352.5 62.0 352.4 62.5 352.4 63.0 352.3 63.5 352.2 64.0 352.2 64.5 352.3 65.0 352.5 65.5 352.6 66.0 352.6 66.5 352.7 67.0 352.7 67.5 352.7 68.0 352.5 68.5 352.5 69.0 352.3 69.5 352.1 70.0 351.8 70.5 351.9 71.0 352.0 71.5 352.1 72.0 352.1 72.5 352.1 73.0 352.4 73.5 352.7 74.0 353.0 74.5 352.8 75.0 352.5 75.5 352.3 76.0 352.4 76.5 352.4 77.0 352.3 77.5 352.3 78.0 352.2 78.5 352.0 79.0 351.7 79.5 351.5 80.0 351.6 80.5 351.9 81.0 352.1 81.5 352.2 82.0 352.0 82.5 351.9 83.0 351.9 83.5 352.1 84.0 352.0 84.5 351.7 85.0 351.2 85.5 350.9 86.0 350.8 86.5 350.7 87.0 350.6 87.4 350.6 87.5 350.6 88.0 350.3 88.5 349.9 89.0 349.6 89.5 349.3 90.0 349.2 90.5 349.1 91.0 349.1 91.5 349.1 92.0 349.1 92.5 349.1 93.0 348.9 93.5 348.6 94.0 348.3 94.5 348.2 95.0 348.0 95.5 348.3 96.0 348.3 96.5 348.3 97.0 348.4 97.5 348.5 98.0 348.5 98.2 348.4 98.5 348.4 99.0 348.2 99.5 348.0 100.0 347.8 100.5 347.5 101.0 347.0 101.5 346.2 101.8 345.5 102.0 345.0 102.5 343.2 102.8 341.8 103.0 340.1 103.5 336.0 104.0 341.5 104.4 348.4 104.5 349.8 105.0 356.5 105.3 360.5 105.5 363.5 106.0 370.9 106.2 372.0 106.5 369.6 107.0 362.7 107.5 359.3 107.8 358.3 108.0 358.0 108.5 357.4 109.0 357.0 109.5 356.7 110.0 356.4 110.5 356.0 111.0 355.4 111.5 354.4 112.0 353.0 112.5 351.6 113.0 350.6 113.5 350.5 114.0 351.0 114.5 352.0 115.0 352.9 115.5 353.5 116.0 353.7 116.5 353.4 117.0 352.6 117.5 351.7 118.0 350.7 118.5 349.7 119.0 348.8 119.5 347.9 120.0 347.0 120.5 346.1 121.0 345.2 121.5 344.1 122.0 342.9 122.5 341.6 123.0 339.7 123.5 335.3 124.0 330.7 124.2 330.1 124.5 333.2 125.0 345.7 125.2 350.6 125.5 358.8 126.0 373.0 126.3 376.4 126.5 375.5 127.0 368.6 127.4 364.1 127.5 363.5 128.0 361.5 128.5 360.0 129.0 358.9 129.2 358.6 129.5 358.0 130.0 357.3 130.5 356.6 131.0 355.9 131.5 355.1 132.0 354.0 132.5 352.7 133.0 351.4 133.5 350.4 134.0 349.9 134.5 350.0 135.0 350.5 135.5 351.4 136.0 352.2 136.5 352.7 137.0 353.0 137.5 353.2 138.0 353.1 138.5 353.0 138.9 352.9 139.0 352.8 139.5 352.7 140.0 352.4 140.5 352.1 141.0 351.9 141.5 351.6 142.0 351.3 142.1 351.3 142.5 351.0 143.0 350.2 143.5 348.9 143.7 348.0 144.0 345.8 144.5 342.1 144.7 341.8 145.0 344.2 145.5 352.6 145.6 354.3 146.0 361.2 146.5 366.9 147.0 365.2 147.5 360.9 148.0 357.9 148.5 356.5 148.6 356.3 149.0 355.9 149.5 355.6 150.0 355.4 150.5 355.2 151.0 355.0 151.5 354.8 151.9 354.6 152.0 354.5 152.5 354.4 153.0 354.3 153.5 354.2 154.0 354.1 154.5 354.0 155.0 353.9 155.5 353.7 156.0 353.6 156.5 353.6 157.0 353.6 157.5 353.7 158.0 353.7 158.5 353.7 159.0 353.6 159.5 353.4 160.0 353.3 160.5 353.3 161.0 353.2 161.5 353.1 162.0 353.0 162.5 352.9 163.0 352.8 163.5 352.8 164.0 352.4 164.5 352.3 165.0 352.1 165.5 352.0 166.0 351.6 166.5 351.4 167.0 351.4 167.5 351.7 168.0 352.1 168.5 352.2 169.0 352.3 169.5 352.3 170.0 352.5 170.5 352.3 171.0 352.3 171.5 352.1 172.0 352.2 172.5 352.3 173.0 352.5 173.5 352.7 174.0 352.8 174.5 352.7 175.0 352.8 175.5 352.8 176.0 353.2 176.5 353.3 177.0 353.3 177.5 353.2 178.0 353.0 178.5 353.1 179.0 353.3 179.5 353.4 180.0 353.3 180.5 353.2 181.0 353.3 181.5 353.4 182.0 353.5 182.5 353.4 183.0 353.3 183.5 353.3 184.0 353.5 184.5 353.9 185.0 354.2 185.5 354.4 186.0 354.2 186.5 354.2 187.0 354.1 187.5 354.3 188.0 354.2 188.5 354.2 189.0 354.3 189.5 354.5 190.0 354.6 190.5 354.6 191.0 354.5 191.5 354.5 192.0 354.5 192.5 354.5 193.0 354.4 193.5 354.4 194.0 354.5 194.5 354.5 195.0 354.4 195.5 354.3 196.0 354.2 196.5 354.1 197.0 353.9 197.5 354.0 198.0 354.1 198.5 354.2 199.0 354.0 199.5 353.8 200.0 353.7 200.5 353.8 200.8 353.8" fill="none" stroke="#a5a5a5" stroke-width="1.0" stroke-linejoin="round"/>
<path d="M50.0 352.7L50.5 352.7 51.0 352.6 51.5 352.6 52.0 352.6 52.5 352.6 53.0 352.6 53.5 352.6 54.0 352.6 54.5 352.6 55.0 352.6 55.5 352.5 56.0 352.5 56.5 352.5 57.0 352.5 57.5 352.5 58.0 352.6 58.5 352.7 59.0 352.7 59.5 352.7 60.0 352.7 60.5 352.7 61.0 352.6 61.5 352.6 62.0 352.6 62.5 352.6 63.0 352.6 63.5 352.6 64.0 352.6 64.5 352.6 65.0 352.6 65.5 352.6 66.0 352.6 66.5 352.6 67.0 352.6 67.5 352.6 68.0 352.5 68.5 352.4 69.0 352.3 69.5 352.3 70.0 352.4 70.5 352.5 71.0 352.5 71.5 352.6 72.0 352.6 72.5 352.6 73.0 352.5 73.5 352.4 74.0 352.4 74.5 352.5 75.0 352.5 75.5 352.5 76.0 352.5 76.5 352.4 77.0 352.3 77.5 352.2 78.0 352.2 78.5 352.1 79.0 352.2 79.5 352.2 80.0 352.2 80.5 352.1 81.0 352.0 81.5 351.8 82.0 351.7 82.5 351.7 83.0 351.7 83.5 351.6 84.0 351.5 84.5 351.5 85.0 351.5 85.5 351.5 86.0 351.5 86.5 351.3 87.0 351.1 87.4 351.0 87.5 351.0 88.0 350.9 88.5 350.8 89.0 350.8 89.5 350.7 90.0 350.7 90.5 350.7 91.0 350.6 91.5 350.6 92.0 350.6 92.5 350.5 93.0 350.6 93.5 350.6 94.0 350.7 94.5 350.8 95.0 350.9 95.5 350.9 96.0 350.9 96.5 351.0 97.0 351.0 97.5 350.9 98.0 350.7 98.2 350.6 98.5 350.5 99.0 350.2 99.5 349.7 100.0 349.2 100.5 348.6 101.0 347.8 101.5 346.9 101.8 346.2 102.0 345.7 102.5 343.7 102.8 342.2 103.0 340.5 103.5 336.2 104.0 341.7 104.4 348.6 104.5 349.9 105.0 356.6 105.3 360.6 105.5 363.6 106.0 370.9 106.2 371.9 106.5 369.5 107.0 362.6 107.5 359.3 107.8 358.2 108.0 357.9 108.5 357.4 109.0 357.0 109.5 356.9 110.0 356.8 110.5 357.0 111.0 357.2 111.5 357.2 112.0 356.9 112.5 356.3 113.0 355.6 113.5 355.0 114.0 354.5 114.5 354.1 115.0 353.7 115.5 353.3 116.0 352.9 116.5 352.3 117.0 351.6 117.5 350.9 118.0 350.2 118.5 349.5 119.0 348.7 119.5 347.9 120.0 347.0 120.5 346.0 121.0 345.0 121.5 343.9 122.0 342.8 122.5 341.5 123.0 339.8 123.5 335.5 124.0 330.8 124.2 330.2 124.5 333.2 125.0 345.7 125.2 350.6 125.5 358.7 126.0 372.9 126.3 376.3 126.5 375.4 127.0 368.5 127.4 364.0 127.5 363.6 128.0 361.5 128.5 360.0 129.0 358.9 129.2 358.6 129.5 358.0 130.0 357.4 130.5 356.8 131.0 356.4 131.5 355.9 132.0 355.6 132.5 355.2 133.0 354.9 133.5 354.6 134.0 354.4 134.5 354.2 135.0 354.0 135.5 353.9 136.0 353.7 136.5 353.6 137.0 353.5 137.5 353.3 138.0 353.2 138.5 353.0 138.9 352.9 139.0 352.8 139.5 352.6 140.0 352.4 140.5 352.2 141.0 352.0 141.5 351.8 142.0 351.4 142.1 351.3 142.5 350.9 143.0 350.2 143.5 349.3 143.7 348.9 144.0 347.7 144.5 345.1 144.7 344.7 145.0 346.3 145.5 352.1 145.6 353.0 146.0 357.2 146.5 360.5 147.0 359.3 147.5 357.6 148.0 356.8 148.5 356.2 148.6 356.1 149.0 355.9 149.5 355.5 150.0 355.3 150.5 355.0 151.0 354.8 151.5 354.6 151.9 354.5 152.0 354.5 152.5 354.4 153.0 354.3 153.5 354.1 154.0 354.0 154.5 353.9 155.0 353.8 155.5 353.7 156.0 353.7 156.5 353.7 157.0 353.7 157.5 353.8 158.0 353.8 158.5 353.7 159.0 353.6 159.5 353.5 160.0 353.4 160.5 353.4 161.0 353.4 161.5 353.3 162.0 353.3 162.5 353.3 163.0 353.3 163.5 353.3 164.0 353.3 164.5 353.3 165.0 353.3 165.5 353.4 166.0 353.5 166.5 353.5 167.0 353.5 167.5 353.4 168.0 353.3 168.5 353.3 169.0 353.2 169.5 353.2 170.0 353.2 170.5 353.2 171.0 353.3 171.5 353.4 172.0 353.5 172.5 353.4 173.0 353.4 173.5 353.4 174.0 353.3 174.5 353.2 175.0 353.1 175.5 353.1 176.0 353.1 176.5 353.1 177.0 353.2 177.5 353.3 178.0 353.3 178.5 353.2 179.0 353.1 179.5 353.2 180.0 353.3 180.5 353.4 181.0 353.2 181.5 353.1 182.0 353.0 182.5 353.1 183.0 353.2 183.5 353.3 184.0 353.4 184.5 353.4 185.0 353.4 185.5 353.3 186.0 353.2 186.5 353.2 187.0 353.1 187.5 353.2 188.0 353.2 188.5 353.2 189.0 353.2 189.5 353.2 190.0 353.2 190.5 353.3 191.0 353.2 191.5 353.1 192.0 353.1 192.5 353.1 193.0 353.2 193.5 353.2 194.0 353.2 194.5 353.2 195.0 353.3 195.5 353.2 196.0 353.1 196.5 353.1 197.0 353.1 197.5 353.1 198.0 353.2 198.5 353.2 199.0 353.1 199.5 353.0 200.0 353.0 200.5 353.1 200.8 353.2" fill="none" stroke="#262626" stroke-width="1.15" stroke-dasharray="1.9 1.0" stroke-linejoin="round"/>
<text x="33.60" y="355.87" font-size="9.30" font-weight="bold" fill="#111" text-anchor="middle">1:1:4</text>
<path d="M50.0 375.6L50.5 375.7 51.0 375.9 51.5 376.0 52.0 376.0 52.5 376.0 53.0 376.0 53.5 376.1 54.0 375.9 54.5 375.9 55.0 375.7 55.5 375.7 56.0 375.7 56.5 375.8 57.0 375.7 57.5 375.7 58.0 375.8 58.5 376.0 59.0 375.9 59.5 375.6 60.0 375.3 60.5 375.2 61.0 375.2 61.5 375.4 62.0 375.6 62.5 375.8 63.0 375.7 63.5 375.7 64.0 375.6 64.5 375.7 65.0 375.8 65.5 376.0 66.0 376.0 66.5 376.0 67.0 375.8 67.5 375.8 68.0 375.6 68.5 375.7 69.0 375.7 69.5 375.7 70.0 375.6 70.5 375.4 71.0 375.5 71.5 375.7 72.0 375.7 72.5 375.7 73.0 375.7 73.5 375.9 74.0 376.0 74.5 376.0 75.0 375.7 75.5 375.6 76.0 375.7 76.5 375.9 77.0 375.9 77.5 375.9 78.0 375.7 78.5 375.8 79.0 375.6 79.5 375.3 80.0 375.0 80.5 375.0 81.0 375.1 81.5 375.1 82.0 375.0 82.5 374.9 83.0 374.8 83.5 374.9 84.0 375.1 84.5 375.2 85.0 375.2 85.5 374.9 86.0 374.5 86.5 373.9 87.0 373.6 87.4 373.5 87.5 373.6 88.0 373.4 88.5 373.0 89.0 372.8 89.5 372.6 90.0 372.6 90.5 372.7 91.0 372.7 91.5 372.8 92.0 372.6 92.5 372.6 93.0 372.4 93.5 372.3 94.0 372.0 94.5 371.8 95.0 371.5 95.5 371.6 96.0 371.6 96.5 371.6 97.0 371.7 97.5 371.7 98.0 371.7 98.2 371.7 98.5 371.6 99.0 371.5 99.5 371.3 100.0 371.0 100.5 370.6 101.0 370.2 101.5 369.5 101.8 368.9 102.0 368.4 102.5 366.5 102.8 365.0 103.0 363.3 103.5 359.1 104.0 364.8 104.4 371.8 104.5 373.1 105.0 379.8 105.3 383.7 105.5 386.7 106.0 394.0 106.2 395.0 106.5 392.6 107.0 385.8 107.5 382.4 107.8 381.3 108.0 381.0 108.5 380.5 109.0 380.1 109.5 379.9 110.0 379.6 110.5 379.1 111.0 378.5 111.5 377.4 112.0 375.8 112.5 374.3 113.0 373.2 113.5 373.1 114.0 373.7 114.5 374.8 115.0 375.9 115.5 376.7 116.0 376.9 116.5 376.5 117.0 375.7 117.5 374.7 118.0 373.8 118.5 372.9 119.0 372.0 119.5 371.1 120.0 370.2 120.5 369.2 121.0 368.2 121.5 367.2 122.0 366.1 122.5 364.9 123.0 363.1 123.5 358.7 124.0 354.0 124.2 353.4 124.5 356.5 125.0 368.9 125.2 373.9 125.5 382.0 126.0 396.3 126.3 399.6 126.5 398.7 127.0 391.8 127.4 387.3 127.5 386.9 128.0 384.8 128.5 383.3 129.0 382.1 129.2 381.7 129.5 381.3 130.0 380.6 130.5 379.9 131.0 379.1 131.5 378.2 132.0 377.0 132.5 375.7 133.0 374.4 133.5 373.4 134.0 372.8 134.5 372.9 135.0 373.5 135.5 374.3 136.0 375.2 136.5 375.8 137.0 376.2 137.5 376.3 138.0 376.3 138.5 376.2 138.9 376.0 139.0 376.0 139.5 375.8 140.0 375.8 140.5 375.6 141.0 375.3 141.5 375.0 142.0 374.5 142.1 374.4 142.5 374.0 143.0 373.3 143.5 372.0 143.7 371.2 144.0 369.1 144.5 365.5 144.7 365.2 145.0 367.6 145.5 376.1 145.6 377.8 146.0 384.9 146.5 390.9 147.0 389.1 147.5 384.5 148.0 381.2 148.5 379.6 148.6 379.4 149.0 379.0 149.5 378.7 150.0 378.5 150.5 378.3 151.0 378.1 151.5 377.9 151.9 377.8 152.0 377.8 152.5 377.7 153.0 377.5 153.5 377.4 154.0 377.2 154.5 377.1 155.0 377.0 155.5 376.9 156.0 376.8 156.5 376.8 157.0 376.6 157.5 376.8 158.0 376.9 158.5 376.8 159.0 376.5 159.5 376.2 160.0 376.1 160.5 376.2 161.0 376.1 161.5 376.0 162.0 375.9 162.5 375.7 163.0 375.5 163.5 375.5 164.0 375.6 164.5 375.6 165.0 375.4 165.5 375.3 166.0 375.4 166.5 375.6 167.0 375.7 167.5 375.4 168.0 375.1 168.5 374.9 169.0 374.9 169.5 374.9 170.0 375.0 170.5 375.2 171.0 375.4 171.5 375.5 172.0 375.7 172.5 375.9 173.0 375.9 173.5 375.9 174.0 376.0 174.5 376.1 175.0 376.4 175.5 376.3 176.0 376.3 176.5 376.1 177.0 376.1 177.5 376.2 178.0 376.3 178.5 376.5 179.0 376.6 179.5 376.7 180.0 376.8 180.5 376.9 181.0 376.8 181.5 376.8 182.0 376.8 182.5 376.8 183.0 376.9 183.5 377.0 184.0 377.0 184.5 377.1 185.0 377.1 185.5 377.1 186.0 377.2 186.5 377.3 187.0 377.4 187.5 377.4 188.0 377.5 188.5 377.4 189.0 377.3 189.5 377.5 190.0 377.8 190.5 378.0 191.0 378.1 191.5 378.1 192.0 378.0 192.5 377.9 193.0 377.8 193.5 377.8 194.0 377.9 194.5 377.9 195.0 377.7 195.5 377.6 196.0 377.7 196.5 377.6 197.0 377.3 197.5 377.0 198.0 377.0 198.5 377.1 199.0 377.1 199.5 377.0 200.0 376.8 200.5 376.6 200.8 376.5" fill="none" stroke="#a5a5a5" stroke-width="1.0" stroke-linejoin="round"/>
<path d="M50.0 375.8L50.5 375.9 51.0 375.9 51.5 375.8 52.0 375.8 52.5 375.8 53.0 375.9 53.5 376.0 54.0 375.9 54.5 375.8 55.0 375.8 55.5 375.8 56.0 375.8 56.5 375.8 57.0 375.7 57.5 375.7 58.0 375.7 58.5 375.7 59.0 375.7 59.5 375.7 60.0 375.7 60.5 375.7 61.0 375.8 61.5 375.9 62.0 375.9 62.5 375.9 63.0 375.9 63.5 376.0 64.0 376.0 64.5 375.9 65.0 375.8 65.5 375.7 66.0 375.7 66.5 375.7 67.0 375.7 67.5 375.8 68.0 375.8 68.5 375.8 69.0 375.8 69.5 375.8 70.0 375.8 70.5 375.8 71.0 375.7 71.5 375.7 72.0 375.7 72.5 375.7 73.0 375.6 73.5 375.6 74.0 375.6 74.5 375.6 75.0 375.6 75.5 375.6 76.0 375.6 76.5 375.6 77.0 375.7 77.5 375.7 78.0 375.7 78.5 375.6 79.0 375.5 79.5 375.4 80.0 375.3 80.5 375.3 81.0 375.3 81.5 375.3 82.0 375.1 82.5 375.0 83.0 374.8 83.5 374.8 84.0 374.8 84.5 374.7 85.0 374.6 85.5 374.5 86.0 374.4 86.5 374.3 87.0 374.3 87.4 374.2 87.5 374.2 88.0 374.2 88.5 374.2 89.0 374.2 89.5 374.1 90.0 374.0 90.5 373.9 91.0 374.0 91.5 373.9 92.0 374.0 92.5 373.9 93.0 374.0 93.5 374.0 94.0 374.0 94.5 374.0 95.0 374.1 95.5 374.2 96.0 374.3 96.5 374.3 97.0 374.3 97.5 374.2 98.0 374.0 98.2 373.9 98.5 373.8 99.0 373.4 99.5 373.0 100.0 372.5 100.5 371.9 101.0 371.2 101.5 370.2 101.8 369.5 102.0 368.9 102.5 366.9 102.8 365.4 103.0 363.7 103.5 359.5 104.0 365.0 104.4 371.8 104.5 373.2 105.0 379.9 105.3 383.8 105.5 386.8 106.0 394.1 106.2 395.1 106.5 392.7 107.0 385.8 107.5 382.4 107.8 381.3 108.0 381.1 108.5 380.6 109.0 380.3 109.5 380.1 110.0 380.1 110.5 380.2 111.0 380.4 111.5 380.5 112.0 380.2 112.5 379.6 113.0 378.9 113.5 378.2 114.0 377.8 114.5 377.3 115.0 376.9 115.5 376.5 116.0 375.9 116.5 375.4 117.0 374.7 117.5 374.0 118.0 373.3 118.5 372.6 119.0 371.9 119.5 371.1 120.0 370.3 120.5 369.3 121.0 368.3 121.5 367.2 122.0 366.1 122.5 364.8 123.0 363.0 123.5 358.7 124.0 354.0 124.2 353.4 124.5 356.4 125.0 368.8 125.2 373.8 125.5 382.0 126.0 396.2 126.3 399.6 126.5 398.7 127.0 391.8 127.4 387.3 127.5 386.8 128.0 384.8 128.5 383.3 129.0 382.2 129.2 381.9 129.5 381.3 130.0 380.7 130.5 380.1 131.0 379.6 131.5 379.1 132.0 378.8 132.5 378.4 133.0 378.1 133.5 377.8 134.0 377.6 134.5 377.4 135.0 377.2 135.5 377.1 136.0 376.9 136.5 376.8 137.0 376.7 137.5 376.6 138.0 376.4 138.5 376.3 138.9 376.2 139.0 376.1 139.5 375.9 140.0 375.7 140.5 375.5 141.0 375.2 141.5 374.9 142.0 374.6 142.1 374.5 142.5 374.1 143.0 373.5 143.5 372.6 143.7 372.2 144.0 371.0 144.5 368.4 144.7 368.0 145.0 369.5 145.5 375.3 145.6 376.2 146.0 380.5 146.5 383.8 147.0 382.5 147.5 380.8 148.0 380.0 148.5 379.5 148.6 379.4 149.0 379.1 149.5 378.8 150.0 378.6 150.5 378.3 151.0 378.1 151.5 377.9 151.9 377.8 152.0 377.8 152.5 377.6 153.0 377.4 153.5 377.3 154.0 377.2 154.5 377.2 155.0 377.1 155.5 377.1 156.0 377.1 156.5 377.1 157.0 377.1 157.5 377.2 158.0 377.1 158.5 376.9 159.0 376.7 159.5 376.7 160.0 376.6 160.5 376.6 161.0 376.6 161.5 376.6 162.0 376.6 162.5 376.6 163.0 376.6 163.5 376.6 164.0 376.7 164.5 376.7 165.0 376.7 165.5 376.6 166.0 376.5 166.5 376.5 167.0 376.4 167.5 376.4 168.0 376.3 168.5 376.3 169.0 376.3 169.5 376.4 170.0 376.4 170.5 376.5 171.0 376.6 171.5 376.6 172.0 376.5 172.5 376.5 173.0 376.6 173.5 376.6 174.0 376.6 174.5 376.6 175.0 376.6 175.5 376.6 176.0 376.5 176.5 376.5 177.0 376.4 177.5 376.4 178.0 376.5 178.5 376.5 179.0 376.5 179.5 376.5 180.0 376.5 180.5 376.6 181.0 376.6 181.5 376.4 182.0 376.4 182.5 376.4 183.0 376.4 183.5 376.5 184.0 376.5 184.5 376.4 185.0 376.4 185.5 376.4 186.0 376.5 186.5 376.5 187.0 376.6 187.5 376.5 188.0 376.4 188.5 376.4 189.0 376.5 189.5 376.5 190.0 376.6 190.5 376.6 191.0 376.5 191.5 376.4 192.0 376.3 192.5 376.3 193.0 376.5 193.5 376.5 194.0 376.5 194.5 376.5 195.0 376.5 195.5 376.6 196.0 376.5 196.5 376.5 197.0 376.4 197.5 376.3 198.0 376.2 198.5 376.2 199.0 376.2 199.5 376.3 200.0 376.3 200.5 376.3 200.8 376.3" fill="none" stroke="#262626" stroke-width="1.15" stroke-dasharray="1.9 1.0" stroke-linejoin="round"/>
<text x="33.60" y="379.10" font-size="9.30" font-weight="bold" fill="#111" text-anchor="middle">1:1:5</text>
<path d="M113.50 380.4 L111.20 384.6 L115.80 384.6 Z" fill="#c0141c"/>
<line x1="113.50" y1="384" x2="113.50" y2="389" stroke="#c0141c" stroke-width="0.9"/>
<path d="M133.60 380.4 L131.30 384.6 L135.90 384.6 Z" fill="#c0141c"/>
<line x1="133.60" y1="384" x2="133.60" y2="389" stroke="#c0141c" stroke-width="0.9"/>
<line x1="49.80" y1="404" x2="201.00" y2="404" stroke="#222" stroke-width="1"/>
<line x1="49.80" y1="404" x2="49.80" y2="406.20" stroke="#222" stroke-width="0.7"/>
<line x1="56.10" y1="404" x2="56.10" y2="405.50" stroke="#222" stroke-width="0.7"/>
<line x1="62.40" y1="404" x2="62.40" y2="405.50" stroke="#222" stroke-width="0.7"/>
<line x1="68.70" y1="404" x2="68.70" y2="405.50" stroke="#222" stroke-width="0.7"/>
<line x1="75.00" y1="404" x2="75.00" y2="406.20" stroke="#222" stroke-width="0.7"/>
<line x1="81.30" y1="404" x2="81.30" y2="405.50" stroke="#222" stroke-width="0.7"/>
<line x1="87.60" y1="404" x2="87.60" y2="405.50" stroke="#222" stroke-width="0.7"/>
<line x1="93.90" y1="404" x2="93.90" y2="405.50" stroke="#222" stroke-width="0.7"/>
<line x1="100.20" y1="404" x2="100.20" y2="406.20" stroke="#222" stroke-width="0.7"/>
<line x1="106.50" y1="404" x2="106.50" y2="405.50" stroke="#222" stroke-width="0.7"/>
<line x1="112.80" y1="404" x2="112.80" y2="405.50" stroke="#222" stroke-width="0.7"/>
<line x1="119.10" y1="404" x2="119.10" y2="405.50" stroke="#222" stroke-width="0.7"/>
<line x1="125.40" y1="404" x2="125.40" y2="406.20" stroke="#222" stroke-width="0.7"/>
<line x1="131.70" y1="404" x2="131.70" y2="405.50" stroke="#222" stroke-width="0.7"/>
<line x1="138.00" y1="404" x2="138.00" y2="405.50" stroke="#222" stroke-width="0.7"/>
<line x1="144.30" y1="404" x2="144.30" y2="405.50" stroke="#222" stroke-width="0.7"/>
<line x1="150.60" y1="404" x2="150.60" y2="406.20" stroke="#222" stroke-width="0.7"/>
<line x1="156.90" y1="404" x2="156.90" y2="405.50" stroke="#222" stroke-width="0.7"/>
<line x1="163.20" y1="404" x2="163.20" y2="405.50" stroke="#222" stroke-width="0.7"/>
<line x1="169.50" y1="404" x2="169.50" y2="405.50" stroke="#222" stroke-width="0.7"/>
<line x1="175.80" y1="404" x2="175.80" y2="406.20" stroke="#222" stroke-width="0.7"/>
<line x1="182.10" y1="404" x2="182.10" y2="405.50" stroke="#222" stroke-width="0.7"/>
<line x1="188.40" y1="404" x2="188.40" y2="405.50" stroke="#222" stroke-width="0.7"/>
<line x1="194.70" y1="404" x2="194.70" y2="405.50" stroke="#222" stroke-width="0.7"/>
<line x1="201.00" y1="404" x2="201.00" y2="406.20" stroke="#222" stroke-width="0.7"/>
<text x="49.80" y="413.60" font-size="6.60" font-weight="bold" fill="#111" text-anchor="middle">3460</text>
<text x="75.00" y="413.60" font-size="6.60" font-weight="bold" fill="#111" text-anchor="middle">3480</text>
<text x="100.20" y="413.60" font-size="6.60" font-weight="bold" fill="#111" text-anchor="middle">3500</text>
<text x="125.40" y="413.60" font-size="6.60" font-weight="bold" fill="#111" text-anchor="middle">3520</text>
<text x="150.60" y="413.60" font-size="6.60" font-weight="bold" fill="#111" text-anchor="middle">3540</text>
<text x="175.80" y="413.60" font-size="6.60" font-weight="bold" fill="#111" text-anchor="middle">3560</text>
<text x="201.00" y="413.60" font-size="6.60" font-weight="bold" fill="#111" text-anchor="middle">3580</text>
<text x="125.80" y="422.40" font-size="6.60" font-weight="bold" fill="#111" text-anchor="middle">Magnetic Field (G)</text>
<text x="0.00" y="0.00" font-size="9.60" font-weight="bold" fill="#111" text-anchor="middle" transform="translate(8.6 268.3) rotate(-90)">CueR:DNA:Cu(I)</text>
<path d="M244.2 68.5L244.7 68.3 245.2 68.2 245.7 68.3 246.2 68.8 246.7 69.0 247.2 69.0 247.7 68.9 248.2 68.9 248.7 68.8 249.2 68.8 249.7 68.7 250.0 68.7 250.2 68.6 250.7 68.8 251.2 68.9 251.7 69.0 252.2 68.9 252.7 68.9 253.2 69.0 253.7 69.2 254.2 69.3 254.7 69.3 255.0 69.3 255.2 69.3 255.7 69.5 256.2 69.4 256.7 68.9 257.2 68.7 257.7 68.8 258.2 69.3 258.7 69.6 259.2 69.8 259.7 69.8 260.0 69.7 260.2 69.6 260.7 69.4 261.2 69.3 261.7 69.1 262.2 69.2 262.7 69.3 263.2 69.4 263.7 69.0 264.2 68.8 264.7 68.8 265.0 69.1 265.2 69.1 265.7 69.1 266.2 69.0 266.7 69.0 267.2 69.0 267.7 68.9 268.2 69.0 268.7 69.1 269.2 69.4 269.7 69.5 270.0 69.5 270.2 69.2 270.7 68.8 271.2 68.6 271.7 68.6 272.2 68.6 272.7 68.6 273.2 68.5 273.7 68.3 274.2 67.9 274.7 67.6 275.0 67.7 275.2 68.2 275.7 68.4 276.2 68.5 276.7 68.1 277.2 67.9 277.7 67.7 278.2 67.4 278.7 67.3 279.2 67.3 279.7 67.5 280.0 67.5 280.2 67.3 280.7 67.0 281.2 66.9 281.7 66.8 282.2 66.6 282.7 66.3 283.2 66.1 283.7 66.0 284.2 66.1 284.7 66.1 285.0 66.0 285.2 65.9 285.7 65.5 286.2 65.3 286.7 65.0 287.2 64.8 287.7 64.6 288.2 64.4 288.7 64.1 289.2 63.8 289.7 63.5 290.0 63.5 290.2 63.7 290.7 63.9 291.2 64.2 291.7 64.2 292.2 64.1 292.7 63.8 293.2 63.4 293.7 63.2 294.0 62.9 294.2 62.8 294.7 62.2 295.2 61.9 295.7 61.5 296.2 61.3 296.7 60.8 297.0 60.5 297.2 60.2 297.7 59.0 298.2 57.7 298.5 57.2 298.7 57.0 299.2 56.7 299.7 56.4 300.2 56.2 300.7 55.9 301.2 55.3 301.3 55.1 301.7 52.9 302.2 46.8 302.3 45.4 302.7 35.3 302.9 30.2 303.2 23.9 303.7 16.2 303.8 15.9 304.2 21.3 304.7 36.7 304.8 40.0 305.2 58.6 305.6 80.0 305.7 85.1 306.2 111.4 306.4 115.2 306.7 110.0 307.2 95.0 307.7 87.0 308.0 84.4 308.2 83.6 308.7 82.2 309.2 81.2 309.7 80.4 310.2 79.6 310.7 78.9 311.2 78.4 311.7 77.8 312.2 77.3 312.7 76.6 312.9 76.3 313.2 75.8 313.7 74.9 314.2 74.0 314.7 73.0 315.2 71.9 315.7 70.9 316.2 69.8 316.7 68.7 317.2 67.5 317.7 66.3 318.2 65.0 318.7 63.6 319.2 62.2 319.4 61.6 319.7 60.7 320.2 59.0 320.7 57.2 321.2 55.4 321.5 54.4 321.7 53.7 322.2 52.3 322.7 51.0 323.2 49.5 323.7 47.8 324.2 45.5 324.5 43.8 324.7 42.0 325.2 34.8 325.7 27.5 326.0 22.7 326.2 18.6 326.7 6.8 327.0 3.8 327.2 6.1 327.7 25.4 328.0 40.0 328.2 50.9 328.7 83.9 328.8 90.0 329.2 118.0 329.5 129.0 329.7 128.0 330.2 120.3 330.5 115.0 330.7 111.5 331.2 103.0 331.7 97.9 332.2 93.9 332.6 91.3 332.7 90.8 333.2 88.1 333.7 85.7 334.2 83.7 334.3 83.3 334.7 81.9 335.2 80.2 335.7 78.7 336.2 77.3 336.6 76.3 336.7 76.1 337.2 74.9 337.7 73.8 338.2 72.8 338.7 72.1 339.0 71.8 339.2 71.6 339.7 71.4 340.2 71.1 340.7 70.9 341.2 70.8 341.7 70.6 342.2 70.5 342.4 70.4 342.7 70.2 343.2 69.9 343.7 69.6 344.2 69.2 344.7 68.8 345.2 68.4 345.7 67.9 346.2 67.3 346.5 66.9 346.7 66.7 347.2 65.8 347.7 64.3 347.9 63.5 348.2 61.3 348.7 55.0 349.1 49.8 349.2 48.6 349.7 41.1 350.2 37.0 350.7 44.9 351.2 60.0 351.7 79.4 352.0 90.0 352.2 95.5 352.7 105.8 352.8 106.2 353.2 98.6 353.6 88.0 353.7 86.4 354.2 79.7 354.5 77.9 354.7 77.5 355.2 76.7 355.7 76.2 356.2 75.9 356.7 75.5 356.9 75.4 357.2 75.2 357.7 74.9 358.2 74.6 358.7 74.4 359.2 74.2 359.7 74.0 360.0 74.0 360.2 73.9 360.7 73.7 361.2 73.6 361.7 73.3 362.2 73.1 362.7 72.8 363.2 72.5 363.7 72.1 364.2 71.8 364.7 71.6 365.2 71.5 365.7 71.5 366.2 71.6 366.7 72.1 367.2 72.3 367.4 72.5 367.7 72.2 368.2 72.1 368.7 71.7 369.2 71.3 369.7 70.8 370.2 70.7 370.7 70.9 371.2 71.3 371.7 71.6 372.2 71.4 372.7 71.2 373.2 71.1 373.7 71.2 374.2 71.1 374.7 70.7 375.0 70.6 375.2 70.6 375.7 70.7 376.2 70.7 376.7 70.6 377.2 70.5 377.7 70.3 378.2 70.0 378.7 69.6 379.2 69.5 379.7 69.7 380.2 70.0 380.7 70.2 381.2 70.0 381.7 69.9 382.2 69.7 382.7 69.6 383.2 69.6 383.7 69.6 384.2 69.7 384.7 69.7 385.0 69.7 385.2 69.5 385.7 69.2 386.2 69.0 386.7 69.1 387.2 69.3 387.7 69.2 388.2 69.1 388.7 69.0 389.2 69.1 389.7 69.4 390.2 69.5 390.7 69.6 391.2 69.3 391.7 69.3 391.8 69.2 392.2 69.7 392.7 70.1 393.2 70.5 393.7 70.7 394.2 70.9 394.7 70.8 395.2 70.7 395.7 70.6 396.2 70.6 396.7 70.6 397.2 70.7 397.7 70.7 398.2 70.6 398.7 70.1 399.2 69.7 399.7 69.4 400.0 69.3 400.2 69.2 400.7 69.2 401.2 69.2 401.7 69.2 402.2 69.1 402.7 68.9 403.2 68.6 403.7 68.3 404.2 68.3 404.7 68.6 405.2 69.0 405.7 69.2 406.2 69.2 406.7 69.6 407.2 69.9 407.7 70.3 408.0 70.3 408.2 70.2 408.7 70.1 409.2 70.3 409.7 70.5 410.2 70.6 410.7 70.6 411.2 70.8 411.7 71.1 412.2 71.3 412.7 71.2 413.2 71.0 413.7 70.8 414.2 70.9 414.7 70.9 415.2 70.8 415.3 70.5" fill="none" stroke="#3fae3f" stroke-width="0.7" stroke-linejoin="round"/>
<path d="M244.2 68.5L244.7 68.3 245.2 68.2 245.7 68.3 246.2 68.8 246.7 69.0 247.2 69.0 247.7 68.9 248.2 68.9 248.7 68.8 249.2 68.8 249.7 68.7 250.0 68.7 250.2 68.6 250.7 68.8 251.2 68.9 251.7 69.0 252.2 68.9 252.7 68.9 253.2 69.0 253.7 69.2 254.2 69.3 254.7 69.3 255.0 69.3 255.2 69.3 255.7 69.5 256.2 69.4 256.7 68.9 257.2 68.7 257.7 68.8 258.2 69.3 258.7 69.6 259.2 69.8 259.7 69.8 260.0 69.7 260.2 69.6 260.7 69.4 261.2 69.3 261.7 69.1 262.2 69.2 262.7 69.3 263.2 69.4 263.7 69.0 264.2 68.8 264.7 68.8 265.0 69.1 265.2 69.1 265.7 69.1 266.2 69.0 266.7 69.0 267.2 69.0 267.7 68.9 268.2 69.0 268.7 69.1 269.2 69.4 269.7 69.5 270.0 69.5 270.2 69.2 270.7 68.8 271.2 68.6 271.7 68.6 272.2 68.6 272.7 68.6 273.2 68.5 273.7 68.3 274.2 67.9 274.7 67.6 275.0 67.7 275.2 68.2 275.7 68.4 276.2 68.5 276.7 68.1 277.2 67.9 277.7 67.7 278.2 67.4 278.7 67.3 279.2 67.3 279.7 67.5 280.0 67.5 280.2 67.3 280.7 67.0 281.2 66.9 281.7 66.8 282.2 66.6 282.7 66.3 283.2 66.1 283.7 66.0 284.2 66.1 284.7 66.1 285.0 66.0 285.2 65.9 285.7 65.5 286.2 65.3 286.7 65.0 287.2 64.8 287.7 64.6 288.2 64.4 288.7 64.1 289.2 63.8 289.7 63.5 290.0 63.5 290.2 63.7 290.7 63.9 291.2 64.2 291.7 64.2 292.2 64.1 292.7 63.8 293.2 63.4 293.7 63.2 294.0 62.9 294.2 62.8 294.7 62.2 295.2 61.9 295.7 61.5 296.2 61.3 296.7 60.8 297.0 60.5 297.2 60.2 297.7 59.0 298.2 57.7 298.5 57.2 298.7 57.0 299.2 56.7 299.7 56.4 300.2 56.2 300.7 55.9 301.2 55.3 301.3 55.1 301.7 52.9 302.2 46.8 302.3 45.4 302.7 35.3 302.9 30.2 303.2 23.9 303.7 16.2 303.8 15.9 304.2 21.3 304.7 36.7 304.8 40.0 305.2 58.6 305.6 80.0 305.7 85.1 306.2 111.4 306.4 115.2 306.7 110.0 307.2 95.0 307.7 87.0 308.0 84.4 308.2 83.6 308.7 82.2 309.2 81.2 309.7 80.4 310.2 79.6 310.7 78.9 311.2 78.4 311.7 77.8 312.2 77.3 312.7 76.6 312.9 76.3 313.2 75.8 313.7 74.9 314.2 74.0 314.7 73.0 315.2 71.9 315.7 70.9 316.2 69.8 316.7 68.7 317.2 67.5 317.7 66.3 318.2 65.0 318.7 63.6 319.2 62.2 319.4 61.6 319.7 60.7 320.2 59.0 320.7 57.2 321.2 55.4 321.5 54.4 321.7 53.7 322.2 52.3 322.7 51.0 323.2 49.5 323.7 47.8 324.2 45.5 324.5 43.8 324.7 42.0 325.2 34.8 325.7 27.5 326.0 22.7 326.2 18.6 326.7 6.8 327.0 3.8 327.2 6.1 327.7 25.4 328.0 40.0 328.2 50.9 328.7 83.9 328.8 90.0 329.2 118.0 329.5 129.0 329.7 128.0 330.2 120.3 330.5 115.0 330.7 111.5 331.2 103.0 331.7 97.9 332.2 93.9 332.6 91.3 332.7 90.8 333.2 88.1 333.7 85.7 334.2 83.7 334.3 83.3 334.7 81.9 335.2 80.2 335.7 78.7 336.2 77.3 336.6 76.3 336.7 76.1 337.2 74.9 337.7 73.8 338.2 72.8 338.7 72.1 339.0 71.8 339.2 71.6 339.7 71.4 340.2 71.1 340.7 70.9 341.2 70.8 341.7 70.6 342.2 70.5 342.4 70.4 342.7 70.2 343.2 69.9 343.7 69.6 344.2 69.2 344.7 68.8 345.2 68.4 345.7 67.9 346.2 67.3 346.5 66.9 346.7 66.7 347.2 65.8 347.7 64.3 347.9 63.5 348.2 61.3 348.7 55.0 349.1 49.8 349.2 48.6 349.7 41.1 350.2 37.0 350.7 44.9 351.2 60.0 351.7 79.4 352.0 90.0 352.2 95.5 352.7 105.8 352.8 106.2 353.2 98.6 353.6 88.0 353.7 86.4 354.2 79.7 354.5 77.9 354.7 77.5 355.2 76.7 355.7 76.2 356.2 75.9 356.7 75.5 356.9 75.4 357.2 75.2 357.7 74.9 358.2 74.6 358.7 74.4 359.2 74.2 359.7 74.0 360.0 74.0 360.2 73.9 360.7 73.7 361.2 73.6 361.7 73.3 362.2 73.1 362.7 72.8 363.2 72.5 363.7 72.1 364.2 71.8 364.7 71.6 365.2 71.5 365.7 71.5 366.2 71.6 366.7 72.1 367.2 72.3 367.4 72.5 367.7 72.2 368.2 72.1 368.7 71.7 369.2 71.3 369.7 70.8 370.2 70.7 370.7 70.9 371.2 71.3 371.7 71.6 372.2 71.4 372.7 71.2 373.2 71.1 373.7 71.2 374.2 71.1 374.7 70.7 375.0 70.6 375.2 70.6 375.7 70.7 376.2 70.7 376.7 70.6 377.2 70.5 377.7 70.3 378.2 70.0 378.7 69.6 379.2 69.5 379.7 69.7 380.2 70.0 380.7 70.2 381.2 70.0 381.7 69.9 382.2 69.7 382.7 69.6 383.2 69.6 383.7 69.6 384.2 69.7 384.7 69.7 385.0 69.7 385.2 69.5 385.7 69.2 386.2 69.0 386.7 69.1 387.2 69.3 387.7 69.2 388.2 69.1 388.7 69.0 389.2 69.1 389.7 69.4 390.2 69.5 390.7 69.6 391.2 69.3 391.7 69.3 391.8 69.2 392.2 69.7 392.7 70.1 393.2 70.5 393.7 70.7 394.2 70.9 394.7 70.8 395.2 70.7 395.7 70.6 396.2 70.6 396.7 70.6 397.2 70.7 397.7 70.7 398.2 70.6 398.7 70.1 399.2 69.7 399.7 69.4 400.0 69.3 400.2 69.2 400.7 69.2 401.2 69.2 401.7 69.2 402.2 69.1 402.7 68.9 403.2 68.6 403.7 68.3 404.2 68.3 404.7 68.6 405.2 69.0 405.7 69.2 406.2 69.2 406.7 69.6 407.2 69.9 407.7 70.3 408.0 70.3 408.2 70.2 408.7 70.1 409.2 70.3 409.7 70.5 410.2 70.6 410.7 70.6 411.2 70.8 411.7 71.1 412.2 71.3 412.7 71.2 413.2 71.0 413.7 70.8 414.2 70.9 414.7 70.9 415.2 70.8 415.3 70.5" fill="none" stroke="#6f95c9" stroke-width="1.2" stroke-linejoin="round"/>
<path d="M244.2 68.8L244.7 68.8 245.2 68.7 245.7 68.6 246.2 68.7 246.7 68.7 247.2 68.8 247.7 68.8 248.2 68.9 248.7 68.9 249.2 68.8 249.7 68.8 250.0 68.7 250.2 68.7 250.7 68.8 251.2 68.9 251.7 68.9 252.2 68.8 252.7 68.8 253.2 68.9 253.7 69.1 254.2 69.3 254.7 69.3 255.0 69.1 255.2 68.7 255.7 68.6 256.2 68.8 256.7 69.1 257.2 69.5 257.7 69.6 258.2 69.6 258.7 69.5 259.2 69.6 259.7 69.8 260.0 69.8 260.2 69.6 260.7 69.2 261.2 69.1 261.7 69.0 262.2 69.0 262.7 68.9 263.2 68.8 263.7 68.8 264.2 68.8 264.7 68.9 265.0 68.9 265.2 69.0 265.7 69.0 266.2 69.1 266.7 69.1 267.2 69.1 267.7 68.9 268.2 68.9 268.7 68.9 269.2 68.9 269.7 68.8 270.0 68.8 270.2 68.7 270.7 68.5 271.2 68.5 271.7 68.5 272.2 68.5 272.7 68.3 273.2 68.2 273.7 68.3 274.2 68.4 274.7 68.3 275.0 68.3 275.2 68.2 275.7 68.2 276.2 68.2 276.7 68.1 277.2 67.9 277.7 67.9 278.2 67.8 278.7 67.6 279.2 67.3 279.7 67.0 280.0 67.0 280.2 67.1 280.7 67.0 281.2 66.7 281.7 66.4 282.2 66.4 282.7 66.4 283.2 66.4 283.7 66.2 284.2 66.1 284.7 66.0 285.0 66.1 285.2 66.0 285.7 65.7 286.2 65.5 286.7 65.2 287.2 64.9 287.7 64.5 288.2 64.3 288.7 64.1 289.2 64.0 289.7 64.0 290.0 63.9 290.2 64.1 290.7 64.0 291.2 64.0 291.7 63.8 292.2 63.5 292.7 63.1 293.2 63.0 293.7 63.0 294.0 62.8 294.2 62.7 294.7 62.4 295.2 62.2 295.7 61.9 296.2 61.4 296.7 60.8 297.0 60.5 297.2 60.2 297.7 59.0 298.2 57.7 298.5 57.2 298.7 56.9 299.2 56.6 299.7 56.4 300.2 56.2 300.7 55.9 301.2 55.3 301.3 55.2 301.7 52.9 302.2 46.8 302.3 45.4 302.7 35.3 302.9 30.2 303.2 23.8 303.7 16.2 303.8 15.9 304.2 21.2 304.7 36.6 304.8 40.0 305.2 58.6 305.6 80.0 305.7 85.1 306.2 111.5 306.4 115.2 306.7 110.0 307.2 95.0 307.7 87.0 308.0 84.4 308.2 83.6 308.7 82.1 309.2 81.2 309.7 80.4 310.2 79.6 310.7 78.9 311.2 78.4 311.7 77.9 312.2 77.2 312.7 76.6 312.9 76.2 313.2 75.8 313.7 74.9 314.2 74.0 314.7 73.0 315.2 72.0 315.7 71.0 316.2 69.9 316.7 68.7 317.2 67.5 317.7 66.2 318.2 64.9 318.7 63.6 319.2 62.2 319.4 61.6 319.7 60.7 320.2 59.0 320.7 57.2 321.2 55.4 321.5 54.4 321.7 53.8 322.2 52.3 322.7 51.0 323.2 49.6 323.7 47.9 324.2 45.6 324.5 43.8 324.7 41.9 325.2 34.8 325.7 27.5 326.0 22.7 326.2 18.6 326.7 6.8 327.0 3.8 327.2 6.1 327.7 25.3 328.0 39.9 328.2 50.8 328.7 83.9 328.8 90.0 329.2 118.0 329.5 129.0 329.7 128.1 330.2 120.4 330.5 115.0 330.7 111.5 331.2 103.0 331.7 97.9 332.2 94.0 332.6 91.4 332.7 90.8 333.2 88.1 333.7 85.7 334.2 83.7 334.3 83.3 334.7 81.8 335.2 80.1 335.7 78.6 336.2 77.2 336.6 76.3 336.7 76.0 337.2 74.9 337.7 73.8 338.2 72.8 338.7 72.1 339.0 71.8 339.2 71.6 339.7 71.3 340.2 71.1 340.7 70.9 341.2 70.8 341.7 70.6 342.2 70.4 342.4 70.3 342.7 70.1 343.2 69.8 343.7 69.5 344.2 69.2 344.7 68.8 345.2 68.4 345.7 67.9 346.2 67.3 346.5 67.0 346.7 66.7 347.2 65.7 347.7 64.3 347.9 63.5 348.2 61.3 348.7 55.1 349.1 49.9 349.2 48.6 349.7 41.1 350.2 37.0 350.7 44.9 351.2 60.0 351.7 79.4 352.0 90.0 352.2 95.5 352.7 105.8 352.8 106.2 353.2 98.6 353.6 88.0 353.7 86.5 354.2 79.7 354.5 77.8 354.7 77.4 355.2 76.7 355.7 76.2 356.2 75.9 356.7 75.6 356.9 75.5 357.2 75.3 357.7 74.9 358.2 74.6 358.7 74.4 359.2 74.2 359.7 73.9 360.0 73.9 360.2 73.6 360.7 73.4 361.2 73.2 361.7 73.2 362.2 73.1 362.7 73.0 363.2 72.7 363.7 72.6 364.2 72.4 364.7 72.4 365.2 72.1 365.7 71.9 366.2 71.6 366.7 71.6 367.2 71.7 367.4 71.9 367.7 71.9 368.2 71.9 368.7 71.7 369.2 71.5 369.7 71.5 370.2 71.5 370.7 71.5 371.2 71.3 371.7 71.0 372.2 70.8 372.7 70.7 373.2 70.6 373.7 70.7 374.2 70.8 374.7 70.9 375.0 70.9 375.2 70.8 375.7 70.8 376.2 70.7 376.7 70.6 377.2 70.3 377.7 70.1 378.2 69.9 378.7 69.9 379.2 69.7 379.7 69.8 380.2 69.8 380.7 70.0 381.2 69.9 381.7 69.7 382.2 69.6 382.7 69.5 383.2 69.5 383.7 69.4 384.2 69.3 384.7 69.4 385.0 69.6 385.2 69.8 385.7 69.8 386.2 69.6 386.7 69.4 387.2 69.2 387.7 69.2 388.2 69.3 388.7 69.2 389.2 69.1 389.7 68.7 390.2 68.6 390.7 68.5 391.2 68.6 391.7 68.5 391.8 68.6 392.2 68.8 392.7 68.9 393.2 68.8 393.7 68.7 394.2 68.7 394.7 68.7 395.2 68.7 395.7 68.7 396.2 68.9 396.7 69.0 397.2 69.1 397.7 68.9 398.2 68.9 398.7 68.7 399.2 68.8 399.7 68.9 400.0 69.0 400.2 68.9 400.7 68.8 401.2 68.9 401.7 69.0 402.2 69.1 402.7 69.1 403.2 69.0 403.7 69.2 404.2 69.3 404.7 69.3 405.2 69.1 405.7 69.0 406.2 69.0 406.7 68.9 407.2 69.0 407.7 69.1 408.0 69.3 408.2 69.3 408.7 69.4 409.2 69.5 409.7 69.6 410.2 69.5 410.7 69.4 411.2 69.2 411.7 69.2 412.2 69.4 412.7 69.5 413.2 69.5 413.7 69.4 414.2 69.5 414.7 69.5 415.2 69.4 415.3 69.3" fill="none" stroke="#9a9a9a" stroke-width="0.8" stroke-dasharray="2 1" stroke-linejoin="round"/>
<path d="M244.2 68.8L244.7 68.8 245.2 68.7 245.7 68.6 246.2 68.7 246.7 68.7 247.2 68.8 247.7 68.8 248.2 68.9 248.7 68.9 249.2 68.8 249.7 68.8 250.0 68.7 250.2 68.7 250.7 68.8 251.2 68.9 251.7 68.9 252.2 68.8 252.7 68.8 253.2 68.9 253.7 69.1 254.2 69.3 254.7 69.3 255.0 69.1 255.2 68.7 255.7 68.6 256.2 68.8 256.7 69.1 257.2 69.5 257.7 69.6 258.2 69.6 258.7 69.5 259.2 69.6 259.7 69.8 260.0 69.8 260.2 69.6 260.7 69.2 261.2 69.1 261.7 69.0 262.2 69.0 262.7 68.9 263.2 68.8 263.7 68.8 264.2 68.8 264.7 68.9 265.0 68.9 265.2 69.0 265.7 69.0 266.2 69.1 266.7 69.1 267.2 69.1 267.7 68.9 268.2 68.9 268.7 68.9 269.2 68.9 269.7 68.8 270.0 68.8 270.2 68.7 270.7 68.5 271.2 68.5 271.7 68.5 272.2 68.5 272.7 68.3 273.2 68.2 273.7 68.3 274.2 68.4 274.7 68.3 275.0 68.3 275.2 68.2 275.7 68.2 276.2 68.2 276.7 68.1 277.2 67.9 277.7 67.9 278.2 67.8 278.7 67.6 279.2 67.3 279.7 67.0 280.0 67.0 280.2 67.1 280.7 67.0 281.2 66.7 281.7 66.4 282.2 66.4 282.7 66.4 283.2 66.4 283.7 66.2 284.2 66.1 284.7 66.0 285.0 66.1 285.2 66.0 285.7 65.7 286.2 65.5 286.7 65.2 287.2 64.9 287.7 64.5 288.2 64.3 288.7 64.1 289.2 64.0 289.7 64.0 290.0 63.9 290.2 64.1 290.7 64.0 291.2 64.0 291.7 63.8 292.2 63.5 292.7 63.1 293.2 63.0 293.7 63.0 294.0 62.8 294.2 62.7 294.7 62.4 295.2 62.2 295.7 61.9 296.2 61.4 296.7 60.8 297.0 60.5 297.2 60.2 297.7 59.0 298.2 57.7 298.5 57.2 298.7 56.9 299.2 56.6 299.7 56.4 300.2 56.2 300.7 55.9 301.2 55.3 301.3 55.2 301.7 52.9 302.2 46.8 302.3 45.4 302.7 35.3 302.9 30.2 303.2 23.8 303.7 16.2 303.8 15.9 304.2 21.2 304.7 36.6 304.8 40.0 305.2 58.6 305.6 80.0 305.7 85.1 306.2 111.5 306.4 115.2 306.7 110.0 307.2 95.0 307.7 87.0 308.0 84.4 308.2 83.6 308.7 82.1 309.2 81.2 309.7 80.4 310.2 79.6 310.7 78.9 311.2 78.4 311.7 77.9 312.2 77.2 312.7 76.6 312.9 76.2 313.2 75.8 313.7 74.9 314.2 74.0 314.7 73.0 315.2 72.0 315.7 71.0 316.2 69.9 316.7 68.7 317.2 67.5 317.7 66.2 318.2 64.9 318.7 63.6 319.2 62.2 319.4 61.6 319.7 60.7 320.2 59.0 320.7 57.2 321.2 55.4 321.5 54.4 321.7 53.8 322.2 52.3 322.7 51.0 323.2 49.6 323.7 47.9 324.2 45.6 324.5 43.8 324.7 41.9 325.2 34.8 325.7 27.5 326.0 22.7 326.2 18.6 326.7 6.8 327.0 3.8 327.2 6.1 327.7 25.3 328.0 39.9 328.2 50.8 328.7 83.9 328.8 90.0 329.2 118.0 329.5 129.0 329.7 128.1 330.2 120.4 330.5 115.0 330.7 111.5 331.2 103.0 331.7 97.9 332.2 94.0 332.6 91.4 332.7 90.8 333.2 88.1 333.7 85.7 334.2 83.7 334.3 83.3 334.7 81.8 335.2 80.1 335.7 78.6 336.2 77.2 336.6 76.3 336.7 76.0 337.2 74.9 337.7 73.8 338.2 72.8 338.7 72.1 339.0 71.8 339.2 71.6 339.7 71.3 340.2 71.1 340.7 70.9 341.2 70.8 341.7 70.6 342.2 70.4 342.4 70.3 342.7 70.1 343.2 69.8 343.7 69.5 344.2 69.2 344.7 68.8 345.2 68.4 345.7 67.9 346.2 67.3 346.5 67.0 346.7 66.7 347.2 65.7 347.7 64.3 347.9 63.5 348.2 61.3 348.7 55.1 349.1 49.9 349.2 48.6 349.7 41.1 350.2 37.0 350.7 44.9 351.2 60.0 351.7 79.4 352.0 90.0 352.2 95.5 352.7 105.8 352.8 106.2 353.2 98.6 353.6 88.0 353.7 86.5 354.2 79.7 354.5 77.8 354.7 77.4 355.2 76.7 355.7 76.2 356.2 75.9 356.7 75.6 356.9 75.5 357.2 75.3 357.7 74.9 358.2 74.6 358.7 74.4 359.2 74.2 359.7 73.9 360.0 73.9 360.2 73.6 360.7 73.4 361.2 73.2 361.7 73.2 362.2 73.1 362.7 73.0 363.2 72.7 363.7 72.6 364.2 72.4 364.7 72.4 365.2 72.1 365.7 71.9 366.2 71.6 366.7 71.6 367.2 71.7 367.4 71.9 367.7 71.9 368.2 71.9 368.7 71.7 369.2 71.5 369.7 71.5 370.2 71.5 370.7 71.5 371.2 71.3 371.7 71.0 372.2 70.8 372.7 70.7 373.2 70.6 373.7 70.7 374.2 70.8 374.7 70.9 375.0 70.9 375.2 70.8 375.7 70.8 376.2 70.7 376.7 70.6 377.2 70.3 377.7 70.1 378.2 69.9 378.7 69.9 379.2 69.7 379.7 69.8 380.2 69.8 380.7 70.0 381.2 69.9 381.7 69.7 382.2 69.6 382.7 69.5 383.2 69.5 383.7 69.4 384.2 69.3 384.7 69.4 385.0 69.6 385.2 69.8 385.7 69.8 386.2 69.6 386.7 69.4 387.2 69.2 387.7 69.2 388.2 69.3 388.7 69.2 389.2 69.1 389.7 68.7 390.2 68.6 390.7 68.5 391.2 68.6 391.7 68.5 391.8 68.6 392.2 68.8 392.7 68.9 393.2 68.8 393.7 68.7 394.2 68.7 394.7 68.7 395.2 68.7 395.7 68.7 396.2 68.9 396.7 69.0 397.2 69.1 397.7 68.9 398.2 68.9 398.7 68.7 399.2 68.8 399.7 68.9 400.0 69.0 400.2 68.9 400.7 68.8 401.2 68.9 401.7 69.0 402.2 69.1 402.7 69.1 403.2 69.0 403.7 69.2 404.2 69.3 404.7 69.3 405.2 69.1 405.7 69.0 406.2 69.0 406.7 68.9 407.2 69.0 407.7 69.1 408.0 69.3 408.2 69.3 408.7 69.4 409.2 69.5 409.7 69.6 410.2 69.5 410.7 69.4 411.2 69.2 411.7 69.2 412.2 69.4 412.7 69.5 413.2 69.5 413.7 69.4 414.2 69.5 414.7 69.5 415.2 69.4 415.3 69.3" fill="none" stroke="#26343f" stroke-width="1.05" stroke-dasharray="1 0.8" stroke-linejoin="round"/>
<text x="224.30" y="14.20" font-size="15.50" font-weight="bold" fill="#000" text-anchor="start">B</text>
<line x1="374" y1="102.2" x2="384.8" y2="102.2" stroke="#333" stroke-width="1" stroke-dasharray="1 0.8"/>
<line x1="374" y1="110.0" x2="384.8" y2="110.0" stroke="#999" stroke-width="1" stroke-dasharray="2.2 1.2"/>
<line x1="374" y1="117.8" x2="384.8" y2="117.8" stroke="#5b8fd3" stroke-width="1.1"/>
<line x1="374" y1="125.6" x2="384.8" y2="125.6" stroke="#3dbd3d" stroke-width="1.1"/>
<text x="391.60" y="104.60" font-size="6.70" fill="#3a3a3a" text-anchor="start">0 Cu(I)</text>
<text x="391.60" y="112.40" font-size="6.70" fill="#3a3a3a" text-anchor="start">0.2 Cu(I)</text>
<text x="391.60" y="120.20" font-size="6.70" fill="#3a3a3a" text-anchor="start">0.5 Cu(I)</text>
<text x="391.60" y="128.00" font-size="6.70" fill="#3a3a3a" text-anchor="start">0.7 Cu(I)</text>
<path d="M243.6 203.9L244.1 202.6 244.6 201.7 245.1 200.9 245.5 200.4 245.6 200.2 246.1 199.6 246.6 199.7 247.1 199.8 247.6 200.1 248.0 199.8 248.1 199.5 248.6 199.6 249.1 200.2 249.6 201.0 250.0 201.3 250.1 201.6 250.6 201.6 251.1 201.3 251.6 201.1 252.0 201.1 252.1 201.2 252.6 201.2 253.1 201.3 253.6 201.7 254.1 202.2 254.6 202.5 255.0 202.4 255.1 202.2 255.6 201.9 256.1 201.4 256.6 200.9 257.1 200.6 257.6 200.3 258.0 200.0 258.1 199.8 258.6 199.5 259.1 199.7 259.6 199.9 260.1 200.2 260.6 200.6 261.0 200.7 261.1 200.6 261.6 199.8 262.1 198.9 262.5 198.7 262.6 198.9 263.1 198.6 263.6 198.3 264.1 197.9 264.6 197.6 265.0 197.5 265.1 197.6 265.6 197.6 266.1 197.5 266.6 197.2 267.1 197.2 267.6 197.2 268.1 197.5 268.6 197.6 269.1 197.5 269.6 197.6 270.0 197.6 270.1 197.7 270.6 197.6 271.1 198.0 271.6 198.4 272.1 198.6 272.6 198.4 273.0 198.4 273.1 198.7 273.6 198.8 274.1 198.9 274.6 198.7 275.1 198.8 275.6 198.7 276.0 199.0 276.1 198.7 276.6 198.5 277.1 198.1 277.6 198.1 278.0 198.0 278.1 198.1 278.6 197.7 279.1 197.1 279.6 196.5 280.0 196.2 280.1 196.2 280.6 196.0 281.1 195.5 281.6 195.1 282.0 194.8 282.1 194.8 282.6 194.2 283.1 193.2 283.6 192.5 284.0 192.1 284.1 192.3 284.6 190.9 285.1 188.9 285.5 187.4 285.6 187.2 286.1 185.8 286.6 184.5 287.0 183.4 287.1 183.3 287.6 181.9 288.1 180.9 288.6 180.3 288.8 180.7 289.1 180.7 289.6 181.1 290.0 181.3 290.1 181.3 290.6 182.2 291.1 183.5 291.5 184.2 291.6 184.6 292.1 185.1 292.6 185.3 293.0 185.4 293.1 185.6 293.6 186.4 294.1 187.1 294.6 187.6 295.0 187.8 295.1 187.9 295.6 188.5 296.1 189.4 296.6 189.9 297.0 190.1 297.1 189.7 297.6 190.1 298.1 190.5 298.5 191.0 298.6 191.0 299.1 191.1 299.6 191.0 300.0 191.0 300.1 191.2 300.6 191.4 301.1 191.5 301.6 191.6 302.0 191.6 302.1 191.6 302.6 191.0 303.0 190.2 303.1 189.7 303.6 182.3 304.0 175.0 304.1 173.4 304.6 163.8 305.1 158.5 305.6 174.4 306.0 195.0 306.1 199.5 306.6 224.2 306.8 232.0 307.1 241.9 307.4 247.0 307.6 245.4 308.1 234.2 308.3 230.0 308.6 224.5 309.1 216.8 309.2 216.0 309.6 213.9 310.1 212.2 310.5 211.5 310.6 211.4 311.1 211.0 311.6 210.8 312.1 210.6 312.6 210.3 313.0 210.0 313.1 209.9 313.6 209.5 314.1 209.1 314.6 208.5 315.1 208.0 315.6 207.2 316.0 206.6 316.1 206.4 316.6 205.2 317.1 203.8 317.6 202.2 318.1 200.4 318.6 198.4 319.1 196.2 319.6 193.5 320.1 190.5 320.6 187.2 321.1 183.7 321.6 179.5 322.1 174.6 322.6 169.7 323.1 165.3 323.5 162.6 323.6 162.1 324.1 159.5 324.6 157.4 325.1 156.0 325.6 155.5 326.1 155.1 326.6 154.6 326.8 154.4 327.1 153.3 327.6 149.9 328.0 146.3 328.1 145.1 328.6 137.0 328.7 136.6 329.1 150.4 329.6 184.3 329.7 190.0 330.1 211.6 330.6 236.1 330.7 240.0 331.1 255.0 331.6 265.4 332.1 259.4 332.6 249.9 333.1 242.9 333.6 237.5 334.1 234.3 334.6 231.7 335.1 229.6 335.6 227.8 336.0 226.5 336.1 226.1 336.6 224.6 337.1 223.2 337.6 222.0 338.0 221.0 338.1 220.7 338.6 219.5 339.1 218.3 339.6 217.1 340.1 215.9 340.6 214.7 341.1 213.6 341.6 212.4 342.0 211.5 342.1 211.3 342.6 210.0 343.1 208.8 343.6 207.5 344.1 206.4 344.6 205.3 345.0 204.5 345.1 204.4 345.6 203.6 346.1 203.1 346.6 202.5 347.1 202.0 347.6 201.4 348.1 200.6 348.6 199.7 348.7 199.5 349.1 198.4 349.6 196.4 350.1 194.0 350.5 192.0 350.6 191.5 351.1 187.7 351.6 183.6 352.1 180.9 352.3 180.6 352.6 184.3 353.1 199.3 353.3 205.0 353.6 213.2 354.1 226.2 354.2 228.0 354.6 234.7 355.0 238.0 355.1 237.7 355.6 230.4 356.0 224.0 356.1 223.0 356.6 218.3 357.1 214.2 357.6 211.5 357.8 211.0 358.1 210.7 358.6 210.0 359.1 209.4 359.6 208.8 360.1 208.1 360.6 207.5 361.1 207.2 361.6 207.1 362.0 207.2 362.1 207.3 362.6 207.2 363.1 206.9 363.6 206.5 364.1 205.9 364.6 205.5 365.1 205.3 365.6 205.1 366.0 205.0 366.1 205.0 366.6 204.8 367.1 204.5 367.6 204.3 368.1 204.2 368.6 204.3 369.1 204.4 369.6 204.4 370.0 204.2 370.1 203.8 370.6 203.3 371.1 203.1 371.6 203.2 372.1 203.4 372.6 203.3 373.1 203.2 373.6 202.9 374.1 202.7 374.6 202.4 375.1 202.1 375.6 201.8 376.0 201.6 376.1 201.7 376.6 201.7 377.1 201.9 377.6 202.3 378.1 202.6 378.6 202.9 379.1 202.6 379.6 202.3 380.1 202.0 380.6 201.9 381.1 201.8 381.6 201.5 382.0 201.1 382.1 200.9 382.6 201.1 383.1 201.3 383.6 201.4 384.1 201.1 384.6 200.9 385.1 200.8 385.6 200.8 386.1 200.9 386.6 200.9 387.0 200.9 387.1 200.8 387.6 200.7 388.1 200.8 388.6 200.9 389.1 201.3 389.6 201.7 390.1 202.0 390.6 201.9 391.0 201.8 391.1 201.8 391.6 202.3 392.1 203.1 392.6 203.8 393.1 204.4 393.5 204.4 393.6 204.2 394.1 204.4 394.6 205.1 395.0 205.5 395.1 205.4 395.6 204.7 396.1 203.6 396.6 202.8 397.0 202.4 397.1 202.4 397.6 202.2 398.1 202.0 398.6 202.0 399.1 201.8 399.6 201.9 400.0 201.7 400.1 201.5 400.6 201.4 401.1 201.5 401.6 201.8 402.1 202.0 402.6 202.3 403.1 202.5 403.6 202.7 404.1 202.4 404.6 202.1 405.0 201.9 405.1 202.1 405.6 202.3 406.1 202.4 406.6 202.2 407.1 201.9 407.6 201.8 408.1 201.7 408.6 201.9 409.1 201.7 409.6 201.4 410.0 201.3 410.1 201.6 410.6 201.8 411.1 201.9 411.6 201.9 412.1 202.1 412.6 202.2 413.1 202.3 413.6 202.2 414.1 202.1 414.6 201.9 415.0 201.8 415.1 201.6 415.6 201.9 416.1 201.7 416.6 201.6 417.1 201.3 417.6 201.3 418.1 201.3 418.6 201.3 419.0 201.1" fill="none" stroke="#1e1e1e" stroke-width="1.2" stroke-linejoin="round"/>
<path d="M243.6 203.4L244.1 203.0 244.6 202.5 245.0 202.1 245.1 201.8 245.6 201.3 246.1 200.8 246.6 200.5 247.0 200.4 247.1 200.6 247.6 200.8 248.1 201.1 248.6 201.1 249.1 201.2 249.6 201.2 250.0 201.4 250.1 201.3 250.6 201.4 251.1 201.3 251.6 201.3 252.1 201.3 252.6 201.4 253.1 201.6 253.6 201.6 254.1 201.6 254.6 201.4 255.0 201.5 255.1 201.4 255.6 201.4 256.1 201.2 256.6 201.2 257.1 201.1 257.6 201.1 258.1 201.2 258.6 201.2 259.1 201.2 259.6 201.0 260.0 200.8 260.1 200.8 260.6 200.9 261.1 201.0 261.6 201.1 262.1 200.9 262.6 200.9 263.1 200.8 263.6 200.9 264.1 201.1 264.6 201.3 265.0 201.4 265.1 201.3 265.6 201.2 266.1 201.1 266.6 201.1 267.1 201.1 267.6 201.1 268.1 201.2 268.6 201.2 269.1 201.3 269.6 201.3 270.0 201.4 270.1 201.4 270.6 201.5 271.1 201.4 271.6 201.3 272.1 201.1 272.6 201.1 273.1 200.9 273.6 200.9 274.1 200.8 274.6 200.8 275.0 200.8 275.1 200.8 275.6 200.6 276.1 200.6 276.6 200.4 277.1 200.2 277.6 199.7 278.1 199.4 278.6 198.9 279.1 198.7 279.6 198.7 280.0 198.9 280.1 199.1 280.6 199.1 281.1 198.7 281.6 198.5 282.1 198.1 282.6 197.9 283.1 197.5 283.6 197.3 284.1 197.3 284.6 197.2 285.0 197.3 285.1 197.3 285.6 197.4 286.1 197.3 286.6 197.2 287.1 197.0 287.6 196.8 288.1 196.6 288.6 196.4 289.1 196.4 289.6 196.3 290.0 196.3 290.1 196.2 290.6 196.0 291.1 195.7 291.6 195.5 292.1 195.4 292.6 195.4 293.1 195.2 293.6 195.1 294.1 194.9 294.6 194.7 295.0 194.6 295.1 194.6 295.6 194.3 296.1 194.0 296.6 193.7 297.1 193.5 297.6 193.4 298.0 193.3 298.1 193.4 298.6 193.2 299.1 192.9 299.6 192.4 300.0 192.1 300.1 191.7 300.6 191.5 301.1 191.3 301.6 191.0 302.0 190.7 302.1 190.6 302.6 188.0 303.1 183.4 303.6 177.5 303.8 175.0 304.1 169.2 304.6 155.9 305.1 148.7 305.6 166.9 306.0 190.0 306.1 195.0 306.6 221.4 306.8 230.0 307.1 241.5 307.4 247.6 307.6 246.2 308.1 236.0 308.3 232.0 308.6 226.7 309.1 219.0 309.2 218.0 309.6 215.1 310.1 212.4 310.5 211.0 310.6 210.7 311.1 209.6 311.6 208.7 312.1 207.9 312.6 207.3 313.1 206.7 313.6 206.1 314.0 205.5 314.1 205.4 314.6 204.6 315.1 204.0 315.6 203.3 316.1 202.7 316.6 202.0 317.1 201.2 317.6 200.4 317.8 200.0 318.1 199.4 318.6 198.2 319.1 196.8 319.6 195.3 320.1 193.7 320.6 192.2 321.0 191.0 321.1 190.7 321.6 189.4 322.1 188.1 322.6 186.8 323.1 185.5 323.6 184.1 324.1 182.6 324.6 180.9 325.1 178.9 325.6 176.7 326.1 174.3 326.6 171.3 327.1 167.5 327.6 162.6 328.1 149.5 328.6 136.7 328.7 136.2 329.1 150.2 329.6 184.3 329.7 190.0 330.1 211.7 330.6 236.2 330.7 240.0 331.1 254.8 331.6 265.0 332.1 257.1 332.6 245.0 333.1 236.4 333.6 229.7 334.1 224.9 334.6 220.8 335.1 217.4 335.6 214.5 336.0 212.5 336.1 212.1 336.6 210.0 337.1 208.1 337.6 206.7 338.0 205.8 338.1 205.7 338.6 204.9 339.1 204.2 339.6 203.6 340.1 203.1 340.6 202.6 341.1 202.2 341.6 201.8 342.0 201.5 342.1 201.4 342.6 201.1 343.1 200.8 343.6 200.6 344.1 200.4 344.6 200.2 345.1 199.9 345.6 199.7 346.1 199.4 346.6 199.0 347.1 198.5 347.2 198.4 347.6 197.8 348.1 196.6 348.6 195.0 349.1 193.1 349.6 190.9 349.8 190.0 350.1 188.1 350.6 183.2 351.1 177.5 351.6 172.4 352.1 169.4 352.3 169.1 352.6 174.0 353.1 193.1 353.3 200.0 353.6 209.0 354.1 222.8 354.2 225.0 354.6 233.6 355.0 238.0 355.1 237.7 355.6 231.0 356.0 225.0 356.1 224.0 356.6 218.8 357.1 214.3 357.6 211.2 357.8 210.5 358.1 210.0 358.6 208.7 359.1 207.9 359.6 207.3 360.1 206.8 360.6 206.4 361.1 206.1 361.6 205.8 362.0 205.7 362.1 205.5 362.6 205.3 363.1 205.0 363.6 205.0 364.1 204.8 364.6 204.8 365.1 204.5 365.6 204.3 366.1 204.1 366.6 203.9 367.1 203.7 367.6 203.6 368.1 203.6 368.6 203.8 369.1 204.0 369.6 204.1 370.0 204.0 370.1 203.8 370.6 203.5 371.1 203.2 371.6 203.1 372.1 203.0 372.6 203.1 373.1 202.9 373.6 202.9 374.1 202.9 374.6 203.1 375.1 203.1 375.6 203.0 376.1 202.9 376.6 202.7 377.1 202.7 377.6 202.6 378.1 202.6 378.6 202.5 379.1 202.5 379.6 202.4 380.0 202.4 380.1 202.3 380.6 202.4 381.1 202.3 381.6 202.4 382.1 202.4 382.6 202.5 383.1 202.5 383.6 202.5 384.1 202.4 384.6 202.4 385.1 202.3 385.6 202.3 386.1 202.3 386.6 202.3 387.1 202.3 387.6 202.3 388.1 202.3 388.6 202.2 389.1 202.1 389.6 202.0 390.0 202.0 390.1 202.2 390.6 202.2 391.1 202.2 391.6 202.2 392.1 202.2 392.6 202.3 393.1 202.5 393.6 202.5 394.1 202.6 394.6 202.5 395.1 202.5 395.6 202.6 396.1 202.6 396.6 202.6 397.1 202.4 397.6 202.3 398.1 202.4 398.6 202.5 399.1 202.5 399.6 202.4 400.0 202.2 400.1 202.2 400.6 202.3 401.1 202.4 401.6 202.5 402.1 202.4 402.6 202.3 403.1 202.2 403.6 202.3 404.1 202.4 404.6 202.7 405.1 202.7 405.6 202.5 406.1 202.3 406.6 202.2 407.1 202.3 407.6 202.4 408.1 202.4 408.6 202.4 409.1 202.4 409.6 202.4 410.0 202.4 410.1 202.2 410.6 202.2 411.1 202.3 411.6 202.5 412.1 202.5 412.6 202.5 413.1 202.5 413.6 202.3 414.1 202.2 414.6 202.0 415.1 202.0 415.6 202.1 416.1 202.4 416.6 202.6 417.1 202.7 417.6 202.5 418.1 202.5 418.6 202.5 419.0 202.5" fill="none" stroke="#3fc03f" stroke-width="1.2" stroke-linejoin="round"/>
<text x="224.00" y="145.90" font-size="15.50" font-weight="bold" fill="#000" text-anchor="start">C</text>
<line x1="376.3" y1="253.1" x2="387.3" y2="253.1" stroke="#3fc03f" stroke-width="1.1"/>
<line x1="376.3" y1="261.4" x2="387.3" y2="261.4" stroke="#222" stroke-width="1.1"/>
<text x="393.80" y="255.60" font-size="6.70" fill="#3a3a3a" text-anchor="start">0.7 Cu(I)</text>
<text x="393.80" y="263.90" font-size="6.70" fill="#3a3a3a" text-anchor="start">1 Cu(I)</text>
<path d="M246.4 337.7L246.9 338.1 247.4 337.9 247.9 337.3 248.4 336.9 248.9 336.9 249.4 337.3 249.9 337.2 250.4 337.2 250.9 337.0 251.4 337.6 251.9 337.6 252.0 337.7 252.4 337.3 252.9 337.4 253.4 337.6 253.9 337.8 254.4 337.8 254.9 337.6 255.4 337.3 255.9 337.0 256.4 336.9 256.9 336.9 257.4 336.7 257.9 336.5 258.0 336.5 258.4 336.6 258.9 336.7 259.4 337.1 259.9 337.7 260.4 338.2 260.9 338.2 261.4 338.2 261.9 338.4 262.4 338.7 262.9 338.9 263.4 339.0 263.9 338.9 264.4 338.6 264.9 338.3 265.4 338.6 265.6 338.7 265.9 338.6 266.4 337.8 266.9 337.3 267.4 336.9 267.9 337.1 268.4 337.6 268.9 338.0 269.4 338.3 269.9 338.7 270.4 338.7 270.9 338.7 271.4 338.1 271.9 337.7 272.0 337.4 272.4 337.2 272.9 336.9 273.4 336.6 273.9 336.7 274.4 336.7 274.9 336.9 275.4 336.6 275.9 336.3 276.4 336.1 276.9 335.9 277.4 336.0 277.9 335.8 278.0 336.0 278.4 335.9 278.9 336.0 279.4 335.8 279.9 335.7 280.4 335.8 280.9 335.7 281.4 335.3 281.9 334.5 282.4 334.2 282.9 333.7 283.0 333.7 283.4 333.2 283.9 333.2 284.4 333.0 284.9 333.0 285.4 332.5 285.9 331.7 286.4 331.1 286.9 331.0 287.4 331.9 287.9 332.1 288.4 331.7 288.6 330.7 288.9 330.5 289.4 330.7 289.9 330.8 290.4 330.2 290.9 329.3 291.4 328.8 291.9 328.3 292.4 327.9 292.9 327.5 293.0 327.7 293.4 327.5 293.9 326.9 294.4 326.1 294.9 325.6 295.4 325.6 295.9 325.4 296.4 325.1 296.9 324.7 297.0 325.3 297.4 325.4 297.9 325.2 298.4 323.9 298.9 322.9 299.4 322.6 299.9 322.9 300.0 323.1 300.4 321.7 300.9 321.2 301.4 320.8 301.9 320.4 302.4 319.9 302.9 319.3 303.3 318.7 303.4 318.6 303.9 317.2 304.4 315.1 304.9 312.4 305.4 309.2 305.7 307.1 305.9 305.6 306.4 300.3 306.9 294.1 307.3 289.5 307.4 288.4 307.9 281.9 308.4 277.5 308.5 277.3 308.9 290.2 309.4 319.9 309.9 346.9 310.3 364.9 310.4 368.2 310.9 383.6 311.3 389.0 311.4 388.6 311.9 379.1 312.3 369.9 312.4 368.1 312.9 359.2 313.2 355.1 313.4 353.0 313.9 348.9 314.2 347.0 314.4 346.0 314.9 343.6 315.4 341.4 315.9 339.4 316.4 337.5 316.5 337.1 316.9 335.5 317.4 333.5 317.9 331.4 318.4 329.6 318.9 328.3 319.4 327.6 319.5 327.6 319.9 327.9 320.4 328.9 320.9 330.1 321.4 331.3 321.9 331.9 322.0 331.9 322.4 331.4 322.9 330.0 323.4 328.1 323.9 326.3 324.0 326.0 324.4 324.8 324.9 323.1 325.4 321.4 325.9 319.5 326.1 318.7 326.4 317.3 326.9 315.0 327.4 312.5 327.9 309.6 328.4 306.4 328.5 305.6 328.9 302.2 329.4 296.9 329.9 291.4 330.1 289.4 330.4 286.1 330.9 280.2 331.4 275.4 331.8 274.0 331.9 275.3 332.4 307.0 332.7 330.0 332.9 343.5 333.4 375.0 333.9 396.1 334.1 399.1 334.4 397.3 334.9 389.7 335.2 385.1 335.4 382.4 335.9 375.4 336.4 369.1 336.5 368.0 336.9 364.2 337.4 359.9 337.9 356.2 338.4 352.7 338.5 352.1 338.9 349.4 339.4 346.0 339.9 342.9 340.4 340.4 340.5 339.9 340.9 338.3 341.4 336.2 341.9 334.5 342.4 333.3 342.8 333.0 342.9 333.0 343.4 333.8 343.9 335.2 344.4 336.8 344.5 337.1 344.9 338.4 345.4 340.0 345.9 340.9 346.0 340.9 346.4 340.6 346.9 339.4 347.4 337.7 347.9 335.5 348.4 333.4 348.5 332.9 348.9 331.2 349.4 328.8 349.9 326.2 350.4 323.6 350.9 320.9 351.3 318.8 351.4 318.3 351.9 315.3 352.4 311.9 352.9 308.5 353.4 305.4 353.9 303.1 354.4 301.9 354.6 301.8 354.9 307.0 355.4 327.6 355.6 335.1 355.9 345.2 356.4 360.9 356.6 365.0 356.9 370.0 357.4 375.8 357.6 376.5 357.9 375.1 358.4 369.9 358.6 368.0 358.9 365.6 359.4 361.6 359.9 358.4 360.0 357.9 360.4 356.2 360.9 354.3 361.4 352.7 361.9 351.2 362.4 350.3 362.9 349.1 363.4 348.2 363.6 348.0 363.9 347.7 364.4 346.9 364.9 346.1 365.4 345.0 365.9 344.3 366.4 344.0 366.9 344.1 367.4 343.7 367.9 343.1 368.0 342.8 368.4 342.3 368.9 342.0 369.4 341.4 369.9 341.2 370.4 340.8 370.9 340.8 371.4 340.1 371.9 339.7 372.4 339.5 372.9 339.4 373.4 339.4 373.9 339.8 374.4 340.2 374.9 340.5 375.4 339.7 375.7 339.1 375.9 338.3 376.4 337.9 376.9 337.3 377.4 337.3 377.9 337.8 378.4 338.2 378.9 338.3 379.4 338.2 379.9 338.3 380.4 338.1 380.9 337.3 381.4 336.6 381.9 336.4 382.4 336.7 382.9 336.7 383.4 336.4 383.9 336.4 384.4 336.9 384.9 337.0 385.0 336.4 385.4 335.0 385.9 334.6 386.4 334.6 386.9 335.4 387.4 335.7 387.9 336.2 388.4 336.0 388.9 335.6 389.4 334.9 389.9 334.7 390.4 334.7 390.9 334.8 391.4 334.7 391.9 334.4 392.4 334.4 392.9 334.0 393.2 333.6 393.4 333.1 393.9 332.6 394.4 332.4 394.9 332.6 395.4 333.5 395.9 334.1 396.4 334.6 396.9 334.7 397.4 334.2 397.9 333.7 398.4 333.1 398.9 333.7 399.4 334.8 399.9 336.0 400.0 336.0 400.4 335.1 400.9 334.0 401.4 333.5 401.9 334.2 402.4 335.0 402.9 335.6 403.4 335.3 403.9 335.2 404.4 335.0 404.9 335.6 405.4 336.0 405.9 336.5 406.0 336.6 406.4 336.8 406.9 337.1 407.4 337.4 407.9 337.8 408.4 337.8 408.9 338.0 409.4 338.3 409.9 339.1 410.4 339.5 410.9 339.8 411.4 339.5 411.9 339.4 412.0 339.3 412.4 339.8 412.9 340.2 413.4 340.4 413.9 340.2 414.4 340.7 414.9 341.1 415.4 341.6 415.9 341.4 416.4 341.9 416.9 342.1 417.4 342.8 417.6 342.8" fill="none" stroke="#3a3a3a" stroke-width="1.3" stroke-linejoin="round"/>
<path d="M246.7 337.0L247.2 337.4 247.7 337.8 248.2 337.7 248.7 337.2 249.2 336.3 249.7 335.8 250.2 335.8 250.7 336.4 251.2 337.0 251.7 336.9 252.2 336.6 252.3 335.9 252.7 336.3 253.2 336.8 253.7 337.9 254.2 338.1 254.7 338.1 255.2 337.8 255.7 337.8 256.2 337.6 256.7 337.3 257.2 337.0 257.7 336.9 258.2 336.9 258.3 336.8 258.7 337.0 259.2 337.1 259.7 337.4 260.2 337.3 260.7 337.5 261.2 337.1 261.7 337.1 262.2 336.9 262.7 337.3 263.2 337.6 263.7 337.9 264.2 338.2 264.7 338.6 265.2 339.0 265.7 338.9 265.9 338.5 266.2 338.5 266.7 338.5 267.2 338.6 267.7 338.0 268.2 337.3 268.7 336.9 269.2 337.0 269.7 337.4 270.2 337.8 270.7 337.8 271.2 337.9 271.7 338.0 272.2 338.4 272.3 338.7 272.7 338.8 273.2 338.8 273.7 338.6 274.2 338.3 274.7 337.6 275.2 336.9 275.7 336.0 276.2 335.2 276.7 334.8 277.2 334.9 277.7 335.2 278.2 334.9 278.3 334.3 278.7 333.9 279.2 334.1 279.7 334.6 280.2 335.1 280.7 335.3 281.2 335.3 281.7 334.8 282.2 334.0 282.7 333.1 283.2 332.9 283.3 333.3 283.7 333.8 284.2 334.0 284.7 333.8 285.2 333.2 285.7 332.4 286.2 331.5 286.7 331.3 287.2 331.2 287.7 331.3 288.2 330.9 288.7 330.7 288.9 330.5 289.2 330.6 289.7 330.1 290.2 329.9 290.7 329.4 291.2 329.2 291.7 328.6 292.2 327.8 292.7 326.9 293.2 326.3 293.3 326.5 293.7 326.6 294.2 326.5 294.7 326.2 295.2 326.1 295.7 326.1 296.2 325.9 296.7 325.4 297.2 325.2 297.3 325.4 297.7 325.4 298.2 324.4 298.7 323.6 299.2 322.9 299.7 323.2 300.2 322.2 300.3 322.1 300.7 321.7 301.2 321.3 301.7 320.9 302.2 320.5 302.7 319.9 303.2 319.2 303.6 318.7 303.7 318.6 304.2 317.2 304.7 315.1 305.2 312.3 305.7 309.2 306.0 307.2 306.2 305.7 306.7 300.3 307.2 294.1 307.6 289.3 307.7 288.2 308.2 281.7 308.7 277.4 308.8 277.2 309.2 290.3 309.7 320.0 309.7 320.0 310.2 347.0 310.6 364.9 310.7 368.1 311.2 383.5 311.6 388.9 311.7 388.5 312.2 379.2 312.6 370.0 312.7 368.3 313.2 359.3 313.5 355.1 313.7 353.0 314.2 348.9 314.5 347.0 314.7 345.8 315.2 343.3 315.7 341.1 316.2 339.2 316.7 337.3 316.8 336.9 317.2 335.4 317.7 333.3 318.2 331.3 318.7 329.6 319.2 328.2 319.7 327.7 319.8 327.7 320.2 328.1 320.7 329.1 321.2 330.3 321.7 331.3 322.2 331.9 322.3 331.8 322.7 331.3 323.2 329.8 323.7 328.0 324.2 326.2 324.3 325.9 324.7 324.6 325.2 323.0 325.7 321.3 326.2 319.6 326.4 318.8 326.7 317.5 327.2 315.1 327.7 312.6 328.2 309.8 328.7 306.5 328.8 305.8 329.2 302.4 329.7 297.0 330.2 291.5 330.4 289.4 330.7 286.2 331.2 280.2 331.7 275.5 332.1 274.0 332.2 275.2 332.7 306.9 333.0 329.9 333.2 343.5 333.7 375.0 333.7 375.0 334.2 396.1 334.4 399.0 334.7 397.2 335.2 389.6 335.5 385.0 335.7 382.3 336.2 375.4 336.7 369.1 336.8 368.0 337.2 364.3 337.7 360.1 338.2 356.3 338.7 352.7 338.8 352.0 339.2 349.3 339.7 346.0 340.2 343.0 340.7 340.5 340.8 340.0 341.2 338.3 341.7 336.3 342.2 334.7 342.7 333.6 343.1 333.3 343.2 333.3 343.7 334.0 344.2 335.3 344.7 336.8 344.8 337.1 345.2 338.3 345.7 340.0 346.2 341.0 346.3 341.0 346.7 340.6 347.2 339.3 347.7 337.5 348.2 335.4 348.7 333.3 348.8 332.8 349.2 331.2 349.7 328.9 350.2 326.4 350.7 323.6 351.2 320.8 351.6 318.6 351.7 318.1 352.2 315.1 352.7 311.8 353.2 308.5 353.7 305.5 354.2 303.2 354.7 301.9 354.9 301.7 355.2 306.8 355.7 327.4 355.9 335.0 356.2 345.1 356.7 360.9 356.9 365.1 357.2 370.0 357.7 375.8 357.9 376.6 358.2 375.3 358.7 370.0 358.9 368.0 359.2 365.5 359.7 361.6 360.2 358.3 360.3 357.9 360.7 356.3 361.2 354.5 361.7 352.7 362.2 351.0 362.7 349.6 363.2 349.2 363.7 349.0 363.9 348.8 364.2 348.1 364.7 346.8 365.2 345.6 365.7 344.8 366.2 344.4 366.7 344.6 367.2 344.3 367.7 343.9 368.2 343.1 368.3 342.7 368.7 342.1 369.2 341.6 369.7 341.8 370.2 342.0 370.7 342.2 371.2 342.1 371.7 341.8 372.2 340.9 372.7 339.9 373.2 339.3 373.7 339.6 374.2 340.1 374.7 340.2 375.2 339.8 375.7 339.4 376.0 339.4 376.2 339.9 376.7 339.9 377.2 339.7 377.7 338.6 378.2 337.6 378.7 336.6 379.2 336.1 379.7 335.9 380.2 336.3 380.7 337.1 381.2 337.6 381.7 337.5 382.2 337.0 382.7 336.7 383.2 336.5 383.7 336.5 384.2 336.0 384.7 335.6 385.2 334.9 385.3 335.3 385.7 335.5 386.2 335.9 386.7 335.7 387.2 335.4 387.7 335.2 388.2 334.7 388.7 334.2 389.2 333.5 389.7 332.9 390.2 332.6 390.7 332.7 391.2 332.7 391.7 332.6 392.2 332.5 392.7 333.2 393.2 334.0 393.5 334.1 393.7 333.6 394.2 333.0 394.7 332.8 395.2 332.8 395.7 332.9 396.2 333.2 396.7 333.3 397.2 333.3 397.7 332.9 398.2 333.4 398.7 333.7 399.2 334.2 399.7 334.2 400.2 333.9 400.3 333.7 400.7 333.2 401.2 333.4 401.7 332.8 402.2 332.5 402.7 332.1 403.2 333.0 403.7 333.8 404.2 334.8 404.7 335.1 405.2 335.4 405.7 335.8 406.2 336.1 406.3 336.2 406.7 336.4 407.2 336.6 407.7 336.6 408.2 336.4 408.7 336.1 409.2 336.2 409.7 336.3 410.2 336.4 410.7 336.5 411.2 337.1 411.7 338.1 412.2 338.9 412.3 339.0 412.7 338.6 413.2 338.5 413.7 338.5 414.2 338.5 414.7 338.7 415.2 339.1 415.7 340.2 416.2 341.0 416.7 341.4 417.2 341.3 417.7 341.7 417.9 342.2" fill="none" stroke="#959595" stroke-width="1.2" stroke-linejoin="round"/>
<path d="M246.2 335.7L246.7 335.1 247.2 335.7 247.7 336.1 248.2 337.0 248.7 337.0 249.2 336.9 249.7 336.4 250.2 336.2 250.7 336.1 251.2 336.1 251.7 336.1 251.8 336.2 252.2 336.4 252.7 336.4 253.2 335.8 253.7 335.7 254.2 335.7 254.7 336.7 255.2 337.1 255.7 337.8 256.2 338.1 256.7 338.5 257.2 338.5 257.7 338.1 257.8 337.8 258.2 337.1 258.7 337.1 259.2 336.8 259.7 337.3 260.2 337.5 260.7 337.5 261.2 337.0 261.7 336.9 262.2 337.4 262.7 337.9 263.2 337.9 263.7 337.5 264.2 337.0 264.7 336.9 265.2 336.6 265.4 336.8 265.7 337.1 266.2 337.7 266.7 337.9 267.2 337.8 267.7 337.6 268.2 337.6 268.7 337.8 269.2 338.0 269.7 337.7 270.2 337.6 270.7 337.4 271.2 337.7 271.7 337.6 271.8 337.8 272.2 337.6 272.7 337.3 273.2 336.6 273.7 336.1 274.2 335.8 274.7 335.7 275.2 335.6 275.7 335.7 276.2 336.1 276.7 335.9 277.2 335.0 277.7 333.7 277.8 333.4 278.2 333.3 278.7 333.9 279.2 334.4 279.7 334.8 280.2 334.5 280.7 334.1 281.2 333.9 281.7 333.7 282.2 333.4 282.7 333.0 282.8 332.8 283.2 332.2 283.7 331.7 284.2 331.7 284.7 332.2 285.2 332.3 285.7 331.7 286.2 330.8 286.7 330.4 287.2 330.5 287.7 330.8 288.2 331.3 288.4 331.3 288.7 331.1 289.2 330.6 289.7 330.2 290.2 329.6 290.7 328.7 291.2 328.3 291.7 328.2 292.2 328.6 292.7 328.4 292.8 327.9 293.2 326.7 293.7 325.9 294.2 325.8 294.7 325.9 295.2 326.0 295.7 325.4 296.2 325.0 296.7 324.5 296.8 324.9 297.2 324.6 297.7 324.3 298.2 323.7 298.7 323.1 299.2 322.0 299.7 321.5 299.8 321.5 300.2 321.6 300.7 321.2 301.2 320.9 301.7 320.5 302.2 320.1 302.7 319.5 303.1 318.8 303.2 318.6 303.7 317.1 304.2 315.0 304.7 312.3 305.2 309.2 305.5 307.3 305.7 305.8 306.2 300.5 306.7 294.2 307.1 289.4 307.2 288.2 307.7 281.7 308.2 277.4 308.3 277.2 308.7 290.2 309.2 320.1 309.2 320.1 309.7 347.1 310.1 365.1 310.2 368.4 310.7 383.8 311.1 389.1 311.2 388.7 311.7 379.2 312.1 370.0 312.2 368.2 312.7 359.2 313.0 355.0 313.2 353.0 313.7 348.9 314.0 347.1 314.2 346.1 314.7 343.6 315.2 341.4 315.7 339.3 316.2 337.3 316.3 336.8 316.7 335.2 317.2 333.2 317.7 331.3 318.2 329.6 318.7 328.2 319.2 327.7 319.3 327.6 319.7 328.0 320.2 328.9 320.7 330.2 321.2 331.2 321.7 331.8 321.8 331.8 322.2 331.4 322.7 330.2 323.2 328.4 323.7 326.6 323.8 326.3 324.2 325.0 324.7 323.3 325.2 321.4 325.7 319.4 325.9 318.6 326.2 317.4 326.7 315.2 327.2 312.7 327.7 309.8 328.2 306.5 328.3 305.8 328.7 302.3 329.2 296.9 329.7 291.4 329.9 289.3 330.2 286.0 330.7 279.9 331.2 275.1 331.6 273.8 331.7 275.2 332.2 307.0 332.5 329.9 332.7 343.4 333.2 374.9 333.2 374.9 333.7 396.0 333.9 399.0 334.2 397.2 334.7 389.6 335.0 384.9 335.2 382.3 335.7 375.3 336.2 369.1 336.3 368.0 336.7 364.2 337.2 360.0 337.7 356.3 338.2 352.7 338.3 352.0 338.7 349.3 339.2 346.0 339.7 343.0 340.2 340.6 340.3 340.2 340.7 338.5 341.2 336.3 341.7 334.6 342.2 333.4 342.6 333.2 342.7 333.3 343.2 334.0 343.7 335.4 344.2 336.8 344.3 337.0 344.7 338.3 345.2 340.0 345.7 340.9 345.8 340.9 346.2 340.6 346.7 339.4 347.2 337.6 347.7 335.5 348.2 333.4 348.3 333.0 348.7 331.3 349.2 328.9 349.7 326.3 350.2 323.6 350.7 320.8 351.1 318.7 351.2 318.2 351.7 315.1 352.2 311.7 352.7 308.2 353.2 305.1 353.7 302.8 354.2 301.6 354.4 301.6 354.7 306.9 355.2 327.5 355.4 334.9 355.7 344.9 356.2 360.7 356.4 365.1 356.7 370.0 357.2 375.9 357.4 376.5 357.7 375.1 358.2 369.8 358.4 368.0 358.7 365.5 359.2 361.6 359.7 358.4 359.8 358.0 360.2 356.3 360.7 354.3 361.2 352.6 361.7 351.1 362.2 349.4 362.7 348.4 363.2 347.5 363.4 347.1 363.7 346.6 364.2 345.7 364.7 345.3 365.2 344.6 365.7 343.9 366.2 343.0 366.7 342.9 367.2 343.2 367.7 343.4 367.8 343.4 368.2 343.1 368.7 343.1 369.2 343.1 369.7 342.8 370.2 342.0 370.7 340.9 371.2 340.2 371.7 339.5 372.2 339.5 372.7 339.5 373.2 339.8 373.7 339.5 374.2 338.9 374.7 338.2 375.2 338.0 375.5 338.0 375.7 338.3 376.2 338.2 376.7 338.3 377.2 338.4 377.7 338.5 378.2 337.9 378.7 337.2 379.2 336.6 379.7 336.3 380.2 336.1 380.7 335.6 381.2 335.6 381.7 335.8 382.2 336.4 382.7 336.4 383.2 335.5 383.7 334.8 384.2 334.2 384.7 335.0 384.8 335.1 385.2 335.0 385.7 334.1 386.2 333.5 386.7 332.9 387.2 332.5 387.7 332.7 388.2 333.2 388.7 333.6 389.2 333.4 389.7 333.1 390.2 332.8 390.7 332.3 391.2 332.0 391.7 331.8 392.2 332.3 392.7 332.8 393.0 333.3 393.2 333.2 393.7 333.5 394.2 333.1 394.7 332.7 395.2 331.9 395.7 331.7 396.2 331.9 396.7 332.5 397.2 332.8 397.7 333.0 398.2 332.9 398.7 332.9 399.2 332.5 399.7 332.3 399.8 332.6 400.2 332.8 400.7 333.1 401.2 332.8 401.7 332.8 402.2 332.9 402.7 333.5 403.2 333.5 403.7 333.1 404.2 332.4 404.7 332.5 405.2 333.4 405.7 334.0 405.8 334.0 406.2 333.2 406.7 332.9 407.2 332.7 407.7 333.4 408.2 334.2 408.7 334.8 409.2 334.8 409.7 335.1 410.2 335.9 410.7 336.7 411.2 337.0 411.7 336.4 411.8 336.2 412.2 336.4 412.7 337.5 413.2 337.8 413.7 338.0 414.2 337.5 414.7 337.3 415.2 337.2 415.7 337.3 416.2 337.9 416.7 338.7 417.2 339.7 417.4 339.7" fill="none" stroke="#f3aab6" stroke-width="1.1" stroke-linejoin="round"/>
<path d="M246.6 336.4L247.1 335.5 247.6 334.7 248.1 334.7 248.6 335.7 249.1 336.8 249.6 337.4 250.1 337.4 250.6 337.6 251.1 337.5 251.6 337.8 252.1 337.7 252.2 338.0 252.6 338.1 253.1 337.8 253.6 337.3 254.1 336.6 254.6 336.3 255.1 336.3 255.6 336.9 256.1 337.6 256.6 337.9 257.1 337.9 257.6 337.8 258.1 338.0 258.1 337.8 258.6 337.6 259.1 337.2 259.6 337.5 260.1 337.7 260.6 337.9 261.1 337.7 261.6 337.4 262.1 337.5 262.6 337.7 263.1 338.4 263.6 338.4 264.1 338.6 264.6 338.4 265.1 338.9 265.6 338.9 265.8 339.1 266.1 338.7 266.6 338.1 267.1 337.9 267.6 338.1 268.1 338.6 268.6 339.0 269.1 338.8 269.6 338.3 270.1 337.6 270.6 337.7 271.1 337.7 271.6 337.8 272.1 337.5 272.1 337.3 272.6 336.7 273.1 336.2 273.6 335.9 274.1 335.8 274.6 335.7 275.1 335.9 275.6 336.2 276.1 336.3 276.6 336.1 277.1 335.7 277.6 335.3 278.1 335.1 278.1 335.4 278.6 335.7 279.1 335.7 279.6 335.2 280.1 334.6 280.6 334.1 281.1 333.9 281.6 334.0 282.1 334.1 282.6 333.8 283.1 333.8 283.1 333.9 283.6 334.1 284.1 333.5 284.6 332.5 285.1 331.4 285.6 330.8 286.1 330.6 286.6 330.9 287.1 331.3 287.6 331.6 288.1 331.0 288.6 330.2 288.8 329.3 289.1 329.2 289.6 329.1 290.1 329.4 290.6 329.2 291.1 329.0 291.6 328.8 292.1 328.7 292.6 328.6 293.1 328.1 293.1 327.9 293.6 327.8 294.1 327.7 294.6 327.8 295.1 327.2 295.6 326.6 296.1 325.4 296.6 324.7 297.1 323.9 297.1 324.0 297.6 323.6 298.1 323.4 298.6 323.1 299.1 322.8 299.6 322.4 300.1 322.1 300.1 322.0 300.6 321.7 301.1 321.3 301.6 321.0 302.1 320.6 302.6 320.1 303.1 319.4 303.4 318.7 303.6 318.5 304.1 317.1 304.6 315.1 305.1 312.4 305.6 309.3 305.8 307.3 306.1 305.8 306.6 300.3 307.1 294.0 307.4 289.3 307.6 288.3 308.1 281.7 308.6 277.3 308.6 277.1 309.1 290.2 309.5 320.0 309.6 320.1 310.1 347.1 310.4 365.0 310.6 368.3 311.1 383.6 311.4 388.9 311.6 388.6 312.1 379.2 312.4 370.0 312.6 368.1 313.1 359.1 313.3 354.9 313.6 352.9 314.1 348.9 314.3 347.0 314.6 345.9 315.1 343.3 315.6 341.1 316.1 339.1 316.6 337.3 316.6 337.1 317.1 335.6 317.6 333.5 318.1 331.4 318.6 329.6 319.1 328.3 319.6 327.7 319.6 327.7 320.1 328.0 320.6 329.0 321.1 330.2 321.6 331.3 322.1 331.8 322.1 331.7 322.6 331.3 323.1 330.0 323.6 328.1 324.1 326.2 324.1 325.8 324.6 324.6 325.1 323.1 325.6 321.5 326.1 319.6 326.2 318.7 326.6 317.3 327.1 315.0 327.6 312.4 328.1 309.6 328.6 306.4 328.6 305.7 329.1 302.3 329.6 297.0 330.1 291.5 330.2 289.5 330.6 286.2 331.1 280.2 331.6 275.5 331.9 274.1 332.1 275.5 332.6 307.2 332.8 330.1 333.1 343.6 333.5 374.9 333.6 374.8 334.1 395.9 334.2 399.0 334.6 397.2 335.1 389.7 335.3 385.1 335.6 382.5 336.1 375.5 336.6 369.2 336.6 368.1 337.1 364.2 337.6 360.1 338.1 356.3 338.6 352.8 338.6 352.0 339.1 349.2 339.6 345.9 340.1 342.9 340.6 340.4 340.6 340.1 341.1 338.4 341.6 336.4 342.1 334.6 342.6 333.4 342.9 333.2 343.1 333.2 343.6 334.0 344.1 335.4 344.6 336.9 344.6 337.2 345.1 338.4 345.6 340.1 346.1 341.1 346.1 341.0 346.6 340.6 347.1 339.4 347.6 337.6 348.1 335.5 348.6 333.4 348.6 333.1 349.1 331.4 349.6 329.0 350.1 326.3 350.6 323.6 351.1 320.9 351.4 318.8 351.6 318.2 352.1 315.2 352.6 311.8 353.1 308.4 353.6 305.4 354.1 303.1 354.6 301.9 354.8 301.8 355.1 307.0 355.6 327.6 355.8 335.0 356.1 345.1 356.6 360.7 356.8 365.0 357.1 369.9 357.6 375.8 357.8 376.4 358.1 375.1 358.6 369.8 358.8 368.0 359.1 365.5 359.6 361.6 360.1 358.4 360.1 358.0 360.6 356.4 361.1 354.5 361.6 352.8 362.1 352.2 362.6 351.0 363.1 350.0 363.6 348.7 363.8 347.9 364.1 346.8 364.6 346.1 365.1 345.7 365.6 345.8 366.1 345.3 366.6 344.7 367.1 343.9 367.6 343.6 368.1 343.7 368.1 343.9 368.6 343.9 369.1 343.3 369.6 342.8 370.1 342.0 370.6 341.7 371.1 341.9 371.6 342.1 372.1 342.0 372.6 340.9 373.1 340.0 373.6 339.3 374.1 339.2 374.6 339.2 375.1 339.0 375.6 339.1 375.8 339.2 376.1 339.3 376.6 338.1 377.1 337.3 377.6 336.7 378.1 337.1 378.6 337.4 379.1 337.6 379.6 337.6 380.1 337.8 380.6 337.8 381.1 337.5 381.6 336.6 382.1 335.8 382.6 335.6 383.1 335.7 383.6 336.0 384.1 335.7 384.6 335.4 385.1 334.9 385.1 334.9 385.6 335.0 386.1 335.2 386.6 335.1 387.1 334.8 387.6 334.4 388.1 334.3 388.6 334.1 389.1 334.1 389.6 333.9 390.1 333.6 390.6 333.1 391.1 333.0 391.6 333.4 392.1 334.2 392.6 334.5 393.1 334.5 393.3 334.5 393.6 334.4 394.1 334.0 394.6 333.0 395.1 332.3 395.6 332.4 396.1 333.3 396.6 334.3 397.1 334.5 397.6 334.2 398.1 334.2 398.6 334.5 399.1 334.7 399.6 334.2 400.1 333.9 400.1 333.6 400.6 333.5 401.1 333.4 401.6 333.3 402.1 333.4 402.6 333.5 403.1 334.2 403.6 335.0 404.1 335.6 404.6 335.8 405.1 336.0 405.6 336.3 406.1 336.6 406.1 336.4 406.6 336.5 407.1 336.4 407.6 336.2 408.1 335.8 408.6 335.9 409.1 336.3 409.6 337.0 410.1 337.6 410.6 338.4 411.1 338.8 411.6 339.0 412.1 339.2 412.1 339.8 412.6 340.3 413.1 340.5 413.6 340.2 414.1 340.1 414.6 340.3 415.1 340.3 415.6 340.7 416.1 340.8 416.6 341.0 417.1 340.8 417.6 341.0 417.8 341.0" fill="none" stroke="#b02a35" stroke-width="1.15" stroke-dasharray="2.6 1.4" stroke-linejoin="round"/>
<path d="M246.1 334.6L246.6 334.7 247.1 335.1 247.6 335.6 248.1 335.8 248.6 335.8 249.1 335.5 249.6 336.0 250.1 336.3 250.6 336.9 251.1 336.6 251.6 336.2 251.7 336.0 252.1 336.3 252.6 336.7 253.1 337.2 253.6 337.4 254.1 337.5 254.6 336.8 255.1 335.9 255.6 335.2 256.1 335.4 256.6 336.4 257.1 337.1 257.6 337.5 257.7 336.9 258.1 336.5 258.6 335.9 259.1 335.8 259.6 335.7 260.1 336.3 260.6 336.6 261.1 337.2 261.6 337.2 262.1 337.4 262.6 337.4 263.1 338.0 263.6 338.1 264.1 337.7 264.6 336.6 265.1 336.0 265.3 336.0 265.6 336.5 266.1 337.2 266.6 337.7 267.1 338.3 267.6 338.4 268.1 338.2 268.6 337.7 269.1 337.4 269.6 337.2 270.1 336.9 270.6 336.8 271.1 337.2 271.6 337.6 271.7 337.6 272.1 337.0 272.6 336.0 273.1 335.7 273.6 335.6 274.1 336.1 274.6 336.4 275.1 336.5 275.6 336.3 276.1 336.1 276.6 336.2 277.1 336.0 277.6 335.3 277.7 334.4 278.1 333.9 278.6 333.7 279.1 333.4 279.6 333.5 280.1 333.6 280.6 334.2 281.1 333.9 281.6 333.5 282.1 332.8 282.6 332.6 282.7 332.7 283.1 332.7 283.6 332.5 284.1 332.1 284.6 332.1 285.1 332.7 285.6 333.3 286.1 333.6 286.6 333.1 287.1 332.8 287.6 332.5 288.1 332.4 288.3 332.0 288.6 331.0 289.1 329.8 289.6 328.8 290.1 328.4 290.6 328.4 291.1 328.2 291.6 328.2 292.1 328.2 292.6 328.4 292.7 328.7 293.1 328.7 293.6 328.3 294.1 327.8 294.6 327.0 295.1 325.6 295.6 324.5 296.1 323.9 296.6 324.4 296.7 325.3 297.1 325.8 297.6 325.8 298.1 325.2 298.6 324.1 299.1 322.8 299.6 321.9 299.7 322.0 300.1 321.7 300.6 321.3 301.1 320.9 301.6 320.4 302.1 319.9 302.6 319.2 303.0 318.6 303.1 318.5 303.6 317.2 304.1 315.1 304.6 312.4 305.1 309.3 305.4 307.3 305.6 305.8 306.1 300.4 306.6 294.1 307.0 289.4 307.1 288.2 307.6 281.7 308.1 277.4 308.2 277.3 308.6 290.3 309.1 320.0 309.1 320.0 309.6 347.0 310.0 365.0 310.1 368.3 310.6 383.6 311.0 388.9 311.1 388.6 311.6 379.3 312.0 370.1 312.1 368.3 312.6 359.3 312.9 355.1 313.1 353.0 313.6 348.8 313.9 346.8 314.1 345.7 314.6 343.2 315.1 341.1 315.6 339.2 316.1 337.4 316.2 337.1 316.6 335.5 317.1 333.4 317.6 331.3 318.1 329.6 318.6 328.3 319.1 327.8 319.2 327.7 319.6 328.0 320.1 328.8 320.6 330.0 321.1 331.1 321.6 331.7 321.7 331.7 322.1 331.3 322.6 329.9 323.1 328.1 323.6 326.2 323.7 325.9 324.1 324.6 324.6 323.1 325.1 321.4 325.6 319.6 325.8 318.8 326.1 317.5 326.6 315.2 327.1 312.5 327.6 309.6 328.1 306.3 328.2 305.6 328.6 302.3 329.1 297.0 329.6 291.6 329.8 289.5 330.1 286.3 330.6 280.2 331.1 275.4 331.5 273.9 331.6 275.2 332.1 306.9 332.4 329.9 332.6 343.5 333.1 375.1 333.1 375.1 333.6 396.2 333.8 399.0 334.1 397.2 334.6 389.6 334.9 385.0 335.1 382.3 335.6 375.4 336.1 369.1 336.2 368.1 336.6 364.2 337.1 360.0 337.6 356.2 338.1 352.7 338.2 351.9 338.6 349.1 339.1 345.7 339.6 342.6 340.1 340.1 340.2 339.7 340.6 338.2 341.1 336.2 341.6 334.6 342.1 333.6 342.5 333.3 342.6 333.4 343.1 334.2 343.6 335.5 344.1 336.8 344.2 337.0 344.6 338.2 345.1 340.0 345.6 341.0 345.7 341.1 346.1 340.8 346.6 339.6 347.1 337.8 347.6 335.6 348.1 333.4 348.2 333.0 348.6 331.4 349.1 329.0 349.6 326.3 350.1 323.6 350.6 320.9 351.0 318.7 351.1 318.1 351.6 315.0 352.1 311.7 352.6 308.4 353.1 305.4 353.6 303.0 354.1 301.7 354.3 301.5 354.6 306.8 355.1 327.5 355.3 335.1 355.6 345.2 356.1 360.8 356.3 365.0 356.6 370.0 357.1 375.9 357.3 376.5 357.6 375.1 358.1 369.8 358.3 367.9 358.6 365.5 359.1 361.6 359.6 358.4 359.7 357.9 360.1 356.2 360.6 354.4 361.1 352.7 361.6 351.2 362.1 349.3 362.6 347.4 363.1 346.1 363.3 346.3 363.6 346.3 364.1 345.7 364.6 344.9 365.1 344.7 365.6 344.6 366.1 344.2 366.6 343.3 367.1 342.2 367.6 341.4 367.7 341.5 368.1 342.1 368.6 342.7 369.1 342.7 369.6 342.3 370.1 342.0 370.6 341.6 371.1 341.3 371.6 340.8 372.1 340.4 372.6 340.0 373.1 339.5 373.6 339.4 374.1 339.4 374.6 339.6 375.1 339.6 375.4 339.8 375.6 339.9 376.1 339.9 376.6 339.6 377.1 339.2 377.6 338.2 378.1 337.6 378.6 336.8 379.1 336.1 379.6 335.8 380.1 335.7 380.6 336.0 381.1 336.0 381.6 336.1 382.1 336.4 382.6 336.2 383.1 335.8 383.6 335.0 384.1 334.9 384.6 334.7 384.7 334.9 385.1 334.7 385.6 334.4 386.1 334.0 386.6 333.5 387.1 333.3 387.6 333.3 388.1 333.7 388.6 333.5 389.1 333.4 389.6 332.8 390.1 332.9 390.6 332.6 391.1 332.5 391.6 332.3 392.1 332.5 392.6 332.8 392.9 332.8 393.1 333.0 393.6 332.9 394.1 332.5 394.6 331.4 395.1 330.4 395.6 329.9 396.1 330.3 396.6 331.2 397.1 331.8 397.6 332.1 398.1 332.4 398.6 332.8 399.1 333.0 399.6 333.1 399.7 332.9 400.1 332.9 400.6 332.6 401.1 332.2 401.6 331.7 402.1 331.4 402.6 331.2 403.1 331.4 403.6 331.5 404.1 332.0 404.6 332.3 405.1 333.0 405.6 333.3 405.7 333.4 406.1 333.4 406.6 333.9 407.1 334.3 407.6 334.7 408.1 334.6 408.6 334.8 409.1 334.9 409.6 335.3 410.1 335.9 410.6 336.3 411.1 336.2 411.6 335.8 411.7 335.5 412.1 336.0 412.6 336.7 413.1 337.4 413.6 338.0 414.1 338.4 414.6 338.7 415.1 338.3 415.6 337.8 416.1 337.5 416.6 337.8 417.1 338.5 417.3 338.9" fill="none" stroke="#e0353a" stroke-width="1.35" stroke-dasharray="0.9 0.7" stroke-linejoin="round"/>
<text x="224.00" y="276.60" font-size="15.50" font-weight="bold" fill="#000" text-anchor="start">D</text>
<line x1="380" y1="363.3" x2="391.4" y2="363.3" stroke="#e0353a" stroke-width="1.1" stroke-dasharray="0.9 0.7"/>
<text x="397.40" y="365.70" font-size="6.70" fill="#3a3a3a" text-anchor="start">2 Cu(I)</text>
<line x1="380" y1="371.0" x2="391.4" y2="371.0" stroke="#b02a35" stroke-width="1.1" stroke-dasharray="2.6 1.4"/>
<text x="397.40" y="373.40" font-size="6.70" fill="#3a3a3a" text-anchor="start">2.5 Cu(I)</text>
<line x1="380" y1="378.6" x2="391.4" y2="378.6" stroke="#f3aab6" stroke-width="1.1"/>
<text x="397.40" y="381.00" font-size="6.70" fill="#3a3a3a" text-anchor="start">3 Cu(I)</text>
<line x1="380" y1="386.2" x2="391.4" y2="386.2" stroke="#959595" stroke-width="1.1"/>
<text x="397.40" y="388.60" font-size="6.70" fill="#3a3a3a" text-anchor="start">4 Cu(I)</text>
<line x1="380" y1="393.8" x2="391.4" y2="393.8" stroke="#505050" stroke-width="1.1"/>
<text x="397.40" y="396.20" font-size="6.70" fill="#3a3a3a" text-anchor="start">5 Cu(I)</text>
<line x1="247.20" y1="404.2" x2="418.50" y2="404.2" stroke="#222" stroke-width="1"/>
<line x1="247.20" y1="404.2" x2="247.20" y2="406.60" stroke="#222" stroke-width="0.7"/>
<line x1="254.34" y1="404.2" x2="254.34" y2="405.80" stroke="#222" stroke-width="0.7"/>
<line x1="261.47" y1="404.2" x2="261.47" y2="405.80" stroke="#222" stroke-width="0.7"/>
<line x1="268.61" y1="404.2" x2="268.61" y2="405.80" stroke="#222" stroke-width="0.7"/>
<line x1="275.75" y1="404.2" x2="275.75" y2="406.60" stroke="#222" stroke-width="0.7"/>
<line x1="282.89" y1="404.2" x2="282.89" y2="405.80" stroke="#222" stroke-width="0.7"/>
<line x1="290.02" y1="404.2" x2="290.02" y2="405.80" stroke="#222" stroke-width="0.7"/>
<line x1="297.16" y1="404.2" x2="297.16" y2="405.80" stroke="#222" stroke-width="0.7"/>
<line x1="304.30" y1="404.2" x2="304.30" y2="406.60" stroke="#222" stroke-width="0.7"/>
<line x1="311.44" y1="404.2" x2="311.44" y2="405.80" stroke="#222" stroke-width="0.7"/>
<line x1="318.57" y1="404.2" x2="318.57" y2="405.80" stroke="#222" stroke-width="0.7"/>
<line x1="325.71" y1="404.2" x2="325.71" y2="405.80" stroke="#222" stroke-width="0.7"/>
<line x1="332.85" y1="404.2" x2="332.85" y2="406.60" stroke="#222" stroke-width="0.7"/>
<line x1="339.99" y1="404.2" x2="339.99" y2="405.80" stroke="#222" stroke-width="0.7"/>
<line x1="347.12" y1="404.2" x2="347.12" y2="405.80" stroke="#222" stroke-width="0.7"/>
<line x1="354.26" y1="404.2" x2="354.26" y2="405.80" stroke="#222" stroke-width="0.7"/>
<line x1="361.40" y1="404.2" x2="361.40" y2="406.60" stroke="#222" stroke-width="0.7"/>
<line x1="368.54" y1="404.2" x2="368.54" y2="405.80" stroke="#222" stroke-width="0.7"/>
<line x1="375.67" y1="404.2" x2="375.67" y2="405.80" stroke="#222" stroke-width="0.7"/>
<line x1="382.81" y1="404.2" x2="382.81" y2="405.80" stroke="#222" stroke-width="0.7"/>
<line x1="389.95" y1="404.2" x2="389.95" y2="406.60" stroke="#222" stroke-width="0.7"/>
<line x1="397.09" y1="404.2" x2="397.09" y2="405.80" stroke="#222" stroke-width="0.7"/>
<line x1="404.23" y1="404.2" x2="404.23" y2="405.80" stroke="#222" stroke-width="0.7"/>
<line x1="411.36" y1="404.2" x2="411.36" y2="405.80" stroke="#222" stroke-width="0.7"/>
<line x1="418.50" y1="404.2" x2="418.50" y2="406.60" stroke="#222" stroke-width="0.7"/>
<text x="247.20" y="415.60" font-size="7.40" font-weight="bold" fill="#111" text-anchor="middle">3460</text>
<text x="275.75" y="415.60" font-size="7.40" font-weight="bold" fill="#111" text-anchor="middle">3480</text>
<text x="304.30" y="415.60" font-size="7.40" font-weight="bold" fill="#111" text-anchor="middle">3500</text>
<text x="332.85" y="415.60" font-size="7.40" font-weight="bold" fill="#111" text-anchor="middle">3520</text>
<text x="361.40" y="415.60" font-size="7.40" font-weight="bold" fill="#111" text-anchor="middle">3540</text>
<text x="389.95" y="415.60" font-size="7.40" font-weight="bold" fill="#111" text-anchor="middle">3560</text>
<text x="418.50" y="415.60" font-size="7.40" font-weight="bold" fill="#111" text-anchor="middle">3580</text>
<text x="330.60" y="425.30" font-size="7.40" font-weight="bold" fill="#111" text-anchor="middle">Magnetic Field (G)</text>
<line x1="633.10" y1="15.50" x2="633.10" y2="184.40" stroke="#c9c2a8" stroke-width="0.9"/>
<line x1="633.10" y1="184.40" x2="635.60" y2="184.40" stroke="#b0b0b0" stroke-width="0.8"/>
<text x="640.90" y="187.90" font-size="9.60" fill="#a0a0a0" text-anchor="start">0.54</text>
<line x1="633.10" y1="128.10" x2="635.60" y2="128.10" stroke="#b0b0b0" stroke-width="0.8"/>
<text x="640.90" y="131.60" font-size="9.60" fill="#a0a0a0" text-anchor="start">0.56</text>
<line x1="633.10" y1="71.80" x2="635.60" y2="71.80" stroke="#b0b0b0" stroke-width="0.8"/>
<text x="640.90" y="75.30" font-size="9.60" fill="#a0a0a0" text-anchor="start">0.58</text>
<line x1="633.10" y1="15.50" x2="635.60" y2="15.50" stroke="#b0b0b0" stroke-width="0.8"/>
<text x="640.90" y="19.00" font-size="9.60" fill="#a0a0a0" text-anchor="start">0.6</text>
<line x1="633.10" y1="156.25" x2="634.70" y2="156.25" stroke="#b0b0b0" stroke-width="0.7"/>
<line x1="633.10" y1="99.95" x2="634.70" y2="99.95" stroke="#b0b0b0" stroke-width="0.7"/>
<line x1="633.10" y1="43.65" x2="634.70" y2="43.65" stroke="#b0b0b0" stroke-width="0.7"/>
<line x1="492.00" y1="15.50" x2="492.00" y2="184.40" stroke="#8a8a8a" stroke-width="1.6"/>
<line x1="489.40" y1="184.40" x2="492.00" y2="184.40" stroke="#333" stroke-width="0.9"/>
<text x="483.40" y="187.50" font-size="9.70" font-weight="bold" fill="#111" text-anchor="end">0</text>
<line x1="489.40" y1="145.85" x2="492.00" y2="145.85" stroke="#333" stroke-width="0.9"/>
<text x="483.40" y="148.95" font-size="9.70" font-weight="bold" fill="#111" text-anchor="end">0.05</text>
<line x1="489.40" y1="107.30" x2="492.00" y2="107.30" stroke="#333" stroke-width="0.9"/>
<text x="483.40" y="110.40" font-size="9.70" font-weight="bold" fill="#111" text-anchor="end">0.1</text>
<line x1="489.40" y1="68.75" x2="492.00" y2="68.75" stroke="#333" stroke-width="0.9"/>
<text x="483.40" y="71.85" font-size="9.70" font-weight="bold" fill="#111" text-anchor="end">0.15</text>
<line x1="489.40" y1="30.20" x2="492.00" y2="30.20" stroke="#333" stroke-width="0.9"/>
<text x="483.40" y="33.30" font-size="9.70" font-weight="bold" fill="#111" text-anchor="end">0.2</text>
<line x1="490.40" y1="165.12" x2="492.00" y2="165.12" stroke="#333" stroke-width="0.8"/>
<line x1="490.40" y1="126.58" x2="492.00" y2="126.58" stroke="#333" stroke-width="0.8"/>
<line x1="490.40" y1="88.03" x2="492.00" y2="88.03" stroke="#333" stroke-width="0.8"/>
<line x1="490.40" y1="49.48" x2="492.00" y2="49.48" stroke="#333" stroke-width="0.8"/>
<line x1="492.00" y1="184.40" x2="633.50" y2="184.40" stroke="#222" stroke-width="1.1"/>
<line x1="491.70" y1="184.40" x2="491.70" y2="186.60" stroke="#222" stroke-width="0.9"/>
<text x="491.70" y="199.10" font-size="9.30" font-weight="bold" fill="#111" text-anchor="middle">0</text>
<line x1="519.86" y1="184.40" x2="519.86" y2="186.60" stroke="#222" stroke-width="0.9"/>
<text x="519.86" y="199.10" font-size="9.30" font-weight="bold" fill="#111" text-anchor="middle">1</text>
<line x1="548.02" y1="184.40" x2="548.02" y2="186.60" stroke="#222" stroke-width="0.9"/>
<text x="548.02" y="199.10" font-size="9.30" font-weight="bold" fill="#111" text-anchor="middle">2</text>
<line x1="576.18" y1="184.40" x2="576.18" y2="186.60" stroke="#222" stroke-width="0.9"/>
<text x="576.18" y="199.10" font-size="9.30" font-weight="bold" fill="#111" text-anchor="middle">3</text>
<line x1="604.34" y1="184.40" x2="604.34" y2="186.60" stroke="#222" stroke-width="0.9"/>
<text x="604.34" y="199.10" font-size="9.30" font-weight="bold" fill="#111" text-anchor="middle">4</text>
<line x1="632.50" y1="184.40" x2="632.50" y2="186.60" stroke="#222" stroke-width="0.9"/>
<text x="632.50" y="199.10" font-size="9.30" font-weight="bold" fill="#111" text-anchor="middle">5</text>
<line x1="505.78" y1="184.40" x2="505.78" y2="185.90" stroke="#222" stroke-width="0.8"/>
<line x1="533.94" y1="184.40" x2="533.94" y2="185.90" stroke="#222" stroke-width="0.8"/>
<line x1="562.10" y1="184.40" x2="562.10" y2="185.90" stroke="#222" stroke-width="0.8"/>
<line x1="590.26" y1="184.40" x2="590.26" y2="185.90" stroke="#222" stroke-width="0.8"/>
<line x1="618.42" y1="184.40" x2="618.42" y2="185.90" stroke="#222" stroke-width="0.8"/>
<text x="562.00" y="212.80" font-size="9.90" font-weight="bold" fill="#111" text-anchor="middle">Cu(I):CueR</text>
<text x="0.00" y="0.00" font-size="9.90" font-weight="bold" fill="#111" text-anchor="middle" transform="translate(460.40 99.60) rotate(-90)">Order Parameter</text>
<text x="0.00" y="0.00" font-size="10.70" fill="#a8a8a8" text-anchor="middle" transform="translate(671.60 98.80) rotate(-90)">Fraction of Immobile Component</text>
<polyline points="491.70,180.46 497.33,143.02 505.78,142.46 519.86,132.04 548.02,18.60 576.18,18.60 632.50,18.60" fill="none" stroke="#9a9a9a" stroke-width="1.1"/>
<rect x="489.00" y="177.76" width="5.4" height="5.4" fill="none" stroke="#a0a0a0" stroke-width="0.9"/>
<rect x="494.63" y="140.32" width="5.4" height="5.4" fill="none" stroke="#a0a0a0" stroke-width="0.9"/>
<rect x="503.08" y="139.76" width="5.4" height="5.4" fill="none" stroke="#a0a0a0" stroke-width="0.9"/>
<rect x="517.16" y="129.34" width="5.4" height="5.4" fill="none" stroke="#a0a0a0" stroke-width="0.9"/>
<rect x="545.32" y="15.90" width="5.4" height="5.4" fill="none" stroke="#a0a0a0" stroke-width="0.9"/>
<rect x="573.48" y="15.90" width="5.4" height="5.4" fill="none" stroke="#a0a0a0" stroke-width="0.9"/>
<rect x="629.80" y="15.90" width="5.4" height="5.4" fill="none" stroke="#a0a0a0" stroke-width="0.9"/>
<polyline points="491.70,183.78 497.33,152.02 505.78,118.48 519.86,48.32 548.02,48.32 576.18,62.20 632.50,62.20" fill="none" stroke="#111111" stroke-width="1.4"/>
<circle cx="491.70" cy="183.78" r="3.1" fill="#111111"/>
<path d="M497.33 146.02 V158.02 M495.93 146.02 H498.73 M495.93 158.02 H498.73" stroke="#333" stroke-width="0.8" fill="none"/>
<circle cx="497.33" cy="152.02" r="3.1" fill="#111111"/>
<path d="M505.78 111.48 V125.48 M504.38 111.48 H507.18 M504.38 125.48 H507.18" stroke="#333" stroke-width="0.8" fill="none"/>
<circle cx="505.78" cy="118.48" r="3.1" fill="#111111"/>
<path d="M519.86 40.82 V55.82 M518.46 40.82 H521.26 M518.46 55.82 H521.26" stroke="#333" stroke-width="0.8" fill="none"/>
<circle cx="519.86" cy="48.32" r="3.1" fill="#111111"/>
<path d="M548.02 40.82 V55.82 M546.62 40.82 H549.42 M546.62 55.82 H549.42" stroke="#333" stroke-width="0.8" fill="none"/>
<circle cx="548.02" cy="48.32" r="3.1" fill="#111111"/>
<path d="M576.18 55.50 V68.90 M574.78 55.50 H577.58 M574.78 68.90 H577.58" stroke="#333" stroke-width="0.8" fill="none"/>
<circle cx="576.18" cy="62.20" r="3.1" fill="#111111"/>
<path d="M632.50 55.50 V68.90 M631.10 55.50 H633.90 M631.10 68.90 H633.90" stroke="#333" stroke-width="0.8" fill="none"/>
<circle cx="632.50" cy="62.20" r="3.1" fill="#111111"/>
<rect x="493.00" y="15.60" width="28.00" height="168.80" fill="#3c4c66" fill-opacity="0.2"/>
<rect x="521.00" y="15.60" width="28.20" height="168.80" fill="#70ad47" fill-opacity="0.2"/>
<rect x="549.20" y="15.60" width="83.40" height="168.80" fill="#ffc000" fill-opacity="0.2"/>
<text x="439.00" y="14.40" font-size="15.50" font-weight="bold" fill="#000" text-anchor="start">E</text>
<line x1="634.00" y1="231.40" x2="634.00" y2="400.20" stroke="#c9c2a8" stroke-width="0.9"/>
<line x1="634.00" y1="399.00" x2="636.50" y2="399.00" stroke="#b0b0b0" stroke-width="0.8"/>
<text x="641.80" y="402.50" font-size="9.60" fill="#a0a0a0" text-anchor="start">0.4</text>
<line x1="634.00" y1="375.06" x2="636.50" y2="375.06" stroke="#b0b0b0" stroke-width="0.8"/>
<text x="641.80" y="378.56" font-size="9.60" fill="#a0a0a0" text-anchor="start">0.45</text>
<line x1="634.00" y1="351.11" x2="636.50" y2="351.11" stroke="#b0b0b0" stroke-width="0.8"/>
<text x="641.80" y="354.61" font-size="9.60" fill="#a0a0a0" text-anchor="start">0.5</text>
<line x1="634.00" y1="327.17" x2="636.50" y2="327.17" stroke="#b0b0b0" stroke-width="0.8"/>
<text x="641.80" y="330.67" font-size="9.60" fill="#a0a0a0" text-anchor="start">0.55</text>
<line x1="634.00" y1="303.23" x2="636.50" y2="303.23" stroke="#b0b0b0" stroke-width="0.8"/>
<text x="641.80" y="306.73" font-size="9.60" fill="#a0a0a0" text-anchor="start">0.6</text>
<line x1="634.00" y1="279.29" x2="636.50" y2="279.29" stroke="#b0b0b0" stroke-width="0.8"/>
<text x="641.80" y="282.79" font-size="9.60" fill="#a0a0a0" text-anchor="start">0.65</text>
<line x1="634.00" y1="255.34" x2="636.50" y2="255.34" stroke="#b0b0b0" stroke-width="0.8"/>
<text x="641.80" y="258.84" font-size="9.60" fill="#a0a0a0" text-anchor="start">0.7</text>
<line x1="634.00" y1="231.40" x2="636.50" y2="231.40" stroke="#b0b0b0" stroke-width="0.8"/>
<text x="641.80" y="234.90" font-size="9.60" fill="#a0a0a0" text-anchor="start">0.75</text>
<line x1="634.00" y1="387.03" x2="635.60" y2="387.03" stroke="#b0b0b0" stroke-width="0.7"/>
<line x1="634.00" y1="363.09" x2="635.60" y2="363.09" stroke="#b0b0b0" stroke-width="0.7"/>
<line x1="634.00" y1="339.14" x2="635.60" y2="339.14" stroke="#b0b0b0" stroke-width="0.7"/>
<line x1="634.00" y1="315.20" x2="635.60" y2="315.20" stroke="#b0b0b0" stroke-width="0.7"/>
<line x1="634.00" y1="291.26" x2="635.60" y2="291.26" stroke="#b0b0b0" stroke-width="0.7"/>
<line x1="634.00" y1="267.31" x2="635.60" y2="267.31" stroke="#b0b0b0" stroke-width="0.7"/>
<line x1="634.00" y1="243.37" x2="635.60" y2="243.37" stroke="#b0b0b0" stroke-width="0.7"/>
<line x1="493.90" y1="232.00" x2="493.90" y2="400.20" stroke="#8a8a8a" stroke-width="1.6"/>
<line x1="491.30" y1="400.20" x2="493.90" y2="400.20" stroke="#333" stroke-width="0.9"/>
<text x="485.30" y="403.30" font-size="9.70" font-weight="bold" fill="#111" text-anchor="end">0</text>
<line x1="491.30" y1="361.80" x2="493.90" y2="361.80" stroke="#333" stroke-width="0.9"/>
<text x="485.30" y="364.90" font-size="9.70" font-weight="bold" fill="#111" text-anchor="end">0.05</text>
<line x1="491.30" y1="323.40" x2="493.90" y2="323.40" stroke="#333" stroke-width="0.9"/>
<text x="485.30" y="326.50" font-size="9.70" font-weight="bold" fill="#111" text-anchor="end">0.1</text>
<line x1="491.30" y1="285.00" x2="493.90" y2="285.00" stroke="#333" stroke-width="0.9"/>
<text x="485.30" y="288.10" font-size="9.70" font-weight="bold" fill="#111" text-anchor="end">0.15</text>
<line x1="491.30" y1="246.60" x2="493.90" y2="246.60" stroke="#333" stroke-width="0.9"/>
<text x="485.30" y="249.70" font-size="9.70" font-weight="bold" fill="#111" text-anchor="end">0.2</text>
<line x1="492.30" y1="381.00" x2="493.90" y2="381.00" stroke="#333" stroke-width="0.8"/>
<line x1="492.30" y1="342.60" x2="493.90" y2="342.60" stroke="#333" stroke-width="0.8"/>
<line x1="492.30" y1="304.20" x2="493.90" y2="304.20" stroke="#333" stroke-width="0.8"/>
<line x1="492.30" y1="265.80" x2="493.90" y2="265.80" stroke="#333" stroke-width="0.8"/>
<line x1="493.90" y1="400.20" x2="634.40" y2="400.20" stroke="#222" stroke-width="1.1"/>
<line x1="493.70" y1="400.20" x2="493.70" y2="402.40" stroke="#222" stroke-width="0.9"/>
<text x="493.70" y="414.90" font-size="9.30" font-weight="bold" fill="#111" text-anchor="middle">0</text>
<line x1="521.64" y1="400.20" x2="521.64" y2="402.40" stroke="#222" stroke-width="0.9"/>
<text x="521.64" y="414.90" font-size="9.30" font-weight="bold" fill="#111" text-anchor="middle">1</text>
<line x1="549.58" y1="400.20" x2="549.58" y2="402.40" stroke="#222" stroke-width="0.9"/>
<text x="549.58" y="414.90" font-size="9.30" font-weight="bold" fill="#111" text-anchor="middle">2</text>
<line x1="577.52" y1="400.20" x2="577.52" y2="402.40" stroke="#222" stroke-width="0.9"/>
<text x="577.52" y="414.90" font-size="9.30" font-weight="bold" fill="#111" text-anchor="middle">3</text>
<line x1="605.46" y1="400.20" x2="605.46" y2="402.40" stroke="#222" stroke-width="0.9"/>
<text x="605.46" y="414.90" font-size="9.30" font-weight="bold" fill="#111" text-anchor="middle">4</text>
<line x1="633.40" y1="400.20" x2="633.40" y2="402.40" stroke="#222" stroke-width="0.9"/>
<text x="633.40" y="414.90" font-size="9.30" font-weight="bold" fill="#111" text-anchor="middle">5</text>
<line x1="507.67" y1="400.20" x2="507.67" y2="401.70" stroke="#222" stroke-width="0.8"/>
<line x1="535.61" y1="400.20" x2="535.61" y2="401.70" stroke="#222" stroke-width="0.8"/>
<line x1="563.55" y1="400.20" x2="563.55" y2="401.70" stroke="#222" stroke-width="0.8"/>
<line x1="591.49" y1="400.20" x2="591.49" y2="401.70" stroke="#222" stroke-width="0.8"/>
<line x1="619.43" y1="400.20" x2="619.43" y2="401.70" stroke="#222" stroke-width="0.8"/>
<text x="564.00" y="428.80" font-size="9.90" font-weight="bold" fill="#111" text-anchor="middle">Cu(I):CueR</text>
<text x="0.00" y="0.00" font-size="9.90" font-weight="bold" fill="#111" text-anchor="middle" transform="translate(462.10 315.80) rotate(-90)">Order Parameter</text>
<text x="0.00" y="0.00" font-size="10.70" fill="#a8a8a8" text-anchor="middle" transform="translate(672.60 314.70) rotate(-90)">Fraction of Immobile Component</text>
<polyline points="493.70,332.25 499.29,396.80 507.67,392.06 513.26,386.45 521.64,239.30 535.61,239.30 549.58,385.83 563.55,385.83 577.52,385.83 605.46,385.83 633.40,385.83" fill="none" stroke="#333333" stroke-width="1.1"/>
<rect x="491.00" y="329.55" width="5.4" height="5.4" fill="none" stroke="#a0a0a0" stroke-width="0.9"/>
<rect x="496.59" y="394.10" width="5.4" height="5.4" fill="none" stroke="#a0a0a0" stroke-width="0.9"/>
<rect x="504.97" y="389.36" width="5.4" height="5.4" fill="none" stroke="#a0a0a0" stroke-width="0.9"/>
<rect x="510.56" y="383.75" width="5.4" height="5.4" fill="none" stroke="#a0a0a0" stroke-width="0.9"/>
<rect x="518.94" y="236.60" width="5.4" height="5.4" fill="none" stroke="#a0a0a0" stroke-width="0.9"/>
<rect x="532.91" y="236.60" width="5.4" height="5.4" fill="none" stroke="#a0a0a0" stroke-width="0.9"/>
<rect x="546.88" y="383.13" width="5.4" height="5.4" fill="none" stroke="#a0a0a0" stroke-width="0.9"/>
<rect x="560.85" y="383.13" width="5.4" height="5.4" fill="none" stroke="#a0a0a0" stroke-width="0.9"/>
<rect x="574.82" y="383.13" width="5.4" height="5.4" fill="none" stroke="#a0a0a0" stroke-width="0.9"/>
<rect x="602.76" y="383.13" width="5.4" height="5.4" fill="none" stroke="#a0a0a0" stroke-width="0.9"/>
<rect x="630.70" y="383.13" width="5.4" height="5.4" fill="none" stroke="#a0a0a0" stroke-width="0.9"/>
<polyline points="493.70,399.05 499.29,399.05 507.67,399.05 513.26,399.05 521.64,298.82 535.61,298.82 549.58,278.47 563.55,278.47 577.52,278.47 605.46,278.47 633.40,278.47" fill="none" stroke="#111111" stroke-width="1.4"/>
<circle cx="493.70" cy="399.05" r="3.1" fill="#111111"/>
<circle cx="499.29" cy="399.05" r="3.1" fill="#111111"/>
<circle cx="507.67" cy="399.05" r="3.1" fill="#111111"/>
<circle cx="513.26" cy="399.05" r="3.1" fill="#111111"/>
<path d="M521.64 291.82 V305.82 M520.24 291.82 H523.04 M520.24 305.82 H523.04" stroke="#333" stroke-width="0.8" fill="none"/>
<circle cx="521.64" cy="298.82" r="3.1" fill="#111111"/>
<path d="M535.61 291.82 V305.82 M534.21 291.82 H537.01 M534.21 305.82 H537.01" stroke="#333" stroke-width="0.8" fill="none"/>
<circle cx="535.61" cy="298.82" r="3.1" fill="#111111"/>
<path d="M549.58 271.47 V285.47 M548.18 271.47 H550.98 M548.18 285.47 H550.98" stroke="#333" stroke-width="0.8" fill="none"/>
<circle cx="549.58" cy="278.47" r="3.1" fill="#111111"/>
<path d="M563.55 271.47 V285.47 M562.15 271.47 H564.95 M562.15 285.47 H564.95" stroke="#333" stroke-width="0.8" fill="none"/>
<circle cx="563.55" cy="278.47" r="3.1" fill="#111111"/>
<path d="M577.52 271.47 V285.47 M576.12 271.47 H578.92 M576.12 285.47 H578.92" stroke="#333" stroke-width="0.8" fill="none"/>
<circle cx="577.52" cy="278.47" r="3.1" fill="#111111"/>
<path d="M605.46 271.47 V285.47 M604.06 271.47 H606.86 M604.06 285.47 H606.86" stroke="#333" stroke-width="0.8" fill="none"/>
<circle cx="605.46" cy="278.47" r="3.1" fill="#111111"/>
<path d="M633.40 271.47 V285.47 M632.00 271.47 H634.80 M632.00 285.47 H634.80" stroke="#333" stroke-width="0.8" fill="none"/>
<circle cx="633.40" cy="278.47" r="3.1" fill="#111111"/>
<rect x="494.80" y="235.00" width="20.20" height="165.20" fill="#3c4c66" fill-opacity="0.2"/>
<rect x="515.00" y="235.00" width="21.40" height="165.20" fill="#70ad47" fill-opacity="0.2"/>
<rect x="536.40" y="235.00" width="96.60" height="165.20" fill="#ffc000" fill-opacity="0.2"/>
<text x="439.00" y="221.40" font-size="15.50" font-weight="bold" fill="#000" text-anchor="start">F</text>
</svg>
</body></html>
